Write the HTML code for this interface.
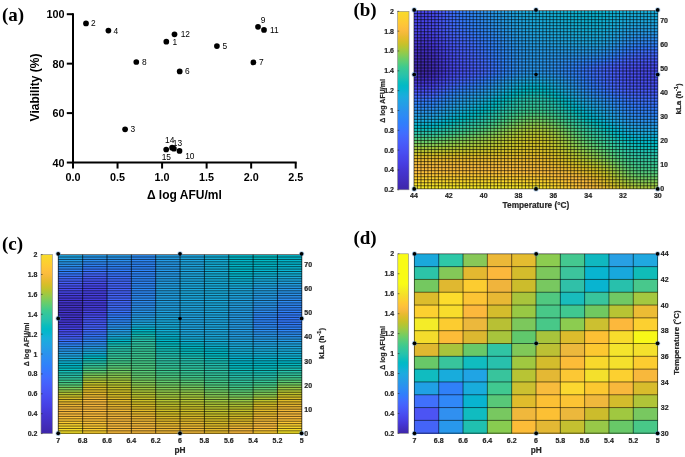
<!DOCTYPE html>
<html><head><meta charset="utf-8"><style>
html,body{margin:0;padding:0;background:#fff;width:685px;height:457px;overflow:hidden}
svg{position:absolute;left:0;top:0;display:block;will-change:transform}
</style></head><body>
<svg width="685" height="457" viewBox="0 0 685 457">
<text x="2.0" y="20.8" font-family="'Liberation Serif',serif" font-weight="bold" font-size="19">(a)</text>
<text x="353.4" y="15.9" font-family="'Liberation Serif',serif" font-weight="bold" font-size="19">(b)</text>
<text x="2.0" y="249.8" font-family="'Liberation Serif',serif" font-weight="bold" font-size="19">(c)</text>
<text x="353.4" y="244.1" font-family="'Liberation Serif',serif" font-weight="bold" font-size="19">(d)</text>
<g stroke="#000" stroke-width="2" fill="none">
<path d="M73.0,13.2 V162.55 H296.7"/>
<path d="M66.8,162.55 H73.0"/>
<path d="M66.8,113.10 H73.0"/>
<path d="M66.8,63.65 H73.0"/>
<path d="M66.8,14.20 H73.0"/>
<path d="M73.00,162.55 V168.55"/>
<path d="M117.54,162.55 V168.55"/>
<path d="M162.08,162.55 V168.55"/>
<path d="M206.62,162.55 V168.55"/>
<path d="M251.16,162.55 V168.55"/>
<path d="M295.70,162.55 V168.55"/>
</g>
<g font-family="'Liberation Sans',sans-serif" font-weight="bold" font-size="10.8" fill="#000">
<text x="64.6" y="166.65" text-anchor="end">40</text>
<text x="64.6" y="117.20" text-anchor="end">60</text>
<text x="64.6" y="67.75" text-anchor="end">80</text>
<text x="64.6" y="18.30" text-anchor="end">100</text>
<text x="73.00" y="181.0" text-anchor="middle">0.0</text>
<text x="117.54" y="181.0" text-anchor="middle">0.5</text>
<text x="162.08" y="181.0" text-anchor="middle">1.0</text>
<text x="206.62" y="181.0" text-anchor="middle">1.5</text>
<text x="251.16" y="181.0" text-anchor="middle">2.0</text>
<text x="295.70" y="181.0" text-anchor="middle">2.5</text>
</g>
<text x="184.3" y="199.4" font-family="'Liberation Sans',sans-serif" font-weight="bold" font-size="12" text-anchor="middle">Δ log AFU/ml</text>
<text transform="translate(38.9,87.5) rotate(-90)" font-family="'Liberation Sans',sans-serif" font-weight="bold" font-size="12" text-anchor="middle">Viability (%)</text>
<g fill="#000">
<circle cx="166.3" cy="41.7" r="2.85"/>
<circle cx="86.0" cy="23.4" r="2.85"/>
<circle cx="125.1" cy="129.3" r="2.85"/>
<circle cx="108.4" cy="30.6" r="2.85"/>
<circle cx="216.9" cy="46.1" r="2.85"/>
<circle cx="179.7" cy="71.4" r="2.85"/>
<circle cx="253.4" cy="62.4" r="2.85"/>
<circle cx="136.3" cy="62.0" r="2.85"/>
<circle cx="258.0" cy="26.8" r="2.85"/>
<circle cx="179.5" cy="150.9" r="2.85"/>
<circle cx="264.0" cy="29.9" r="2.85"/>
<circle cx="174.5" cy="34.3" r="2.85"/>
<circle cx="173.9" cy="148.7" r="2.85"/>
<circle cx="172.1" cy="147.7" r="2.85"/>
<circle cx="166.2" cy="149.5" r="2.85"/>
</g>
<g font-family="'Liberation Sans',sans-serif" font-size="8.4" fill="#000">
<text x="172.6" y="44.6">1</text>
<text x="91.1" y="26.3">2</text>
<text x="130.4" y="132.2">3</text>
<text x="113.6" y="33.5">4</text>
<text x="222.6" y="49.0">5</text>
<text x="185.0" y="74.3">6</text>
<text x="258.9" y="65.3">7</text>
<text x="142.0" y="64.9">8</text>
<text x="260.8" y="22.9">9</text>
<text x="185.2" y="159.3">10</text>
<text x="269.9" y="32.8">11</text>
<text x="180.7" y="36.7">12</text>
<text x="172.8" y="145.6">13</text>
<text x="165.0" y="142.8">14</text>
<text x="161.7" y="159.6">15</text>
</g>
<defs><linearGradient id="gb0"><stop offset="0.000" stop-color="#4743e7"/><stop offset="0.042" stop-color="#4743e7"/><stop offset="0.083" stop-color="#484aee"/><stop offset="0.125" stop-color="#465ffb"/><stop offset="0.167" stop-color="#3b72ff"/><stop offset="0.208" stop-color="#307ffb"/><stop offset="0.250" stop-color="#2d89f5"/><stop offset="0.292" stop-color="#2b92ee"/><stop offset="0.333" stop-color="#2699e9"/><stop offset="0.375" stop-color="#23a0e5"/><stop offset="0.417" stop-color="#1fa6e2"/><stop offset="0.458" stop-color="#1caadf"/><stop offset="0.500" stop-color="#19addc"/><stop offset="0.542" stop-color="#16afd9"/><stop offset="0.583" stop-color="#13b0d7"/><stop offset="0.625" stop-color="#10b2d5"/><stop offset="0.667" stop-color="#0db3d3"/><stop offset="0.708" stop-color="#0bb3d2"/><stop offset="0.750" stop-color="#0bb4d2"/><stop offset="0.792" stop-color="#0db3d3"/><stop offset="0.833" stop-color="#11b1d6"/><stop offset="0.875" stop-color="#14b0d8"/><stop offset="0.917" stop-color="#16afda"/><stop offset="0.958" stop-color="#17aeda"/><stop offset="1.000" stop-color="#17aeda"/></linearGradient><linearGradient id="gb1"><stop offset="0.000" stop-color="#4743e7"/><stop offset="0.042" stop-color="#4743e7"/><stop offset="0.083" stop-color="#484aee"/><stop offset="0.125" stop-color="#465ffb"/><stop offset="0.167" stop-color="#3c72ff"/><stop offset="0.208" stop-color="#307ffb"/><stop offset="0.250" stop-color="#2d88f6"/><stop offset="0.292" stop-color="#2b91ef"/><stop offset="0.333" stop-color="#2698ea"/><stop offset="0.375" stop-color="#249fe5"/><stop offset="0.417" stop-color="#1fa5e2"/><stop offset="0.458" stop-color="#1caadf"/><stop offset="0.500" stop-color="#19acdc"/><stop offset="0.542" stop-color="#16aeda"/><stop offset="0.583" stop-color="#13b0d8"/><stop offset="0.625" stop-color="#11b2d5"/><stop offset="0.667" stop-color="#0eb3d4"/><stop offset="0.708" stop-color="#0cb3d3"/><stop offset="0.750" stop-color="#0bb3d2"/><stop offset="0.792" stop-color="#0eb2d4"/><stop offset="0.833" stop-color="#13b1d7"/><stop offset="0.875" stop-color="#16aeda"/><stop offset="0.917" stop-color="#19addc"/><stop offset="0.958" stop-color="#19addc"/><stop offset="1.000" stop-color="#19addc"/></linearGradient><linearGradient id="gb2"><stop offset="0.000" stop-color="#4743e7"/><stop offset="0.042" stop-color="#4743e7"/><stop offset="0.083" stop-color="#484aed"/><stop offset="0.125" stop-color="#465ffb"/><stop offset="0.167" stop-color="#3d71ff"/><stop offset="0.208" stop-color="#317dfc"/><stop offset="0.250" stop-color="#2e87f7"/><stop offset="0.292" stop-color="#2c8ff0"/><stop offset="0.333" stop-color="#2797ea"/><stop offset="0.375" stop-color="#249ee6"/><stop offset="0.417" stop-color="#20a4e3"/><stop offset="0.458" stop-color="#1ca9e0"/><stop offset="0.500" stop-color="#1aacdd"/><stop offset="0.542" stop-color="#17aedb"/><stop offset="0.583" stop-color="#14b0d8"/><stop offset="0.625" stop-color="#12b1d6"/><stop offset="0.667" stop-color="#0fb2d4"/><stop offset="0.708" stop-color="#0db3d3"/><stop offset="0.750" stop-color="#0db3d3"/><stop offset="0.792" stop-color="#10b2d5"/><stop offset="0.833" stop-color="#15afd8"/><stop offset="0.875" stop-color="#19addc"/><stop offset="0.917" stop-color="#1babde"/><stop offset="0.958" stop-color="#1babde"/><stop offset="1.000" stop-color="#1babde"/></linearGradient><linearGradient id="gb3"><stop offset="0.000" stop-color="#4743e7"/><stop offset="0.042" stop-color="#4743e7"/><stop offset="0.083" stop-color="#4849ed"/><stop offset="0.125" stop-color="#465efb"/><stop offset="0.167" stop-color="#3e6fff"/><stop offset="0.208" stop-color="#327cfc"/><stop offset="0.250" stop-color="#2e85f8"/><stop offset="0.292" stop-color="#2c8ef1"/><stop offset="0.333" stop-color="#2896eb"/><stop offset="0.375" stop-color="#249de6"/><stop offset="0.417" stop-color="#21a3e3"/><stop offset="0.458" stop-color="#1da8e0"/><stop offset="0.500" stop-color="#1aabdd"/><stop offset="0.542" stop-color="#18addb"/><stop offset="0.583" stop-color="#15afd9"/><stop offset="0.625" stop-color="#13b0d7"/><stop offset="0.667" stop-color="#11b2d5"/><stop offset="0.708" stop-color="#0fb2d4"/><stop offset="0.750" stop-color="#0eb2d4"/><stop offset="0.792" stop-color="#12b1d6"/><stop offset="0.833" stop-color="#17aeda"/><stop offset="0.875" stop-color="#1babde"/><stop offset="0.917" stop-color="#1da9e0"/><stop offset="0.958" stop-color="#1da8e0"/><stop offset="1.000" stop-color="#1da8e0"/></linearGradient><linearGradient id="gb4"><stop offset="0.000" stop-color="#4743e7"/><stop offset="0.042" stop-color="#4743e7"/><stop offset="0.083" stop-color="#4849ed"/><stop offset="0.125" stop-color="#465dfb"/><stop offset="0.167" stop-color="#3f6eff"/><stop offset="0.208" stop-color="#347afd"/><stop offset="0.250" stop-color="#2e84f9"/><stop offset="0.292" stop-color="#2d8cf3"/><stop offset="0.333" stop-color="#2995ec"/><stop offset="0.375" stop-color="#259ce7"/><stop offset="0.417" stop-color="#21a2e4"/><stop offset="0.458" stop-color="#1ea7e1"/><stop offset="0.500" stop-color="#1baade"/><stop offset="0.542" stop-color="#19acdc"/><stop offset="0.583" stop-color="#17aeda"/><stop offset="0.625" stop-color="#14b0d8"/><stop offset="0.667" stop-color="#12b1d6"/><stop offset="0.708" stop-color="#11b1d6"/><stop offset="0.750" stop-color="#10b2d5"/><stop offset="0.792" stop-color="#14b0d8"/><stop offset="0.833" stop-color="#19addc"/><stop offset="0.875" stop-color="#1da9e0"/><stop offset="0.917" stop-color="#1fa6e2"/><stop offset="0.958" stop-color="#1fa5e2"/><stop offset="1.000" stop-color="#1fa5e2"/></linearGradient><linearGradient id="gb5"><stop offset="0.000" stop-color="#4742e6"/><stop offset="0.042" stop-color="#4742e6"/><stop offset="0.083" stop-color="#4849ed"/><stop offset="0.125" stop-color="#475cfa"/><stop offset="0.167" stop-color="#406cfe"/><stop offset="0.208" stop-color="#3678fd"/><stop offset="0.250" stop-color="#2f82fa"/><stop offset="0.292" stop-color="#2d8af4"/><stop offset="0.333" stop-color="#2a93ee"/><stop offset="0.375" stop-color="#269be8"/><stop offset="0.417" stop-color="#22a1e4"/><stop offset="0.458" stop-color="#1fa6e1"/><stop offset="0.500" stop-color="#1ca9df"/><stop offset="0.542" stop-color="#1aacdd"/><stop offset="0.583" stop-color="#18addb"/><stop offset="0.625" stop-color="#16afd9"/><stop offset="0.667" stop-color="#14b0d8"/><stop offset="0.708" stop-color="#12b1d7"/><stop offset="0.750" stop-color="#12b1d6"/><stop offset="0.792" stop-color="#16afd9"/><stop offset="0.833" stop-color="#1babde"/><stop offset="0.875" stop-color="#1fa6e2"/><stop offset="0.917" stop-color="#21a2e4"/><stop offset="0.958" stop-color="#22a2e4"/><stop offset="1.000" stop-color="#22a2e4"/></linearGradient><linearGradient id="gb6"><stop offset="0.000" stop-color="#4740e4"/><stop offset="0.042" stop-color="#4740e4"/><stop offset="0.083" stop-color="#4746ea"/><stop offset="0.125" stop-color="#475af9"/><stop offset="0.167" stop-color="#426afe"/><stop offset="0.208" stop-color="#3975fe"/><stop offset="0.250" stop-color="#307ffb"/><stop offset="0.292" stop-color="#2d88f6"/><stop offset="0.333" stop-color="#2b90ef"/><stop offset="0.375" stop-color="#2698ea"/><stop offset="0.417" stop-color="#249fe5"/><stop offset="0.458" stop-color="#20a5e3"/><stop offset="0.500" stop-color="#1da8e0"/><stop offset="0.542" stop-color="#1baade"/><stop offset="0.583" stop-color="#19acdc"/><stop offset="0.625" stop-color="#18aedb"/><stop offset="0.667" stop-color="#16afd9"/><stop offset="0.708" stop-color="#14b0d8"/><stop offset="0.750" stop-color="#14b0d8"/><stop offset="0.792" stop-color="#18addb"/><stop offset="0.833" stop-color="#1da8e0"/><stop offset="0.875" stop-color="#21a2e4"/><stop offset="0.917" stop-color="#249ee6"/><stop offset="0.958" stop-color="#249ee6"/><stop offset="1.000" stop-color="#249ee6"/></linearGradient><linearGradient id="gb7"><stop offset="0.000" stop-color="#463ddf"/><stop offset="0.042" stop-color="#463ddf"/><stop offset="0.083" stop-color="#4743e7"/><stop offset="0.125" stop-color="#4756f7"/><stop offset="0.167" stop-color="#4466fd"/><stop offset="0.208" stop-color="#3c71ff"/><stop offset="0.250" stop-color="#327bfc"/><stop offset="0.292" stop-color="#2e85f8"/><stop offset="0.333" stop-color="#2c8ef2"/><stop offset="0.375" stop-color="#2896eb"/><stop offset="0.417" stop-color="#249de6"/><stop offset="0.458" stop-color="#21a3e4"/><stop offset="0.500" stop-color="#1fa6e2"/><stop offset="0.542" stop-color="#1da9e0"/><stop offset="0.583" stop-color="#1babde"/><stop offset="0.625" stop-color="#19acdc"/><stop offset="0.667" stop-color="#18addb"/><stop offset="0.708" stop-color="#17aeda"/><stop offset="0.750" stop-color="#17aeda"/><stop offset="0.792" stop-color="#1aabdd"/><stop offset="0.833" stop-color="#1fa5e2"/><stop offset="0.875" stop-color="#249ee6"/><stop offset="0.917" stop-color="#2699e9"/><stop offset="0.958" stop-color="#2699ea"/><stop offset="1.000" stop-color="#2699ea"/></linearGradient><linearGradient id="gb8"><stop offset="0.000" stop-color="#4639da"/><stop offset="0.042" stop-color="#4639da"/><stop offset="0.083" stop-color="#473fe3"/><stop offset="0.125" stop-color="#4853f5"/><stop offset="0.167" stop-color="#4563fc"/><stop offset="0.208" stop-color="#3f6efe"/><stop offset="0.250" stop-color="#3678fd"/><stop offset="0.292" stop-color="#2f82fa"/><stop offset="0.333" stop-color="#2d8bf4"/><stop offset="0.375" stop-color="#2994ed"/><stop offset="0.417" stop-color="#259be8"/><stop offset="0.458" stop-color="#23a1e5"/><stop offset="0.500" stop-color="#20a4e3"/><stop offset="0.542" stop-color="#1ea7e1"/><stop offset="0.583" stop-color="#1da9e0"/><stop offset="0.625" stop-color="#1baade"/><stop offset="0.667" stop-color="#1aacdd"/><stop offset="0.708" stop-color="#19acdc"/><stop offset="0.750" stop-color="#19addc"/><stop offset="0.792" stop-color="#1ca9df"/><stop offset="0.833" stop-color="#22a2e4"/><stop offset="0.875" stop-color="#269ae9"/><stop offset="0.917" stop-color="#2994ed"/><stop offset="0.958" stop-color="#2a93ee"/><stop offset="1.000" stop-color="#2a93ee"/></linearGradient><linearGradient id="gb9"><stop offset="0.000" stop-color="#4536d4"/><stop offset="0.042" stop-color="#4536d4"/><stop offset="0.083" stop-color="#463cde"/><stop offset="0.125" stop-color="#4850f2"/><stop offset="0.167" stop-color="#4660fb"/><stop offset="0.208" stop-color="#416bfe"/><stop offset="0.250" stop-color="#3975fe"/><stop offset="0.292" stop-color="#307ffb"/><stop offset="0.333" stop-color="#2d88f6"/><stop offset="0.375" stop-color="#2b91ef"/><stop offset="0.417" stop-color="#2699e9"/><stop offset="0.458" stop-color="#249fe6"/><stop offset="0.500" stop-color="#22a2e4"/><stop offset="0.542" stop-color="#20a5e3"/><stop offset="0.583" stop-color="#1ea7e1"/><stop offset="0.625" stop-color="#1da8e0"/><stop offset="0.667" stop-color="#1caadf"/><stop offset="0.708" stop-color="#1baade"/><stop offset="0.750" stop-color="#1baade"/><stop offset="0.792" stop-color="#1fa6e1"/><stop offset="0.833" stop-color="#249ee6"/><stop offset="0.875" stop-color="#2895ec"/><stop offset="0.917" stop-color="#2c8ef1"/><stop offset="0.958" stop-color="#2d8df2"/><stop offset="1.000" stop-color="#2d8df2"/></linearGradient><linearGradient id="gb10"><stop offset="0.000" stop-color="#4434cf"/><stop offset="0.042" stop-color="#4434cf"/><stop offset="0.083" stop-color="#4639da"/><stop offset="0.125" stop-color="#484df0"/><stop offset="0.167" stop-color="#465dfa"/><stop offset="0.208" stop-color="#4368fe"/><stop offset="0.250" stop-color="#3b72ff"/><stop offset="0.292" stop-color="#327cfc"/><stop offset="0.333" stop-color="#2e86f7"/><stop offset="0.375" stop-color="#2c90f0"/><stop offset="0.417" stop-color="#2797ea"/><stop offset="0.458" stop-color="#259de7"/><stop offset="0.500" stop-color="#23a0e5"/><stop offset="0.542" stop-color="#22a2e4"/><stop offset="0.583" stop-color="#20a4e3"/><stop offset="0.625" stop-color="#1fa6e2"/><stop offset="0.667" stop-color="#1ea7e1"/><stop offset="0.708" stop-color="#1ea8e1"/><stop offset="0.750" stop-color="#1ea8e1"/><stop offset="0.792" stop-color="#21a3e3"/><stop offset="0.833" stop-color="#269ae9"/><stop offset="0.875" stop-color="#2c90f0"/><stop offset="0.917" stop-color="#2d88f6"/><stop offset="0.958" stop-color="#2e87f7"/><stop offset="1.000" stop-color="#2e87f7"/></linearGradient><linearGradient id="gb11"><stop offset="0.000" stop-color="#4332c9"/><stop offset="0.042" stop-color="#4332c9"/><stop offset="0.083" stop-color="#4536d5"/><stop offset="0.125" stop-color="#484aee"/><stop offset="0.167" stop-color="#475af9"/><stop offset="0.208" stop-color="#4465fd"/><stop offset="0.250" stop-color="#3e70ff"/><stop offset="0.292" stop-color="#337afd"/><stop offset="0.333" stop-color="#2e85f8"/><stop offset="0.375" stop-color="#2c8ef1"/><stop offset="0.417" stop-color="#2896ec"/><stop offset="0.458" stop-color="#259be8"/><stop offset="0.500" stop-color="#249ee6"/><stop offset="0.542" stop-color="#23a0e5"/><stop offset="0.583" stop-color="#22a1e4"/><stop offset="0.625" stop-color="#21a3e4"/><stop offset="0.667" stop-color="#21a3e3"/><stop offset="0.708" stop-color="#20a4e3"/><stop offset="0.750" stop-color="#21a4e3"/><stop offset="0.792" stop-color="#249ee6"/><stop offset="0.833" stop-color="#2994ed"/><stop offset="0.875" stop-color="#2d89f5"/><stop offset="0.917" stop-color="#2f81fa"/><stop offset="0.958" stop-color="#3080fb"/><stop offset="1.000" stop-color="#3080fb"/></linearGradient><linearGradient id="gb12"><stop offset="0.000" stop-color="#422fc2"/><stop offset="0.042" stop-color="#422fc2"/><stop offset="0.083" stop-color="#4434cf"/><stop offset="0.125" stop-color="#4747eb"/><stop offset="0.167" stop-color="#4758f8"/><stop offset="0.208" stop-color="#4563fd"/><stop offset="0.250" stop-color="#3f6dfe"/><stop offset="0.292" stop-color="#3678fd"/><stop offset="0.333" stop-color="#2e83f9"/><stop offset="0.375" stop-color="#2d8cf3"/><stop offset="0.417" stop-color="#2994ed"/><stop offset="0.458" stop-color="#269ae9"/><stop offset="0.500" stop-color="#259ce7"/><stop offset="0.542" stop-color="#249de7"/><stop offset="0.583" stop-color="#249ee6"/><stop offset="0.625" stop-color="#249fe6"/><stop offset="0.667" stop-color="#249fe5"/><stop offset="0.708" stop-color="#249fe5"/><stop offset="0.750" stop-color="#249ee6"/><stop offset="0.792" stop-color="#2699e9"/><stop offset="0.833" stop-color="#2c8ef1"/><stop offset="0.875" stop-color="#2f82f9"/><stop offset="0.917" stop-color="#3479fd"/><stop offset="0.958" stop-color="#3678fe"/><stop offset="1.000" stop-color="#3678fe"/></linearGradient><linearGradient id="gb13"><stop offset="0.000" stop-color="#412dbd"/><stop offset="0.042" stop-color="#412dbd"/><stop offset="0.083" stop-color="#4332ca"/><stop offset="0.125" stop-color="#4745e9"/><stop offset="0.167" stop-color="#4755f6"/><stop offset="0.208" stop-color="#4561fc"/><stop offset="0.250" stop-color="#416bfe"/><stop offset="0.292" stop-color="#3876fe"/><stop offset="0.333" stop-color="#2f81fa"/><stop offset="0.375" stop-color="#2d8bf4"/><stop offset="0.417" stop-color="#2a93ee"/><stop offset="0.458" stop-color="#2798ea"/><stop offset="0.500" stop-color="#269ae8"/><stop offset="0.542" stop-color="#269be8"/><stop offset="0.583" stop-color="#259be8"/><stop offset="0.625" stop-color="#259be8"/><stop offset="0.667" stop-color="#259be8"/><stop offset="0.708" stop-color="#269ae8"/><stop offset="0.750" stop-color="#2699e9"/><stop offset="0.792" stop-color="#2a93ee"/><stop offset="0.833" stop-color="#2d87f7"/><stop offset="0.875" stop-color="#337bfd"/><stop offset="0.917" stop-color="#3c71ff"/><stop offset="0.958" stop-color="#3e6fff"/><stop offset="1.000" stop-color="#3e6fff"/></linearGradient><linearGradient id="gb14"><stop offset="0.000" stop-color="#402bb8"/><stop offset="0.042" stop-color="#402bb8"/><stop offset="0.083" stop-color="#4330c5"/><stop offset="0.125" stop-color="#4742e6"/><stop offset="0.167" stop-color="#4853f5"/><stop offset="0.208" stop-color="#465ffb"/><stop offset="0.250" stop-color="#4269fe"/><stop offset="0.292" stop-color="#3a74fe"/><stop offset="0.333" stop-color="#307ffb"/><stop offset="0.375" stop-color="#2d89f5"/><stop offset="0.417" stop-color="#2b92ef"/><stop offset="0.458" stop-color="#2797eb"/><stop offset="0.500" stop-color="#2699e9"/><stop offset="0.542" stop-color="#2699ea"/><stop offset="0.583" stop-color="#2798ea"/><stop offset="0.625" stop-color="#2797ea"/><stop offset="0.667" stop-color="#2796eb"/><stop offset="0.708" stop-color="#2995ec"/><stop offset="0.750" stop-color="#2a93ee"/><stop offset="0.792" stop-color="#2d8cf3"/><stop offset="0.833" stop-color="#2f80fa"/><stop offset="0.875" stop-color="#3b73fe"/><stop offset="0.917" stop-color="#426afe"/><stop offset="0.958" stop-color="#4368fe"/><stop offset="1.000" stop-color="#4368fe"/></linearGradient><linearGradient id="gb15"><stop offset="0.000" stop-color="#402ab4"/><stop offset="0.042" stop-color="#402ab4"/><stop offset="0.083" stop-color="#422fc1"/><stop offset="0.125" stop-color="#4740e4"/><stop offset="0.167" stop-color="#4851f3"/><stop offset="0.208" stop-color="#475cfa"/><stop offset="0.250" stop-color="#4366fd"/><stop offset="0.292" stop-color="#3c71ff"/><stop offset="0.333" stop-color="#317dfc"/><stop offset="0.375" stop-color="#2d88f6"/><stop offset="0.417" stop-color="#2b90ef"/><stop offset="0.458" stop-color="#2896eb"/><stop offset="0.500" stop-color="#2798ea"/><stop offset="0.542" stop-color="#2797eb"/><stop offset="0.583" stop-color="#2896ec"/><stop offset="0.625" stop-color="#2994ed"/><stop offset="0.667" stop-color="#2b91ef"/><stop offset="0.708" stop-color="#2c8ff1"/><stop offset="0.750" stop-color="#2d8cf3"/><stop offset="0.792" stop-color="#2e85f8"/><stop offset="0.833" stop-color="#3578fd"/><stop offset="0.875" stop-color="#416bfe"/><stop offset="0.917" stop-color="#4562fc"/><stop offset="0.958" stop-color="#4561fc"/><stop offset="1.000" stop-color="#4561fc"/></linearGradient><linearGradient id="gb16"><stop offset="0.000" stop-color="#3f29b0"/><stop offset="0.042" stop-color="#3f29b0"/><stop offset="0.083" stop-color="#412dbd"/><stop offset="0.125" stop-color="#463ee1"/><stop offset="0.167" stop-color="#484ff1"/><stop offset="0.208" stop-color="#475af9"/><stop offset="0.250" stop-color="#4564fd"/><stop offset="0.292" stop-color="#3f6eff"/><stop offset="0.333" stop-color="#337bfd"/><stop offset="0.375" stop-color="#2e86f7"/><stop offset="0.417" stop-color="#2c8ff1"/><stop offset="0.458" stop-color="#2895ec"/><stop offset="0.500" stop-color="#2797eb"/><stop offset="0.542" stop-color="#2896ec"/><stop offset="0.583" stop-color="#2a93ed"/><stop offset="0.625" stop-color="#2c90f0"/><stop offset="0.667" stop-color="#2d8cf3"/><stop offset="0.708" stop-color="#2d87f7"/><stop offset="0.750" stop-color="#2e83f9"/><stop offset="0.792" stop-color="#337bfd"/><stop offset="0.833" stop-color="#3f6eff"/><stop offset="0.875" stop-color="#4562fc"/><stop offset="0.917" stop-color="#475bf9"/><stop offset="0.958" stop-color="#4759f9"/><stop offset="1.000" stop-color="#4759f9"/></linearGradient><linearGradient id="gb17"><stop offset="0.000" stop-color="#3e28ac"/><stop offset="0.042" stop-color="#3e28ac"/><stop offset="0.083" stop-color="#412cb9"/><stop offset="0.125" stop-color="#463cde"/><stop offset="0.167" stop-color="#484cf0"/><stop offset="0.208" stop-color="#4757f7"/><stop offset="0.250" stop-color="#4661fc"/><stop offset="0.292" stop-color="#416cfe"/><stop offset="0.333" stop-color="#3578fd"/><stop offset="0.375" stop-color="#2e84f8"/><stop offset="0.417" stop-color="#2c8ef1"/><stop offset="0.458" stop-color="#2994ed"/><stop offset="0.500" stop-color="#2796eb"/><stop offset="0.542" stop-color="#2995ec"/><stop offset="0.583" stop-color="#2b91ef"/><stop offset="0.625" stop-color="#2d8cf3"/><stop offset="0.667" stop-color="#2e86f8"/><stop offset="0.708" stop-color="#307ffb"/><stop offset="0.750" stop-color="#3479fd"/><stop offset="0.792" stop-color="#3e70ff"/><stop offset="0.833" stop-color="#4464fd"/><stop offset="0.875" stop-color="#475af9"/><stop offset="0.917" stop-color="#4853f5"/><stop offset="0.958" stop-color="#4852f4"/><stop offset="1.000" stop-color="#4852f4"/></linearGradient><linearGradient id="gb18"><stop offset="0.000" stop-color="#3e27aa"/><stop offset="0.042" stop-color="#3e27aa"/><stop offset="0.083" stop-color="#402bb7"/><stop offset="0.125" stop-color="#463bdc"/><stop offset="0.167" stop-color="#484bee"/><stop offset="0.208" stop-color="#4755f6"/><stop offset="0.250" stop-color="#465ffb"/><stop offset="0.292" stop-color="#4269fe"/><stop offset="0.333" stop-color="#3776fe"/><stop offset="0.375" stop-color="#2e83f9"/><stop offset="0.417" stop-color="#2d8df2"/><stop offset="0.458" stop-color="#2994ed"/><stop offset="0.500" stop-color="#2896ec"/><stop offset="0.542" stop-color="#2994ed"/><stop offset="0.583" stop-color="#2c8ff0"/><stop offset="0.625" stop-color="#2d89f6"/><stop offset="0.667" stop-color="#2f81fa"/><stop offset="0.708" stop-color="#3579fd"/><stop offset="0.750" stop-color="#3d71ff"/><stop offset="0.792" stop-color="#4367fd"/><stop offset="0.833" stop-color="#465dfa"/><stop offset="0.875" stop-color="#4854f5"/><stop offset="0.917" stop-color="#484ef1"/><stop offset="0.958" stop-color="#484df0"/><stop offset="1.000" stop-color="#484df0"/></linearGradient><linearGradient id="gb19"><stop offset="0.000" stop-color="#3e26a8"/><stop offset="0.042" stop-color="#3e26a8"/><stop offset="0.083" stop-color="#402bb6"/><stop offset="0.125" stop-color="#463adb"/><stop offset="0.167" stop-color="#484aee"/><stop offset="0.208" stop-color="#4854f5"/><stop offset="0.250" stop-color="#465efb"/><stop offset="0.292" stop-color="#4368fe"/><stop offset="0.333" stop-color="#3876fe"/><stop offset="0.375" stop-color="#2f82f9"/><stop offset="0.417" stop-color="#2d8df3"/><stop offset="0.458" stop-color="#2a93ed"/><stop offset="0.500" stop-color="#2895ec"/><stop offset="0.542" stop-color="#2a93ed"/><stop offset="0.583" stop-color="#2c8ef1"/><stop offset="0.625" stop-color="#2e87f7"/><stop offset="0.667" stop-color="#307ffb"/><stop offset="0.708" stop-color="#3875fe"/><stop offset="0.750" stop-color="#406dfe"/><stop offset="0.792" stop-color="#4564fd"/><stop offset="0.833" stop-color="#475af9"/><stop offset="0.875" stop-color="#4851f3"/><stop offset="0.917" stop-color="#484bef"/><stop offset="0.958" stop-color="#484aee"/><stop offset="1.000" stop-color="#484aee"/></linearGradient><linearGradient id="gb20"><stop offset="0.000" stop-color="#3e27ab"/><stop offset="0.042" stop-color="#3e27ab"/><stop offset="0.083" stop-color="#402bb8"/><stop offset="0.125" stop-color="#463bdd"/><stop offset="0.167" stop-color="#484bef"/><stop offset="0.208" stop-color="#4756f6"/><stop offset="0.250" stop-color="#465ffb"/><stop offset="0.292" stop-color="#426afe"/><stop offset="0.333" stop-color="#3677fe"/><stop offset="0.375" stop-color="#2e84f8"/><stop offset="0.417" stop-color="#2c8ef1"/><stop offset="0.458" stop-color="#2895ec"/><stop offset="0.500" stop-color="#2797eb"/><stop offset="0.542" stop-color="#2895ec"/><stop offset="0.583" stop-color="#2c90f0"/><stop offset="0.625" stop-color="#2d88f6"/><stop offset="0.667" stop-color="#307ffb"/><stop offset="0.708" stop-color="#3876fe"/><stop offset="0.750" stop-color="#3f6dfe"/><stop offset="0.792" stop-color="#4564fd"/><stop offset="0.833" stop-color="#475af9"/><stop offset="0.875" stop-color="#4851f3"/><stop offset="0.917" stop-color="#484bef"/><stop offset="0.958" stop-color="#484aee"/><stop offset="1.000" stop-color="#484aee"/></linearGradient><linearGradient id="gb21"><stop offset="0.000" stop-color="#402ab4"/><stop offset="0.042" stop-color="#402ab4"/><stop offset="0.083" stop-color="#422fc1"/><stop offset="0.125" stop-color="#473fe3"/><stop offset="0.167" stop-color="#4850f2"/><stop offset="0.208" stop-color="#475af9"/><stop offset="0.250" stop-color="#4464fd"/><stop offset="0.292" stop-color="#3e70ff"/><stop offset="0.333" stop-color="#317efb"/><stop offset="0.375" stop-color="#2d8af4"/><stop offset="0.417" stop-color="#2994ed"/><stop offset="0.458" stop-color="#259be8"/><stop offset="0.500" stop-color="#259de7"/><stop offset="0.542" stop-color="#269be8"/><stop offset="0.583" stop-color="#2995ec"/><stop offset="0.625" stop-color="#2d8cf3"/><stop offset="0.667" stop-color="#2f83f9"/><stop offset="0.708" stop-color="#3678fd"/><stop offset="0.750" stop-color="#3e6fff"/><stop offset="0.792" stop-color="#4465fd"/><stop offset="0.833" stop-color="#475bf9"/><stop offset="0.875" stop-color="#4852f4"/><stop offset="0.917" stop-color="#484cf0"/><stop offset="0.958" stop-color="#484bef"/><stop offset="1.000" stop-color="#484bef"/></linearGradient><linearGradient id="gb22"><stop offset="0.000" stop-color="#422fc1"/><stop offset="0.042" stop-color="#422fc1"/><stop offset="0.083" stop-color="#4433cd"/><stop offset="0.125" stop-color="#4746ea"/><stop offset="0.167" stop-color="#4757f7"/><stop offset="0.208" stop-color="#4562fc"/><stop offset="0.250" stop-color="#406cfe"/><stop offset="0.292" stop-color="#3578fd"/><stop offset="0.333" stop-color="#2e86f7"/><stop offset="0.375" stop-color="#2b92ee"/><stop offset="0.417" stop-color="#259ce7"/><stop offset="0.458" stop-color="#21a3e4"/><stop offset="0.500" stop-color="#20a5e2"/><stop offset="0.542" stop-color="#22a2e4"/><stop offset="0.583" stop-color="#259be7"/><stop offset="0.625" stop-color="#2b92ee"/><stop offset="0.667" stop-color="#2e87f7"/><stop offset="0.708" stop-color="#327bfc"/><stop offset="0.750" stop-color="#3c71ff"/><stop offset="0.792" stop-color="#4367fd"/><stop offset="0.833" stop-color="#475cfa"/><stop offset="0.875" stop-color="#4853f5"/><stop offset="0.917" stop-color="#484ef1"/><stop offset="0.958" stop-color="#484df0"/><stop offset="1.000" stop-color="#484df0"/></linearGradient><linearGradient id="gb23"><stop offset="0.000" stop-color="#4434d0"/><stop offset="0.042" stop-color="#4434d0"/><stop offset="0.083" stop-color="#463adb"/><stop offset="0.125" stop-color="#484ef1"/><stop offset="0.167" stop-color="#465ffb"/><stop offset="0.208" stop-color="#426afe"/><stop offset="0.250" stop-color="#3875fe"/><stop offset="0.292" stop-color="#2f82fa"/><stop offset="0.333" stop-color="#2c8ef1"/><stop offset="0.375" stop-color="#269be8"/><stop offset="0.417" stop-color="#20a4e3"/><stop offset="0.458" stop-color="#1babde"/><stop offset="0.500" stop-color="#19addc"/><stop offset="0.542" stop-color="#1caadf"/><stop offset="0.583" stop-color="#21a3e4"/><stop offset="0.625" stop-color="#2798ea"/><stop offset="0.667" stop-color="#2d8cf3"/><stop offset="0.708" stop-color="#307ffb"/><stop offset="0.750" stop-color="#3974fe"/><stop offset="0.792" stop-color="#4269fe"/><stop offset="0.833" stop-color="#465efb"/><stop offset="0.875" stop-color="#4755f6"/><stop offset="0.917" stop-color="#4850f2"/><stop offset="0.958" stop-color="#484ff2"/><stop offset="1.000" stop-color="#484ff2"/></linearGradient><linearGradient id="gb24"><stop offset="0.000" stop-color="#463bdd"/><stop offset="0.042" stop-color="#463bdd"/><stop offset="0.083" stop-color="#4741e5"/><stop offset="0.125" stop-color="#4756f7"/><stop offset="0.167" stop-color="#4367fd"/><stop offset="0.208" stop-color="#3a73fe"/><stop offset="0.250" stop-color="#317efb"/><stop offset="0.292" stop-color="#2d8af5"/><stop offset="0.333" stop-color="#2796eb"/><stop offset="0.375" stop-color="#22a2e4"/><stop offset="0.417" stop-color="#1aabdd"/><stop offset="0.458" stop-color="#11b1d6"/><stop offset="0.500" stop-color="#0cb3d3"/><stop offset="0.542" stop-color="#13b0d7"/><stop offset="0.583" stop-color="#1da9e0"/><stop offset="0.625" stop-color="#249ee6"/><stop offset="0.667" stop-color="#2b90ef"/><stop offset="0.708" stop-color="#2e83f9"/><stop offset="0.750" stop-color="#3678fe"/><stop offset="0.792" stop-color="#406cfe"/><stop offset="0.833" stop-color="#4661fc"/><stop offset="0.875" stop-color="#4757f8"/><stop offset="0.917" stop-color="#4852f4"/><stop offset="0.958" stop-color="#4851f3"/><stop offset="1.000" stop-color="#4851f3"/></linearGradient><linearGradient id="gb25"><stop offset="0.000" stop-color="#4744e8"/><stop offset="0.042" stop-color="#4744e8"/><stop offset="0.083" stop-color="#484aee"/><stop offset="0.125" stop-color="#465ffb"/><stop offset="0.167" stop-color="#3d71ff"/><stop offset="0.208" stop-color="#327cfc"/><stop offset="0.250" stop-color="#2e86f7"/><stop offset="0.292" stop-color="#2b91ef"/><stop offset="0.333" stop-color="#259de7"/><stop offset="0.375" stop-color="#1da8e0"/><stop offset="0.417" stop-color="#12b1d6"/><stop offset="0.458" stop-color="#05b6ce"/><stop offset="0.500" stop-color="#02b7cb"/><stop offset="0.542" stop-color="#07b5d0"/><stop offset="0.583" stop-color="#17aedb"/><stop offset="0.625" stop-color="#21a3e4"/><stop offset="0.667" stop-color="#2895ec"/><stop offset="0.708" stop-color="#2e87f7"/><stop offset="0.750" stop-color="#327cfc"/><stop offset="0.792" stop-color="#3e70ff"/><stop offset="0.833" stop-color="#4464fd"/><stop offset="0.875" stop-color="#475bf9"/><stop offset="0.917" stop-color="#4755f6"/><stop offset="0.958" stop-color="#4854f6"/><stop offset="1.000" stop-color="#4854f6"/></linearGradient><linearGradient id="gb26"><stop offset="0.000" stop-color="#484ef1"/><stop offset="0.042" stop-color="#484ef1"/><stop offset="0.083" stop-color="#4755f6"/><stop offset="0.125" stop-color="#426afe"/><stop offset="0.167" stop-color="#327cfc"/><stop offset="0.208" stop-color="#2e86f7"/><stop offset="0.250" stop-color="#2c8ef1"/><stop offset="0.292" stop-color="#2698ea"/><stop offset="0.333" stop-color="#21a4e3"/><stop offset="0.375" stop-color="#17aeda"/><stop offset="0.417" stop-color="#06b5ce"/><stop offset="0.458" stop-color="#02bac5"/><stop offset="0.500" stop-color="#04bbc2"/><stop offset="0.542" stop-color="#01b9c7"/><stop offset="0.583" stop-color="#0eb2d4"/><stop offset="0.625" stop-color="#1ea8e0"/><stop offset="0.667" stop-color="#269ae8"/><stop offset="0.708" stop-color="#2d8cf3"/><stop offset="0.750" stop-color="#2f81fa"/><stop offset="0.792" stop-color="#3876fe"/><stop offset="0.833" stop-color="#426afe"/><stop offset="0.875" stop-color="#4660fc"/><stop offset="0.917" stop-color="#475bf9"/><stop offset="0.958" stop-color="#475af9"/><stop offset="1.000" stop-color="#475af9"/></linearGradient><linearGradient id="gb27"><stop offset="0.000" stop-color="#475af9"/><stop offset="0.042" stop-color="#475af9"/><stop offset="0.083" stop-color="#4660fc"/><stop offset="0.125" stop-color="#3876fe"/><stop offset="0.167" stop-color="#2e86f7"/><stop offset="0.208" stop-color="#2c8ff1"/><stop offset="0.250" stop-color="#2797eb"/><stop offset="0.292" stop-color="#23a0e5"/><stop offset="0.333" stop-color="#1caadf"/><stop offset="0.375" stop-color="#0cb3d3"/><stop offset="0.417" stop-color="#01b9c6"/><stop offset="0.458" stop-color="#0cbdbc"/><stop offset="0.500" stop-color="#13beb9"/><stop offset="0.542" stop-color="#08bcbf"/><stop offset="0.583" stop-color="#03b7cc"/><stop offset="0.625" stop-color="#19addc"/><stop offset="0.667" stop-color="#239fe5"/><stop offset="0.708" stop-color="#2b92ee"/><stop offset="0.750" stop-color="#2e87f7"/><stop offset="0.792" stop-color="#327cfc"/><stop offset="0.833" stop-color="#3d70ff"/><stop offset="0.875" stop-color="#4367fd"/><stop offset="0.917" stop-color="#4561fc"/><stop offset="0.958" stop-color="#4660fc"/><stop offset="1.000" stop-color="#4660fc"/></linearGradient><linearGradient id="gb28"><stop offset="0.000" stop-color="#4367fd"/><stop offset="0.042" stop-color="#4367fd"/><stop offset="0.083" stop-color="#406dfe"/><stop offset="0.125" stop-color="#307ffb"/><stop offset="0.167" stop-color="#2d8df2"/><stop offset="0.208" stop-color="#2896eb"/><stop offset="0.250" stop-color="#249ee6"/><stop offset="0.292" stop-color="#1ea7e1"/><stop offset="0.333" stop-color="#14b0d8"/><stop offset="0.375" stop-color="#01b8ca"/><stop offset="0.417" stop-color="#0bbdbd"/><stop offset="0.458" stop-color="#1dc0b3"/><stop offset="0.500" stop-color="#22c1b0"/><stop offset="0.542" stop-color="#18bfb6"/><stop offset="0.583" stop-color="#02bac4"/><stop offset="0.625" stop-color="#10b2d5"/><stop offset="0.667" stop-color="#1fa6e2"/><stop offset="0.708" stop-color="#2699e9"/><stop offset="0.750" stop-color="#2c8ef1"/><stop offset="0.792" stop-color="#2e84f9"/><stop offset="0.833" stop-color="#3678fd"/><stop offset="0.875" stop-color="#3f6efe"/><stop offset="0.917" stop-color="#4368fe"/><stop offset="0.958" stop-color="#4367fd"/><stop offset="1.000" stop-color="#4367fd"/></linearGradient><linearGradient id="gb29"><stop offset="0.000" stop-color="#3975fe"/><stop offset="0.042" stop-color="#3975fe"/><stop offset="0.083" stop-color="#3479fd"/><stop offset="0.125" stop-color="#2e87f7"/><stop offset="0.167" stop-color="#2a93ee"/><stop offset="0.208" stop-color="#259ce7"/><stop offset="0.250" stop-color="#20a5e2"/><stop offset="0.292" stop-color="#18addb"/><stop offset="0.333" stop-color="#06b5cf"/><stop offset="0.375" stop-color="#05bbc1"/><stop offset="0.417" stop-color="#1bc0b4"/><stop offset="0.458" stop-color="#28c2ab"/><stop offset="0.500" stop-color="#2bc3a8"/><stop offset="0.542" stop-color="#25c2ae"/><stop offset="0.583" stop-color="#0dbdbb"/><stop offset="0.625" stop-color="#04b6cd"/><stop offset="0.667" stop-color="#19acdc"/><stop offset="0.708" stop-color="#23a0e5"/><stop offset="0.750" stop-color="#2796eb"/><stop offset="0.792" stop-color="#2d8cf3"/><stop offset="0.833" stop-color="#2f80fa"/><stop offset="0.875" stop-color="#3876fe"/><stop offset="0.917" stop-color="#3e6fff"/><stop offset="0.958" stop-color="#3f6efe"/><stop offset="1.000" stop-color="#3f6efe"/></linearGradient><linearGradient id="gb30"><stop offset="0.000" stop-color="#307efb"/><stop offset="0.042" stop-color="#307efb"/><stop offset="0.083" stop-color="#2f82f9"/><stop offset="0.125" stop-color="#2c8ef2"/><stop offset="0.167" stop-color="#2698ea"/><stop offset="0.208" stop-color="#22a2e4"/><stop offset="0.250" stop-color="#1baade"/><stop offset="0.292" stop-color="#10b2d5"/><stop offset="0.333" stop-color="#01b8c8"/><stop offset="0.375" stop-color="#10beba"/><stop offset="0.417" stop-color="#25c2ae"/><stop offset="0.458" stop-color="#2ec4a4"/><stop offset="0.500" stop-color="#30c5a1"/><stop offset="0.542" stop-color="#2bc3a7"/><stop offset="0.583" stop-color="#1ac0b5"/><stop offset="0.625" stop-color="#01b9c6"/><stop offset="0.667" stop-color="#12b1d7"/><stop offset="0.708" stop-color="#1fa6e2"/><stop offset="0.750" stop-color="#259ce7"/><stop offset="0.792" stop-color="#2b92ee"/><stop offset="0.833" stop-color="#2e86f7"/><stop offset="0.875" stop-color="#327bfc"/><stop offset="0.917" stop-color="#3974fe"/><stop offset="0.958" stop-color="#3b73fe"/><stop offset="1.000" stop-color="#3b73fe"/></linearGradient><linearGradient id="gb31"><stop offset="0.000" stop-color="#2e85f8"/><stop offset="0.042" stop-color="#2e85f8"/><stop offset="0.083" stop-color="#2d89f5"/><stop offset="0.125" stop-color="#2994ed"/><stop offset="0.167" stop-color="#249ee6"/><stop offset="0.208" stop-color="#1ea7e1"/><stop offset="0.250" stop-color="#16afd9"/><stop offset="0.292" stop-color="#06b5cf"/><stop offset="0.333" stop-color="#04bbc2"/><stop offset="0.375" stop-color="#1bc0b4"/><stop offset="0.417" stop-color="#2bc3a8"/><stop offset="0.458" stop-color="#32c69f"/><stop offset="0.500" stop-color="#34c79c"/><stop offset="0.542" stop-color="#30c5a2"/><stop offset="0.583" stop-color="#23c1af"/><stop offset="0.625" stop-color="#07bcc0"/><stop offset="0.667" stop-color="#08b4d1"/><stop offset="0.708" stop-color="#1babde"/><stop offset="0.750" stop-color="#22a1e4"/><stop offset="0.792" stop-color="#2797eb"/><stop offset="0.833" stop-color="#2d8bf4"/><stop offset="0.875" stop-color="#2f80fa"/><stop offset="0.917" stop-color="#3579fd"/><stop offset="0.958" stop-color="#3677fe"/><stop offset="1.000" stop-color="#3677fe"/></linearGradient><linearGradient id="gb32"><stop offset="0.000" stop-color="#2d8cf3"/><stop offset="0.042" stop-color="#2d8cf3"/><stop offset="0.083" stop-color="#2c8ff0"/><stop offset="0.125" stop-color="#269ae8"/><stop offset="0.167" stop-color="#20a4e3"/><stop offset="0.208" stop-color="#19acdc"/><stop offset="0.250" stop-color="#0cb3d3"/><stop offset="0.292" stop-color="#01b8c8"/><stop offset="0.333" stop-color="#0ebdbb"/><stop offset="0.375" stop-color="#25c2ae"/><stop offset="0.417" stop-color="#30c5a2"/><stop offset="0.458" stop-color="#36c899"/><stop offset="0.500" stop-color="#38c896"/><stop offset="0.542" stop-color="#34c79c"/><stop offset="0.583" stop-color="#2ac3a9"/><stop offset="0.625" stop-color="#12beb9"/><stop offset="0.667" stop-color="#01b8ca"/><stop offset="0.708" stop-color="#15afd9"/><stop offset="0.750" stop-color="#1ea6e1"/><stop offset="0.792" stop-color="#259ce7"/><stop offset="0.833" stop-color="#2c90f0"/><stop offset="0.875" stop-color="#2e85f8"/><stop offset="0.917" stop-color="#317dfc"/><stop offset="0.958" stop-color="#327cfc"/><stop offset="1.000" stop-color="#327cfc"/></linearGradient><linearGradient id="gb33"><stop offset="0.000" stop-color="#2994ed"/><stop offset="0.042" stop-color="#2994ed"/><stop offset="0.083" stop-color="#2797eb"/><stop offset="0.125" stop-color="#23a1e4"/><stop offset="0.167" stop-color="#1baadf"/><stop offset="0.208" stop-color="#11b1d6"/><stop offset="0.250" stop-color="#03b7cb"/><stop offset="0.292" stop-color="#06bcc0"/><stop offset="0.333" stop-color="#1cc0b3"/><stop offset="0.375" stop-color="#2dc4a6"/><stop offset="0.417" stop-color="#36c799"/><stop offset="0.458" stop-color="#3eca8f"/><stop offset="0.500" stop-color="#41ca8c"/><stop offset="0.542" stop-color="#3bc993"/><stop offset="0.583" stop-color="#31c6a0"/><stop offset="0.625" stop-color="#20c1b1"/><stop offset="0.667" stop-color="#03bbc3"/><stop offset="0.708" stop-color="#0bb3d2"/><stop offset="0.750" stop-color="#1aabdd"/><stop offset="0.792" stop-color="#23a1e4"/><stop offset="0.833" stop-color="#2895ec"/><stop offset="0.875" stop-color="#2d89f5"/><stop offset="0.917" stop-color="#2f82fa"/><stop offset="0.958" stop-color="#2f81fa"/><stop offset="1.000" stop-color="#2f81fa"/></linearGradient><linearGradient id="gb34"><stop offset="0.000" stop-color="#259ce7"/><stop offset="0.042" stop-color="#259ce7"/><stop offset="0.083" stop-color="#249fe6"/><stop offset="0.125" stop-color="#1da8e0"/><stop offset="0.167" stop-color="#14b0d8"/><stop offset="0.208" stop-color="#05b6ce"/><stop offset="0.250" stop-color="#02bbc3"/><stop offset="0.292" stop-color="#15bfb7"/><stop offset="0.333" stop-color="#29c3aa"/><stop offset="0.375" stop-color="#34c79b"/><stop offset="0.417" stop-color="#40ca8d"/><stop offset="0.458" stop-color="#4ccb83"/><stop offset="0.500" stop-color="#51cc7f"/><stop offset="0.542" stop-color="#48cb86"/><stop offset="0.583" stop-color="#38c896"/><stop offset="0.625" stop-color="#2bc3a8"/><stop offset="0.667" stop-color="#0fbeba"/><stop offset="0.708" stop-color="#02b7cb"/><stop offset="0.750" stop-color="#14b0d8"/><stop offset="0.792" stop-color="#1fa6e2"/><stop offset="0.833" stop-color="#269ae9"/><stop offset="0.875" stop-color="#2c8ef1"/><stop offset="0.917" stop-color="#2e87f7"/><stop offset="0.958" stop-color="#2e86f8"/><stop offset="1.000" stop-color="#2e86f8"/></linearGradient><linearGradient id="gb35"><stop offset="0.000" stop-color="#20a4e3"/><stop offset="0.042" stop-color="#20a4e3"/><stop offset="0.083" stop-color="#1ea7e1"/><stop offset="0.125" stop-color="#16afd9"/><stop offset="0.167" stop-color="#06b5cf"/><stop offset="0.208" stop-color="#02bac4"/><stop offset="0.250" stop-color="#11beb9"/><stop offset="0.292" stop-color="#25c2ae"/><stop offset="0.333" stop-color="#31c6a0"/><stop offset="0.375" stop-color="#3eca8f"/><stop offset="0.417" stop-color="#50cc7f"/><stop offset="0.458" stop-color="#5fcd73"/><stop offset="0.500" stop-color="#63cd6f"/><stop offset="0.542" stop-color="#5acc77"/><stop offset="0.583" stop-color="#45cb89"/><stop offset="0.625" stop-color="#32c69e"/><stop offset="0.667" stop-color="#1fc0b2"/><stop offset="0.708" stop-color="#02bac4"/><stop offset="0.750" stop-color="#0ab4d2"/><stop offset="0.792" stop-color="#1babde"/><stop offset="0.833" stop-color="#249fe6"/><stop offset="0.875" stop-color="#2994ed"/><stop offset="0.917" stop-color="#2d8cf3"/><stop offset="0.958" stop-color="#2d8bf4"/><stop offset="1.000" stop-color="#2d8bf4"/></linearGradient><linearGradient id="gb36"><stop offset="0.000" stop-color="#19acdc"/><stop offset="0.042" stop-color="#19acdc"/><stop offset="0.083" stop-color="#17aeda"/><stop offset="0.125" stop-color="#07b5d0"/><stop offset="0.167" stop-color="#02bac4"/><stop offset="0.208" stop-color="#10beba"/><stop offset="0.250" stop-color="#22c1af"/><stop offset="0.292" stop-color="#2ec5a4"/><stop offset="0.333" stop-color="#3ac994"/><stop offset="0.375" stop-color="#4ccb82"/><stop offset="0.417" stop-color="#61cd71"/><stop offset="0.458" stop-color="#70cd65"/><stop offset="0.500" stop-color="#76cc61"/><stop offset="0.542" stop-color="#6bcd69"/><stop offset="0.583" stop-color="#55cc7c"/><stop offset="0.625" stop-color="#3bc993"/><stop offset="0.667" stop-color="#2ac3a9"/><stop offset="0.708" stop-color="#0dbdbb"/><stop offset="0.750" stop-color="#01b8ca"/><stop offset="0.792" stop-color="#15afd9"/><stop offset="0.833" stop-color="#20a4e3"/><stop offset="0.875" stop-color="#2699e9"/><stop offset="0.917" stop-color="#2b92ee"/><stop offset="0.958" stop-color="#2b91ef"/><stop offset="1.000" stop-color="#2b91ef"/></linearGradient><linearGradient id="gb37"><stop offset="0.000" stop-color="#0cb3d3"/><stop offset="0.042" stop-color="#0cb3d3"/><stop offset="0.083" stop-color="#07b5d0"/><stop offset="0.125" stop-color="#02bac5"/><stop offset="0.167" stop-color="#11beb9"/><stop offset="0.208" stop-color="#23c1af"/><stop offset="0.250" stop-color="#2ec4a4"/><stop offset="0.292" stop-color="#37c898"/><stop offset="0.333" stop-color="#47cb87"/><stop offset="0.375" stop-color="#5dcc75"/><stop offset="0.417" stop-color="#73cd63"/><stop offset="0.458" stop-color="#83cc57"/><stop offset="0.500" stop-color="#88cb53"/><stop offset="0.542" stop-color="#7dcc5b"/><stop offset="0.583" stop-color="#65cd6e"/><stop offset="0.625" stop-color="#47cb87"/><stop offset="0.667" stop-color="#32c69f"/><stop offset="0.708" stop-color="#1ec0b2"/><stop offset="0.750" stop-color="#04bbc1"/><stop offset="0.792" stop-color="#09b4d1"/><stop offset="0.833" stop-color="#1caadf"/><stop offset="0.875" stop-color="#249fe5"/><stop offset="0.917" stop-color="#2798ea"/><stop offset="0.958" stop-color="#2797eb"/><stop offset="1.000" stop-color="#2797eb"/></linearGradient><linearGradient id="gb38"><stop offset="0.000" stop-color="#01b9c7"/><stop offset="0.042" stop-color="#01b9c7"/><stop offset="0.083" stop-color="#02bac4"/><stop offset="0.125" stop-color="#13beb8"/><stop offset="0.167" stop-color="#25c2ad"/><stop offset="0.208" stop-color="#2fc5a3"/><stop offset="0.250" stop-color="#37c898"/><stop offset="0.292" stop-color="#43ca8a"/><stop offset="0.333" stop-color="#58cc79"/><stop offset="0.375" stop-color="#6fcd66"/><stop offset="0.417" stop-color="#85cb55"/><stop offset="0.458" stop-color="#94ca4a"/><stop offset="0.500" stop-color="#99c946"/><stop offset="0.542" stop-color="#8fcb4e"/><stop offset="0.583" stop-color="#76cc60"/><stop offset="0.625" stop-color="#57cc7a"/><stop offset="0.667" stop-color="#3ac993"/><stop offset="0.708" stop-color="#2bc3a8"/><stop offset="0.750" stop-color="#14beb8"/><stop offset="0.792" stop-color="#01b8c8"/><stop offset="0.833" stop-color="#14b0d8"/><stop offset="0.875" stop-color="#1fa6e2"/><stop offset="0.917" stop-color="#249fe5"/><stop offset="0.958" stop-color="#249ee6"/><stop offset="1.000" stop-color="#249ee6"/></linearGradient><linearGradient id="gb39"><stop offset="0.000" stop-color="#11beba"/><stop offset="0.042" stop-color="#11beba"/><stop offset="0.083" stop-color="#17bfb6"/><stop offset="0.125" stop-color="#27c2ab"/><stop offset="0.167" stop-color="#31c6a0"/><stop offset="0.208" stop-color="#39c895"/><stop offset="0.250" stop-color="#45cb89"/><stop offset="0.292" stop-color="#55cc7c"/><stop offset="0.333" stop-color="#6acd6a"/><stop offset="0.375" stop-color="#81cc58"/><stop offset="0.417" stop-color="#95ca49"/><stop offset="0.458" stop-color="#a3c83f"/><stop offset="0.500" stop-color="#a7c73c"/><stop offset="0.542" stop-color="#9ec943"/><stop offset="0.583" stop-color="#86cb54"/><stop offset="0.625" stop-color="#66cd6d"/><stop offset="0.667" stop-color="#46cb88"/><stop offset="0.708" stop-color="#32c69e"/><stop offset="0.750" stop-color="#24c1af"/><stop offset="0.792" stop-color="#07bcbf"/><stop offset="0.833" stop-color="#08b4d1"/><stop offset="0.875" stop-color="#1aacdd"/><stop offset="0.917" stop-color="#1fa5e2"/><stop offset="0.958" stop-color="#20a4e3"/><stop offset="1.000" stop-color="#20a4e3"/></linearGradient><linearGradient id="gb40"><stop offset="0.000" stop-color="#29c3aa"/><stop offset="0.042" stop-color="#29c3aa"/><stop offset="0.083" stop-color="#2cc4a7"/><stop offset="0.125" stop-color="#34c79c"/><stop offset="0.167" stop-color="#3dc990"/><stop offset="0.208" stop-color="#49cb85"/><stop offset="0.250" stop-color="#58cc79"/><stop offset="0.292" stop-color="#68cd6b"/><stop offset="0.333" stop-color="#7dcc5c"/><stop offset="0.375" stop-color="#92ca4c"/><stop offset="0.417" stop-color="#a3c83e"/><stop offset="0.458" stop-color="#afc636"/><stop offset="0.500" stop-color="#b3c534"/><stop offset="0.542" stop-color="#aac73a"/><stop offset="0.583" stop-color="#94ca4a"/><stop offset="0.625" stop-color="#74cc62"/><stop offset="0.667" stop-color="#53cc7d"/><stop offset="0.708" stop-color="#39c994"/><stop offset="0.750" stop-color="#2dc4a6"/><stop offset="0.792" stop-color="#16bfb7"/><stop offset="0.833" stop-color="#01b8c8"/><stop offset="0.875" stop-color="#12b1d6"/><stop offset="0.917" stop-color="#1aabdd"/><stop offset="0.958" stop-color="#1baade"/><stop offset="1.000" stop-color="#1baade"/></linearGradient><linearGradient id="gb41"><stop offset="0.000" stop-color="#37c897"/><stop offset="0.042" stop-color="#37c897"/><stop offset="0.083" stop-color="#3ac994"/><stop offset="0.125" stop-color="#45cb88"/><stop offset="0.167" stop-color="#53cc7d"/><stop offset="0.208" stop-color="#60cd72"/><stop offset="0.250" stop-color="#6dcd67"/><stop offset="0.292" stop-color="#7dcc5b"/><stop offset="0.333" stop-color="#8fca4d"/><stop offset="0.375" stop-color="#a1c840"/><stop offset="0.417" stop-color="#b0c636"/><stop offset="0.458" stop-color="#bac430"/><stop offset="0.500" stop-color="#bec32e"/><stop offset="0.542" stop-color="#b5c533"/><stop offset="0.583" stop-color="#a0c841"/><stop offset="0.625" stop-color="#82cc58"/><stop offset="0.667" stop-color="#60cd72"/><stop offset="0.708" stop-color="#43ca8a"/><stop offset="0.750" stop-color="#33c79d"/><stop offset="0.792" stop-color="#24c1ae"/><stop offset="0.833" stop-color="#06bcc0"/><stop offset="0.875" stop-color="#06b5cf"/><stop offset="0.917" stop-color="#13b1d7"/><stop offset="0.958" stop-color="#14b0d8"/><stop offset="1.000" stop-color="#14b0d8"/></linearGradient><linearGradient id="gb42"><stop offset="0.000" stop-color="#4ecc81"/><stop offset="0.042" stop-color="#4ecc81"/><stop offset="0.083" stop-color="#52cc7e"/><stop offset="0.125" stop-color="#5fcd73"/><stop offset="0.167" stop-color="#6ccd69"/><stop offset="0.208" stop-color="#77cc5f"/><stop offset="0.250" stop-color="#84cc56"/><stop offset="0.292" stop-color="#91ca4c"/><stop offset="0.333" stop-color="#a0c841"/><stop offset="0.375" stop-color="#afc637"/><stop offset="0.417" stop-color="#bbc42f"/><stop offset="0.458" stop-color="#c3c22b"/><stop offset="0.500" stop-color="#c6c22a"/><stop offset="0.542" stop-color="#bec32e"/><stop offset="0.583" stop-color="#abc739"/><stop offset="0.625" stop-color="#8fcb4e"/><stop offset="0.667" stop-color="#6dcd67"/><stop offset="0.708" stop-color="#4fcc80"/><stop offset="0.750" stop-color="#3bc993"/><stop offset="0.792" stop-color="#2dc4a6"/><stop offset="0.833" stop-color="#15bfb8"/><stop offset="0.875" stop-color="#01b9c6"/><stop offset="0.917" stop-color="#07b5cf"/><stop offset="0.958" stop-color="#08b4d1"/><stop offset="1.000" stop-color="#08b4d1"/></linearGradient><linearGradient id="gb43"><stop offset="0.000" stop-color="#69cd6a"/><stop offset="0.042" stop-color="#69cd6a"/><stop offset="0.083" stop-color="#6dcd68"/><stop offset="0.125" stop-color="#78cc5f"/><stop offset="0.167" stop-color="#84cc56"/><stop offset="0.208" stop-color="#8dcb4f"/><stop offset="0.250" stop-color="#97ca48"/><stop offset="0.292" stop-color="#a1c840"/><stop offset="0.333" stop-color="#adc638"/><stop offset="0.375" stop-color="#b9c430"/><stop offset="0.417" stop-color="#c3c22b"/><stop offset="0.458" stop-color="#cac129"/><stop offset="0.500" stop-color="#ccc028"/><stop offset="0.542" stop-color="#c5c22a"/><stop offset="0.583" stop-color="#b4c534"/><stop offset="0.625" stop-color="#9ac945"/><stop offset="0.667" stop-color="#7bcc5d"/><stop offset="0.708" stop-color="#5dcc75"/><stop offset="0.750" stop-color="#46cb88"/><stop offset="0.792" stop-color="#34c79c"/><stop offset="0.833" stop-color="#23c1af"/><stop offset="0.875" stop-color="#09bcbe"/><stop offset="0.917" stop-color="#01b9c7"/><stop offset="0.958" stop-color="#01b8c9"/><stop offset="1.000" stop-color="#01b8c9"/></linearGradient><linearGradient id="gb44"><stop offset="0.000" stop-color="#86cb55"/><stop offset="0.042" stop-color="#86cb55"/><stop offset="0.083" stop-color="#89cb53"/><stop offset="0.125" stop-color="#91ca4c"/><stop offset="0.167" stop-color="#99c946"/><stop offset="0.208" stop-color="#a0c841"/><stop offset="0.250" stop-color="#a7c73c"/><stop offset="0.292" stop-color="#afc637"/><stop offset="0.333" stop-color="#b8c431"/><stop offset="0.375" stop-color="#c1c32c"/><stop offset="0.417" stop-color="#c9c129"/><stop offset="0.458" stop-color="#cec028"/><stop offset="0.500" stop-color="#d0bf27"/><stop offset="0.542" stop-color="#cac129"/><stop offset="0.583" stop-color="#bbc430"/><stop offset="0.625" stop-color="#a4c83e"/><stop offset="0.667" stop-color="#88cb53"/><stop offset="0.708" stop-color="#6ccd69"/><stop offset="0.750" stop-color="#54cc7c"/><stop offset="0.792" stop-color="#3cc991"/><stop offset="0.833" stop-color="#2dc4a6"/><stop offset="0.875" stop-color="#18bfb6"/><stop offset="0.917" stop-color="#07bcc0"/><stop offset="0.958" stop-color="#05bbc1"/><stop offset="1.000" stop-color="#05bbc1"/></linearGradient><linearGradient id="gb45"><stop offset="0.000" stop-color="#a1c840"/><stop offset="0.042" stop-color="#a1c840"/><stop offset="0.083" stop-color="#a2c83f"/><stop offset="0.125" stop-color="#a8c73b"/><stop offset="0.167" stop-color="#adc638"/><stop offset="0.208" stop-color="#b2c635"/><stop offset="0.250" stop-color="#b6c532"/><stop offset="0.292" stop-color="#bcc42f"/><stop offset="0.333" stop-color="#c2c22c"/><stop offset="0.375" stop-color="#c9c129"/><stop offset="0.417" stop-color="#cfc028"/><stop offset="0.458" stop-color="#d3bf27"/><stop offset="0.500" stop-color="#d4bf28"/><stop offset="0.542" stop-color="#cfc028"/><stop offset="0.583" stop-color="#c2c32c"/><stop offset="0.625" stop-color="#aec637"/><stop offset="0.667" stop-color="#95ca49"/><stop offset="0.708" stop-color="#7bcc5d"/><stop offset="0.750" stop-color="#63cd70"/><stop offset="0.792" stop-color="#48cb86"/><stop offset="0.833" stop-color="#33c79c"/><stop offset="0.875" stop-color="#25c2ae"/><stop offset="0.917" stop-color="#14bfb8"/><stop offset="0.958" stop-color="#11beb9"/><stop offset="1.000" stop-color="#11beb9"/></linearGradient><linearGradient id="gb46"><stop offset="0.000" stop-color="#b8c431"/><stop offset="0.042" stop-color="#b8c431"/><stop offset="0.083" stop-color="#b9c431"/><stop offset="0.125" stop-color="#bcc42f"/><stop offset="0.167" stop-color="#c0c32d"/><stop offset="0.208" stop-color="#c2c22c"/><stop offset="0.250" stop-color="#c5c22a"/><stop offset="0.292" stop-color="#c8c129"/><stop offset="0.333" stop-color="#cdc028"/><stop offset="0.375" stop-color="#d1bf27"/><stop offset="0.417" stop-color="#d5be28"/><stop offset="0.458" stop-color="#d8be28"/><stop offset="0.500" stop-color="#d9be28"/><stop offset="0.542" stop-color="#d4bf28"/><stop offset="0.583" stop-color="#c9c129"/><stop offset="0.625" stop-color="#b7c531"/><stop offset="0.667" stop-color="#a1c840"/><stop offset="0.708" stop-color="#89cb52"/><stop offset="0.750" stop-color="#72cd64"/><stop offset="0.792" stop-color="#56cc7b"/><stop offset="0.833" stop-color="#3bc993"/><stop offset="0.875" stop-color="#2dc4a6"/><stop offset="0.917" stop-color="#21c1b0"/><stop offset="0.958" stop-color="#1ec0b2"/><stop offset="1.000" stop-color="#1ec0b2"/></linearGradient><linearGradient id="gb47"><stop offset="0.000" stop-color="#cdc028"/><stop offset="0.042" stop-color="#cdc028"/><stop offset="0.083" stop-color="#cec028"/><stop offset="0.125" stop-color="#cfc028"/><stop offset="0.167" stop-color="#d1bf27"/><stop offset="0.208" stop-color="#d2bf27"/><stop offset="0.250" stop-color="#d3bf27"/><stop offset="0.292" stop-color="#d5be28"/><stop offset="0.333" stop-color="#d7be28"/><stop offset="0.375" stop-color="#dabd28"/><stop offset="0.417" stop-color="#dcbd29"/><stop offset="0.458" stop-color="#debd29"/><stop offset="0.500" stop-color="#debc2a"/><stop offset="0.542" stop-color="#dbbd28"/><stop offset="0.583" stop-color="#d0bf27"/><stop offset="0.625" stop-color="#c1c32c"/><stop offset="0.667" stop-color="#adc638"/><stop offset="0.708" stop-color="#96ca48"/><stop offset="0.750" stop-color="#80cc59"/><stop offset="0.792" stop-color="#62cd70"/><stop offset="0.833" stop-color="#44cb8a"/><stop offset="0.875" stop-color="#32c69e"/><stop offset="0.917" stop-color="#2ac3a9"/><stop offset="0.958" stop-color="#28c2ab"/><stop offset="1.000" stop-color="#28c2ab"/></linearGradient><linearGradient id="gb48"><stop offset="0.000" stop-color="#debc2a"/><stop offset="0.042" stop-color="#debc2a"/><stop offset="0.083" stop-color="#debc2a"/><stop offset="0.125" stop-color="#dfbc2a"/><stop offset="0.167" stop-color="#dfbc2a"/><stop offset="0.208" stop-color="#e0bc2a"/><stop offset="0.250" stop-color="#e0bc2b"/><stop offset="0.292" stop-color="#e1bc2b"/><stop offset="0.333" stop-color="#e2bc2b"/><stop offset="0.375" stop-color="#e3bc2c"/><stop offset="0.417" stop-color="#e4bb2c"/><stop offset="0.458" stop-color="#e4bb2c"/><stop offset="0.500" stop-color="#e5bb2c"/><stop offset="0.542" stop-color="#e1bc2b"/><stop offset="0.583" stop-color="#d8be28"/><stop offset="0.625" stop-color="#cac129"/><stop offset="0.667" stop-color="#b7c531"/><stop offset="0.708" stop-color="#a3c83f"/><stop offset="0.750" stop-color="#8dcb4f"/><stop offset="0.792" stop-color="#6fcd65"/><stop offset="0.833" stop-color="#4fcc80"/><stop offset="0.875" stop-color="#38c896"/><stop offset="0.917" stop-color="#30c5a2"/><stop offset="0.958" stop-color="#2ec5a4"/><stop offset="1.000" stop-color="#2ec5a4"/></linearGradient><linearGradient id="gb49"><stop offset="0.000" stop-color="#eaba31"/><stop offset="0.042" stop-color="#eaba31"/><stop offset="0.083" stop-color="#eaba31"/><stop offset="0.125" stop-color="#eaba31"/><stop offset="0.167" stop-color="#eaba31"/><stop offset="0.208" stop-color="#eaba31"/><stop offset="0.250" stop-color="#eaba31"/><stop offset="0.292" stop-color="#eaba31"/><stop offset="0.333" stop-color="#eaba31"/><stop offset="0.375" stop-color="#eaba31"/><stop offset="0.417" stop-color="#eaba31"/><stop offset="0.458" stop-color="#eaba31"/><stop offset="0.500" stop-color="#eaba31"/><stop offset="0.542" stop-color="#e7bb2e"/><stop offset="0.583" stop-color="#dfbc2a"/><stop offset="0.625" stop-color="#d2bf27"/><stop offset="0.667" stop-color="#c2c22c"/><stop offset="0.708" stop-color="#afc636"/><stop offset="0.750" stop-color="#9cc944"/><stop offset="0.792" stop-color="#7ecc5a"/><stop offset="0.833" stop-color="#5ccc76"/><stop offset="0.875" stop-color="#40ca8d"/><stop offset="0.917" stop-color="#35c79b"/><stop offset="0.958" stop-color="#33c79d"/><stop offset="1.000" stop-color="#33c79d"/></linearGradient><linearGradient id="gb50"><stop offset="0.000" stop-color="#f2ba38"/><stop offset="0.042" stop-color="#f2ba38"/><stop offset="0.083" stop-color="#f2ba38"/><stop offset="0.125" stop-color="#f2ba38"/><stop offset="0.167" stop-color="#f2ba37"/><stop offset="0.208" stop-color="#f2ba37"/><stop offset="0.250" stop-color="#f2ba37"/><stop offset="0.292" stop-color="#f1ba37"/><stop offset="0.333" stop-color="#f1ba37"/><stop offset="0.375" stop-color="#f1ba36"/><stop offset="0.417" stop-color="#f0ba36"/><stop offset="0.458" stop-color="#efba36"/><stop offset="0.500" stop-color="#efba35"/><stop offset="0.542" stop-color="#ecba32"/><stop offset="0.583" stop-color="#e5bb2d"/><stop offset="0.625" stop-color="#dbbd28"/><stop offset="0.667" stop-color="#cdc028"/><stop offset="0.708" stop-color="#bdc32e"/><stop offset="0.750" stop-color="#acc739"/><stop offset="0.792" stop-color="#8fcb4e"/><stop offset="0.833" stop-color="#69cd6b"/><stop offset="0.875" stop-color="#49cb85"/><stop offset="0.917" stop-color="#3ac994"/><stop offset="0.958" stop-color="#38c896"/><stop offset="1.000" stop-color="#38c896"/></linearGradient><linearGradient id="gb51"><stop offset="0.000" stop-color="#f8ba3d"/><stop offset="0.042" stop-color="#f8ba3d"/><stop offset="0.083" stop-color="#f8ba3d"/><stop offset="0.125" stop-color="#f8ba3d"/><stop offset="0.167" stop-color="#f8ba3d"/><stop offset="0.208" stop-color="#f8ba3d"/><stop offset="0.250" stop-color="#f7ba3d"/><stop offset="0.292" stop-color="#f7ba3c"/><stop offset="0.333" stop-color="#f7ba3c"/><stop offset="0.375" stop-color="#f6ba3b"/><stop offset="0.417" stop-color="#f5ba3b"/><stop offset="0.458" stop-color="#f4ba3a"/><stop offset="0.500" stop-color="#f3ba39"/><stop offset="0.542" stop-color="#f1ba37"/><stop offset="0.583" stop-color="#ebba31"/><stop offset="0.625" stop-color="#e3bc2c"/><stop offset="0.667" stop-color="#d8be28"/><stop offset="0.708" stop-color="#cbc129"/><stop offset="0.750" stop-color="#bcc42f"/><stop offset="0.792" stop-color="#a0c841"/><stop offset="0.833" stop-color="#78cc5f"/><stop offset="0.875" stop-color="#54cc7c"/><stop offset="0.917" stop-color="#40ca8d"/><stop offset="0.958" stop-color="#3dc990"/><stop offset="1.000" stop-color="#3dc990"/></linearGradient><linearGradient id="gb52"><stop offset="0.000" stop-color="#fcbc3d"/><stop offset="0.042" stop-color="#fcbc3d"/><stop offset="0.083" stop-color="#fcbc3d"/><stop offset="0.125" stop-color="#fcbc3d"/><stop offset="0.167" stop-color="#fcbc3d"/><stop offset="0.208" stop-color="#fcbc3d"/><stop offset="0.250" stop-color="#fcbc3d"/><stop offset="0.292" stop-color="#fcbc3d"/><stop offset="0.333" stop-color="#fcbc3d"/><stop offset="0.375" stop-color="#fbbc3d"/><stop offset="0.417" stop-color="#fabb3d"/><stop offset="0.458" stop-color="#f9bb3d"/><stop offset="0.500" stop-color="#f8ba3d"/><stop offset="0.542" stop-color="#f6ba3b"/><stop offset="0.583" stop-color="#f1ba37"/><stop offset="0.625" stop-color="#eaba31"/><stop offset="0.667" stop-color="#e2bc2b"/><stop offset="0.708" stop-color="#d7be28"/><stop offset="0.750" stop-color="#cac129"/><stop offset="0.792" stop-color="#afc637"/><stop offset="0.833" stop-color="#87cb54"/><stop offset="0.875" stop-color="#60cd73"/><stop offset="0.917" stop-color="#49cb86"/><stop offset="0.958" stop-color="#45cb89"/><stop offset="1.000" stop-color="#45cb89"/></linearGradient><linearGradient id="gb53"><stop offset="0.000" stop-color="#fec13a"/><stop offset="0.042" stop-color="#fec13a"/><stop offset="0.083" stop-color="#fec13a"/><stop offset="0.125" stop-color="#fec13a"/><stop offset="0.167" stop-color="#fec13a"/><stop offset="0.208" stop-color="#fec13a"/><stop offset="0.250" stop-color="#fec13a"/><stop offset="0.292" stop-color="#fec13a"/><stop offset="0.333" stop-color="#fec13a"/><stop offset="0.375" stop-color="#fec03a"/><stop offset="0.417" stop-color="#febf3b"/><stop offset="0.458" stop-color="#febe3c"/><stop offset="0.500" stop-color="#fdbd3c"/><stop offset="0.542" stop-color="#fcbc3d"/><stop offset="0.583" stop-color="#f8ba3d"/><stop offset="0.625" stop-color="#f2ba38"/><stop offset="0.667" stop-color="#ebba31"/><stop offset="0.708" stop-color="#e1bc2b"/><stop offset="0.750" stop-color="#d4bf28"/><stop offset="0.792" stop-color="#bbc42f"/><stop offset="0.833" stop-color="#95ca49"/><stop offset="0.875" stop-color="#6dcd68"/><stop offset="0.917" stop-color="#55cc7c"/><stop offset="0.958" stop-color="#51cc7f"/><stop offset="1.000" stop-color="#51cc7f"/></linearGradient><linearGradient id="gb54"><stop offset="0.000" stop-color="#fec835"/><stop offset="0.042" stop-color="#fec835"/><stop offset="0.083" stop-color="#fec835"/><stop offset="0.125" stop-color="#fec835"/><stop offset="0.167" stop-color="#fec835"/><stop offset="0.208" stop-color="#fec835"/><stop offset="0.250" stop-color="#fec835"/><stop offset="0.292" stop-color="#fec835"/><stop offset="0.333" stop-color="#fec735"/><stop offset="0.375" stop-color="#fec736"/><stop offset="0.417" stop-color="#fec636"/><stop offset="0.458" stop-color="#fec537"/><stop offset="0.500" stop-color="#fec438"/><stop offset="0.542" stop-color="#fec239"/><stop offset="0.583" stop-color="#febe3c"/><stop offset="0.625" stop-color="#fabb3d"/><stop offset="0.667" stop-color="#f3ba38"/><stop offset="0.708" stop-color="#e9bb30"/><stop offset="0.750" stop-color="#ddbd29"/><stop offset="0.792" stop-color="#c6c22a"/><stop offset="0.833" stop-color="#a1c840"/><stop offset="0.875" stop-color="#7bcc5d"/><stop offset="0.917" stop-color="#63cd70"/><stop offset="0.958" stop-color="#5fcd73"/><stop offset="1.000" stop-color="#5fcd73"/></linearGradient><linearGradient id="gb55"><stop offset="0.000" stop-color="#fccf30"/><stop offset="0.042" stop-color="#fccf30"/><stop offset="0.083" stop-color="#fccf30"/><stop offset="0.125" stop-color="#fccf30"/><stop offset="0.167" stop-color="#fccf30"/><stop offset="0.208" stop-color="#fccf30"/><stop offset="0.250" stop-color="#fccf30"/><stop offset="0.292" stop-color="#fccf30"/><stop offset="0.333" stop-color="#fccf31"/><stop offset="0.375" stop-color="#fdce31"/><stop offset="0.417" stop-color="#fdcd31"/><stop offset="0.458" stop-color="#fdcc32"/><stop offset="0.500" stop-color="#fdcb33"/><stop offset="0.542" stop-color="#fec934"/><stop offset="0.583" stop-color="#fec537"/><stop offset="0.625" stop-color="#febf3b"/><stop offset="0.667" stop-color="#fabb3d"/><stop offset="0.708" stop-color="#f0ba36"/><stop offset="0.750" stop-color="#e4bb2c"/><stop offset="0.792" stop-color="#cfc028"/><stop offset="0.833" stop-color="#aec637"/><stop offset="0.875" stop-color="#8bcb51"/><stop offset="0.917" stop-color="#73cd63"/><stop offset="0.958" stop-color="#6fcd66"/><stop offset="1.000" stop-color="#6fcd66"/></linearGradient><linearGradient id="gb56"><stop offset="0.000" stop-color="#f9d72c"/><stop offset="0.042" stop-color="#f9d72c"/><stop offset="0.083" stop-color="#f9d72c"/><stop offset="0.125" stop-color="#f9d72c"/><stop offset="0.167" stop-color="#f9d72c"/><stop offset="0.208" stop-color="#f9d72c"/><stop offset="0.250" stop-color="#f9d72c"/><stop offset="0.292" stop-color="#f9d72c"/><stop offset="0.333" stop-color="#f9d72d"/><stop offset="0.375" stop-color="#f9d62d"/><stop offset="0.417" stop-color="#fad52d"/><stop offset="0.458" stop-color="#fad52e"/><stop offset="0.500" stop-color="#fbd32e"/><stop offset="0.542" stop-color="#fcd12f"/><stop offset="0.583" stop-color="#fdcc32"/><stop offset="0.625" stop-color="#fec536"/><stop offset="0.667" stop-color="#febe3c"/><stop offset="0.708" stop-color="#f7ba3c"/><stop offset="0.750" stop-color="#ebba31"/><stop offset="0.792" stop-color="#d7be28"/><stop offset="0.833" stop-color="#bac430"/><stop offset="0.875" stop-color="#9bc945"/><stop offset="0.917" stop-color="#86cb55"/><stop offset="0.958" stop-color="#82cc58"/><stop offset="1.000" stop-color="#82cc58"/></linearGradient><linearGradient id="gb57"><stop offset="0.000" stop-color="#f6df29"/><stop offset="0.042" stop-color="#f6df29"/><stop offset="0.083" stop-color="#f6df29"/><stop offset="0.125" stop-color="#f6df29"/><stop offset="0.167" stop-color="#f6df29"/><stop offset="0.208" stop-color="#f6df29"/><stop offset="0.250" stop-color="#f6df29"/><stop offset="0.292" stop-color="#f6df29"/><stop offset="0.333" stop-color="#f6df29"/><stop offset="0.375" stop-color="#f6de29"/><stop offset="0.417" stop-color="#f6dd29"/><stop offset="0.458" stop-color="#f7dc2a"/><stop offset="0.500" stop-color="#f7db2b"/><stop offset="0.542" stop-color="#f9d72c"/><stop offset="0.583" stop-color="#fbd22f"/><stop offset="0.625" stop-color="#feca33"/><stop offset="0.667" stop-color="#fec239"/><stop offset="0.708" stop-color="#fabb3d"/><stop offset="0.750" stop-color="#efba35"/><stop offset="0.792" stop-color="#ddbd29"/><stop offset="0.833" stop-color="#c4c22b"/><stop offset="0.875" stop-color="#aac73a"/><stop offset="0.917" stop-color="#98ca47"/><stop offset="0.958" stop-color="#95ca4a"/><stop offset="1.000" stop-color="#95ca4a"/></linearGradient><linearGradient id="gb58"><stop offset="0.000" stop-color="#f5e725"/><stop offset="0.042" stop-color="#f5e725"/><stop offset="0.083" stop-color="#f5e725"/><stop offset="0.125" stop-color="#f5e725"/><stop offset="0.167" stop-color="#f5e725"/><stop offset="0.208" stop-color="#f5e725"/><stop offset="0.250" stop-color="#f5e725"/><stop offset="0.292" stop-color="#f5e725"/><stop offset="0.333" stop-color="#f5e725"/><stop offset="0.375" stop-color="#f5e626"/><stop offset="0.417" stop-color="#f5e426"/><stop offset="0.458" stop-color="#f5e327"/><stop offset="0.500" stop-color="#f6e128"/><stop offset="0.542" stop-color="#f7dd2a"/><stop offset="0.583" stop-color="#f9d62d"/><stop offset="0.625" stop-color="#fdce31"/><stop offset="0.667" stop-color="#fec537"/><stop offset="0.708" stop-color="#fcbc3d"/><stop offset="0.750" stop-color="#f2ba38"/><stop offset="0.792" stop-color="#e2bc2b"/><stop offset="0.833" stop-color="#cdc028"/><stop offset="0.875" stop-color="#b8c431"/><stop offset="0.917" stop-color="#a9c73b"/><stop offset="0.958" stop-color="#a6c73c"/><stop offset="1.000" stop-color="#a6c73c"/></linearGradient></defs>
<g shape-rendering="crispEdges"><rect x="414.0" y="10.60" width="243.8" height="3.37" fill="url(#gb0)"/><rect x="414.0" y="13.62" width="243.8" height="3.37" fill="url(#gb1)"/><rect x="414.0" y="16.64" width="243.8" height="3.37" fill="url(#gb2)"/><rect x="414.0" y="19.66" width="243.8" height="3.37" fill="url(#gb3)"/><rect x="414.0" y="22.68" width="243.8" height="3.37" fill="url(#gb4)"/><rect x="414.0" y="25.70" width="243.8" height="3.37" fill="url(#gb5)"/><rect x="414.0" y="28.72" width="243.8" height="3.37" fill="url(#gb6)"/><rect x="414.0" y="31.74" width="243.8" height="3.37" fill="url(#gb7)"/><rect x="414.0" y="34.76" width="243.8" height="3.37" fill="url(#gb8)"/><rect x="414.0" y="37.78" width="243.8" height="3.37" fill="url(#gb9)"/><rect x="414.0" y="40.80" width="243.8" height="3.37" fill="url(#gb10)"/><rect x="414.0" y="43.82" width="243.8" height="3.37" fill="url(#gb11)"/><rect x="414.0" y="46.84" width="243.8" height="3.37" fill="url(#gb12)"/><rect x="414.0" y="49.86" width="243.8" height="3.37" fill="url(#gb13)"/><rect x="414.0" y="52.88" width="243.8" height="3.37" fill="url(#gb14)"/><rect x="414.0" y="55.91" width="243.8" height="3.37" fill="url(#gb15)"/><rect x="414.0" y="58.93" width="243.8" height="3.37" fill="url(#gb16)"/><rect x="414.0" y="61.95" width="243.8" height="3.37" fill="url(#gb17)"/><rect x="414.0" y="64.97" width="243.8" height="3.37" fill="url(#gb18)"/><rect x="414.0" y="67.99" width="243.8" height="3.37" fill="url(#gb19)"/><rect x="414.0" y="71.01" width="243.8" height="3.37" fill="url(#gb20)"/><rect x="414.0" y="74.03" width="243.8" height="3.37" fill="url(#gb21)"/><rect x="414.0" y="77.05" width="243.8" height="3.37" fill="url(#gb22)"/><rect x="414.0" y="80.07" width="243.8" height="3.37" fill="url(#gb23)"/><rect x="414.0" y="83.09" width="243.8" height="3.37" fill="url(#gb24)"/><rect x="414.0" y="86.11" width="243.8" height="3.37" fill="url(#gb25)"/><rect x="414.0" y="89.13" width="243.8" height="3.37" fill="url(#gb26)"/><rect x="414.0" y="92.15" width="243.8" height="3.37" fill="url(#gb27)"/><rect x="414.0" y="95.17" width="243.8" height="3.37" fill="url(#gb28)"/><rect x="414.0" y="98.19" width="243.8" height="3.37" fill="url(#gb29)"/><rect x="414.0" y="101.21" width="243.8" height="3.37" fill="url(#gb30)"/><rect x="414.0" y="104.23" width="243.8" height="3.37" fill="url(#gb31)"/><rect x="414.0" y="107.25" width="243.8" height="3.37" fill="url(#gb32)"/><rect x="414.0" y="110.27" width="243.8" height="3.37" fill="url(#gb33)"/><rect x="414.0" y="113.29" width="243.8" height="3.37" fill="url(#gb34)"/><rect x="414.0" y="116.31" width="243.8" height="3.37" fill="url(#gb35)"/><rect x="414.0" y="119.33" width="243.8" height="3.37" fill="url(#gb36)"/><rect x="414.0" y="122.35" width="243.8" height="3.37" fill="url(#gb37)"/><rect x="414.0" y="125.37" width="243.8" height="3.37" fill="url(#gb38)"/><rect x="414.0" y="128.39" width="243.8" height="3.37" fill="url(#gb39)"/><rect x="414.0" y="131.41" width="243.8" height="3.37" fill="url(#gb40)"/><rect x="414.0" y="134.43" width="243.8" height="3.37" fill="url(#gb41)"/><rect x="414.0" y="137.45" width="243.8" height="3.37" fill="url(#gb42)"/><rect x="414.0" y="140.47" width="243.8" height="3.37" fill="url(#gb43)"/><rect x="414.0" y="143.49" width="243.8" height="3.37" fill="url(#gb44)"/><rect x="414.0" y="146.52" width="243.8" height="3.37" fill="url(#gb45)"/><rect x="414.0" y="149.54" width="243.8" height="3.37" fill="url(#gb46)"/><rect x="414.0" y="152.56" width="243.8" height="3.37" fill="url(#gb47)"/><rect x="414.0" y="155.58" width="243.8" height="3.37" fill="url(#gb48)"/><rect x="414.0" y="158.60" width="243.8" height="3.37" fill="url(#gb49)"/><rect x="414.0" y="161.62" width="243.8" height="3.37" fill="url(#gb50)"/><rect x="414.0" y="164.64" width="243.8" height="3.37" fill="url(#gb51)"/><rect x="414.0" y="167.66" width="243.8" height="3.37" fill="url(#gb52)"/><rect x="414.0" y="170.68" width="243.8" height="3.37" fill="url(#gb53)"/><rect x="414.0" y="173.70" width="243.8" height="3.37" fill="url(#gb54)"/><rect x="414.0" y="176.72" width="243.8" height="3.37" fill="url(#gb55)"/><rect x="414.0" y="179.74" width="243.8" height="3.37" fill="url(#gb56)"/><rect x="414.0" y="182.76" width="243.8" height="3.37" fill="url(#gb57)"/><rect x="414.0" y="185.78" width="243.8" height="3.37" fill="url(#gb58)"/></g>
<path d="M414.0,10.60H657.8M414.0,13.62H657.8M414.0,16.64H657.8M414.0,19.66H657.8M414.0,22.68H657.8M414.0,25.70H657.8M414.0,28.72H657.8M414.0,31.74H657.8M414.0,34.76H657.8M414.0,37.78H657.8M414.0,40.80H657.8M414.0,43.82H657.8M414.0,46.84H657.8M414.0,49.86H657.8M414.0,52.88H657.8M414.0,55.91H657.8M414.0,58.93H657.8M414.0,61.95H657.8M414.0,64.97H657.8M414.0,67.99H657.8M414.0,71.01H657.8M414.0,74.03H657.8M414.0,77.05H657.8M414.0,80.07H657.8M414.0,83.09H657.8M414.0,86.11H657.8M414.0,89.13H657.8M414.0,92.15H657.8M414.0,95.17H657.8M414.0,98.19H657.8M414.0,101.21H657.8M414.0,104.23H657.8M414.0,107.25H657.8M414.0,110.27H657.8M414.0,113.29H657.8M414.0,116.31H657.8M414.0,119.33H657.8M414.0,122.35H657.8M414.0,125.37H657.8M414.0,128.39H657.8M414.0,131.41H657.8M414.0,134.43H657.8M414.0,137.45H657.8M414.0,140.47H657.8M414.0,143.49H657.8M414.0,146.52H657.8M414.0,149.54H657.8M414.0,152.56H657.8M414.0,155.58H657.8M414.0,158.60H657.8M414.0,161.62H657.8M414.0,164.64H657.8M414.0,167.66H657.8M414.0,170.68H657.8M414.0,173.70H657.8M414.0,176.72H657.8M414.0,179.74H657.8M414.0,182.76H657.8M414.0,185.78H657.8M414.0,188.80H657.8" stroke="#000" stroke-opacity="0.65" stroke-width="0.9" fill="none"/>
<path d="M414.00,10.6V188.8M417.48,10.6V188.8M420.97,10.6V188.8M424.45,10.6V188.8M427.93,10.6V188.8M431.41,10.6V188.8M434.90,10.6V188.8M438.38,10.6V188.8M441.86,10.6V188.8M445.35,10.6V188.8M448.83,10.6V188.8M452.31,10.6V188.8M455.79,10.6V188.8M459.28,10.6V188.8M462.76,10.6V188.8M466.24,10.6V188.8M469.73,10.6V188.8M473.21,10.6V188.8M476.69,10.6V188.8M480.17,10.6V188.8M483.66,10.6V188.8M487.14,10.6V188.8M490.62,10.6V188.8M494.11,10.6V188.8M497.59,10.6V188.8M501.07,10.6V188.8M504.55,10.6V188.8M508.04,10.6V188.8M511.52,10.6V188.8M515.00,10.6V188.8M518.49,10.6V188.8M521.97,10.6V188.8M525.45,10.6V188.8M528.93,10.6V188.8M532.42,10.6V188.8M535.90,10.6V188.8M539.38,10.6V188.8M542.87,10.6V188.8M546.35,10.6V188.8M549.83,10.6V188.8M553.31,10.6V188.8M556.80,10.6V188.8M560.28,10.6V188.8M563.76,10.6V188.8M567.25,10.6V188.8M570.73,10.6V188.8M574.21,10.6V188.8M577.69,10.6V188.8M581.18,10.6V188.8M584.66,10.6V188.8M588.14,10.6V188.8M591.63,10.6V188.8M595.11,10.6V188.8M598.59,10.6V188.8M602.07,10.6V188.8M605.56,10.6V188.8M609.04,10.6V188.8M612.52,10.6V188.8M616.01,10.6V188.8M619.49,10.6V188.8M622.97,10.6V188.8M626.45,10.6V188.8M629.94,10.6V188.8M633.42,10.6V188.8M636.90,10.6V188.8M640.39,10.6V188.8M643.87,10.6V188.8M647.35,10.6V188.8M650.83,10.6V188.8M654.32,10.6V188.8M657.80,10.6V188.8" stroke="#000" stroke-opacity="0.65" stroke-width="0.9" fill="none"/>
<defs><linearGradient id="cb39711" x1="0" y1="0" x2="0" y2="1"><stop offset="0.000" stop-color="#f7dc2a"/><stop offset="0.021" stop-color="#fad62d"/><stop offset="0.042" stop-color="#fcd030"/><stop offset="0.062" stop-color="#feca34"/><stop offset="0.083" stop-color="#fec339"/><stop offset="0.104" stop-color="#fcbc3d"/><stop offset="0.125" stop-color="#f2ba38"/><stop offset="0.146" stop-color="#e6bb2d"/><stop offset="0.167" stop-color="#d7be28"/><stop offset="0.188" stop-color="#c4c22b"/><stop offset="0.208" stop-color="#aec637"/><stop offset="0.229" stop-color="#97ca48"/><stop offset="0.250" stop-color="#7fcc5a"/><stop offset="0.271" stop-color="#67cd6c"/><stop offset="0.292" stop-color="#52cc7e"/><stop offset="0.312" stop-color="#3eca8f"/><stop offset="0.333" stop-color="#33c69d"/><stop offset="0.354" stop-color="#2bc3a8"/><stop offset="0.375" stop-color="#1ec0b2"/><stop offset="0.396" stop-color="#0bbdbc"/><stop offset="0.417" stop-color="#01b9c6"/><stop offset="0.438" stop-color="#06b5cf"/><stop offset="0.458" stop-color="#13b0d7"/><stop offset="0.479" stop-color="#1babde"/><stop offset="0.500" stop-color="#20a4e3"/><stop offset="0.521" stop-color="#249ee6"/><stop offset="0.542" stop-color="#2797eb"/><stop offset="0.562" stop-color="#2b90ef"/><stop offset="0.583" stop-color="#2d8bf4"/><stop offset="0.604" stop-color="#2e85f8"/><stop offset="0.625" stop-color="#307ffb"/><stop offset="0.646" stop-color="#3579fd"/><stop offset="0.667" stop-color="#3b72ff"/><stop offset="0.688" stop-color="#416cfe"/><stop offset="0.708" stop-color="#4465fd"/><stop offset="0.729" stop-color="#465ffb"/><stop offset="0.750" stop-color="#4759f8"/><stop offset="0.771" stop-color="#4853f5"/><stop offset="0.792" stop-color="#484ef1"/><stop offset="0.812" stop-color="#4848ec"/><stop offset="0.833" stop-color="#4743e7"/><stop offset="0.854" stop-color="#463ee1"/><stop offset="0.875" stop-color="#4539d9"/><stop offset="0.896" stop-color="#4435d0"/><stop offset="0.917" stop-color="#4332c9"/><stop offset="0.938" stop-color="#422fc1"/><stop offset="0.958" stop-color="#412cb9"/><stop offset="0.979" stop-color="#3f29b1"/><stop offset="1.000" stop-color="#3e26a8"/></linearGradient></defs>
<rect x="397.6" y="11.3" width="11.399999999999977" height="178.5" fill="url(#cb39711)" stroke="#8a8a8a" stroke-width="0.6"/>
<path d="M397.6,189.80h1.6M397.6,169.97h1.6M397.6,150.13h1.6M397.6,130.30h1.6M397.6,110.47h1.6M397.6,90.63h1.6M397.6,70.80h1.6M397.6,50.97h1.6M397.6,31.13h1.6M397.6,11.30h1.6" stroke="#262626" stroke-width="0.6" fill="none"/>
<g font-family="'Liberation Sans',sans-serif" font-weight="bold" font-size="7" fill="#262626" stroke="#262626" stroke-width="0.2">
<text x="394.0" y="192.30" text-anchor="end">0.2</text>
<text x="394.0" y="172.47" text-anchor="end">0.4</text>
<text x="394.0" y="152.63" text-anchor="end">0.6</text>
<text x="394.0" y="132.80" text-anchor="end">0.8</text>
<text x="394.0" y="112.97" text-anchor="end">1</text>
<text x="394.0" y="93.13" text-anchor="end">1.2</text>
<text x="394.0" y="73.30" text-anchor="end">1.4</text>
<text x="394.0" y="53.47" text-anchor="end">1.6</text>
<text x="394.0" y="33.63" text-anchor="end">1.8</text>
<text x="394.0" y="13.80" text-anchor="end">2</text>
</g>
<g>
<circle cx="414.2" cy="9.9" r="2.65" fill="#4a8ccc" fill-opacity="0.45"/>
<circle cx="414.2" cy="9.9" r="1.85" fill="#000"/>
<circle cx="414.2" cy="74.5" r="2.65" fill="#4a8ccc" fill-opacity="0.45"/>
<circle cx="414.2" cy="74.5" r="1.85" fill="#000"/>
<circle cx="414.2" cy="188.9" r="2.65" fill="#4a8ccc" fill-opacity="0.45"/>
<circle cx="414.2" cy="188.9" r="1.85" fill="#000"/>
<circle cx="536.0" cy="9.9" r="2.65" fill="#4a8ccc" fill-opacity="0.45"/>
<circle cx="536.0" cy="9.9" r="1.85" fill="#000"/>
<circle cx="536.0" cy="74.5" r="1.75" fill="#000"/>
<circle cx="536.0" cy="188.9" r="2.65" fill="#4a8ccc" fill-opacity="0.45"/>
<circle cx="536.0" cy="188.9" r="1.85" fill="#000"/>
<circle cx="657.7" cy="9.9" r="2.65" fill="#4a8ccc" fill-opacity="0.45"/>
<circle cx="657.7" cy="9.9" r="1.85" fill="#000"/>
<circle cx="657.7" cy="74.5" r="2.65" fill="#4a8ccc" fill-opacity="0.45"/>
<circle cx="657.7" cy="74.5" r="1.85" fill="#000"/>
<circle cx="657.7" cy="188.9" r="2.65" fill="#4a8ccc" fill-opacity="0.45"/>
<circle cx="657.7" cy="188.9" r="1.85" fill="#000"/>
</g>
<g font-family="'Liberation Sans',sans-serif" font-weight="bold" font-size="7" fill="#262626" stroke="#262626" stroke-width="0.2">
<text x="660.2" y="191.30">0</text>
<text x="660.2" y="167.25">10</text>
<text x="660.2" y="143.20">20</text>
<text x="660.2" y="119.15">30</text>
<text x="660.2" y="95.10">40</text>
<text x="660.2" y="71.05">50</text>
<text x="660.2" y="47.00">60</text>
<text x="660.2" y="22.95">70</text>
<text x="657.80" y="198.4" text-anchor="middle">30</text>
<text x="622.97" y="198.4" text-anchor="middle">32</text>
<text x="588.14" y="198.4" text-anchor="middle">34</text>
<text x="553.31" y="198.4" text-anchor="middle">36</text>
<text x="518.49" y="198.4" text-anchor="middle">38</text>
<text x="483.66" y="198.4" text-anchor="middle">40</text>
<text x="448.83" y="198.4" text-anchor="middle">42</text>
<text x="414.00" y="198.4" text-anchor="middle">44</text>
</g>
<text x="536.0" y="208.4" font-family="'Liberation Sans',sans-serif" font-weight="bold" font-size="8.3" fill="#262626" stroke="#262626" stroke-width="0.2" text-anchor="middle">Temperature (°C)</text>
<text transform="translate(384.6,101.0) rotate(-90)" font-family="'Liberation Sans',sans-serif" font-weight="bold" font-size="7" fill="#262626" stroke="#262626" stroke-width="0.2" text-anchor="middle">Δ log AFU/ml</text>
<text transform="translate(681.3,99.0) rotate(-90)" font-family="'Liberation Sans',sans-serif" font-weight="bold" font-size="8" fill="#262626" stroke="#262626" stroke-width="0.2" text-anchor="middle">kLa (h<tspan font-size="5.5" dy="-3">-1</tspan><tspan dy="3">)</tspan></text>
<g shape-rendering="crispEdges">
<rect x="58.3" y="254.6" width="24.7" height="2.8" fill="#1fa6e1"/>
<rect x="82.7" y="254.6" width="24.7" height="2.8" fill="#269ae8"/>
<rect x="107.0" y="254.6" width="24.7" height="2.8" fill="#269be8"/>
<rect x="131.4" y="254.6" width="24.7" height="2.8" fill="#2d8df2"/>
<rect x="155.7" y="254.6" width="24.7" height="2.8" fill="#23a0e5"/>
<rect x="180.1" y="254.6" width="24.7" height="2.8" fill="#1ea7e1"/>
<rect x="204.4" y="254.6" width="24.7" height="2.8" fill="#15afd9"/>
<rect x="228.8" y="254.6" width="24.7" height="2.8" fill="#01b8ca"/>
<rect x="253.1" y="254.6" width="24.7" height="2.8" fill="#03bbc3"/>
<rect x="277.4" y="254.6" width="24.7" height="2.8" fill="#01b8ca"/>
<rect x="58.3" y="257.0" width="24.7" height="2.8" fill="#22a1e4"/>
<rect x="82.7" y="257.0" width="24.7" height="2.8" fill="#2995ec"/>
<rect x="107.0" y="257.0" width="24.7" height="2.8" fill="#2895ec"/>
<rect x="131.4" y="257.0" width="24.7" height="2.8" fill="#2d8bf4"/>
<rect x="155.7" y="257.0" width="24.7" height="2.8" fill="#249ee6"/>
<rect x="180.1" y="257.0" width="24.7" height="2.8" fill="#1ea7e1"/>
<rect x="204.4" y="257.0" width="24.7" height="2.8" fill="#15afd9"/>
<rect x="228.8" y="257.0" width="24.7" height="2.8" fill="#01b8ca"/>
<rect x="253.1" y="257.0" width="24.7" height="2.8" fill="#02bac4"/>
<rect x="277.4" y="257.0" width="24.7" height="2.8" fill="#02b7cb"/>
<rect x="58.3" y="259.4" width="24.7" height="2.8" fill="#259ce7"/>
<rect x="82.7" y="259.4" width="24.7" height="2.8" fill="#2c8ff1"/>
<rect x="107.0" y="259.4" width="24.7" height="2.8" fill="#2c90f0"/>
<rect x="131.4" y="259.4" width="24.7" height="2.8" fill="#2d89f5"/>
<rect x="155.7" y="259.4" width="24.7" height="2.8" fill="#259ce7"/>
<rect x="180.1" y="259.4" width="24.7" height="2.8" fill="#1ea7e1"/>
<rect x="204.4" y="259.4" width="24.7" height="2.8" fill="#15afd9"/>
<rect x="228.8" y="259.4" width="24.7" height="2.8" fill="#01b8ca"/>
<rect x="253.1" y="259.4" width="24.7" height="2.8" fill="#01bac6"/>
<rect x="277.4" y="259.4" width="24.7" height="2.8" fill="#03b7cc"/>
<rect x="58.3" y="261.8" width="24.7" height="2.8" fill="#2796eb"/>
<rect x="82.7" y="261.8" width="24.7" height="2.8" fill="#2d89f5"/>
<rect x="107.0" y="261.8" width="24.7" height="2.8" fill="#2d8bf4"/>
<rect x="131.4" y="261.8" width="24.7" height="2.8" fill="#2d87f7"/>
<rect x="155.7" y="261.8" width="24.7" height="2.8" fill="#269ae8"/>
<rect x="180.1" y="261.8" width="24.7" height="2.8" fill="#1ea7e1"/>
<rect x="204.4" y="261.8" width="24.7" height="2.8" fill="#15afd9"/>
<rect x="228.8" y="261.8" width="24.7" height="2.8" fill="#01b8ca"/>
<rect x="253.1" y="261.8" width="24.7" height="2.8" fill="#01b9c8"/>
<rect x="277.4" y="261.8" width="24.7" height="2.8" fill="#04b6cd"/>
<rect x="58.3" y="264.3" width="24.7" height="2.8" fill="#2b91ef"/>
<rect x="82.7" y="264.3" width="24.7" height="2.8" fill="#2f83f9"/>
<rect x="107.0" y="264.3" width="49.1" height="2.8" fill="#2e86f7"/>
<rect x="155.7" y="264.3" width="24.7" height="2.8" fill="#2699e9"/>
<rect x="180.1" y="264.3" width="24.7" height="2.8" fill="#1ea7e1"/>
<rect x="204.4" y="264.3" width="24.7" height="2.8" fill="#15afd9"/>
<rect x="228.8" y="264.3" width="49.1" height="2.8" fill="#01b8ca"/>
<rect x="277.4" y="264.3" width="24.7" height="2.8" fill="#06b5cf"/>
<rect x="58.3" y="266.7" width="24.7" height="2.8" fill="#2d8af4"/>
<rect x="82.7" y="266.7" width="24.7" height="2.8" fill="#327cfc"/>
<rect x="107.0" y="266.7" width="24.7" height="2.8" fill="#2f82fa"/>
<rect x="131.4" y="266.7" width="24.7" height="2.8" fill="#2e85f8"/>
<rect x="155.7" y="266.7" width="24.7" height="2.8" fill="#2699e9"/>
<rect x="180.1" y="266.7" width="24.7" height="2.8" fill="#1ea7e1"/>
<rect x="204.4" y="266.7" width="24.7" height="2.8" fill="#15afd9"/>
<rect x="228.8" y="266.7" width="24.7" height="2.8" fill="#01b8ca"/>
<rect x="253.1" y="266.7" width="24.7" height="2.8" fill="#03b7cc"/>
<rect x="277.4" y="266.7" width="24.7" height="2.8" fill="#08b5d0"/>
<rect x="58.3" y="269.1" width="24.7" height="2.8" fill="#2e84f8"/>
<rect x="82.7" y="269.1" width="24.7" height="2.8" fill="#3875fe"/>
<rect x="107.0" y="269.1" width="24.7" height="2.8" fill="#317dfc"/>
<rect x="131.4" y="269.1" width="24.7" height="2.8" fill="#2e85f8"/>
<rect x="155.7" y="269.1" width="24.7" height="2.8" fill="#2699ea"/>
<rect x="180.1" y="269.1" width="24.7" height="2.8" fill="#1ea7e1"/>
<rect x="204.4" y="269.1" width="24.7" height="2.8" fill="#15afd9"/>
<rect x="228.8" y="269.1" width="24.7" height="2.8" fill="#01b8ca"/>
<rect x="253.1" y="269.1" width="24.7" height="2.8" fill="#06b6ce"/>
<rect x="277.4" y="269.1" width="24.7" height="2.8" fill="#0bb4d2"/>
<rect x="58.3" y="271.5" width="24.7" height="2.8" fill="#317dfc"/>
<rect x="82.7" y="271.5" width="24.7" height="2.8" fill="#3f6eff"/>
<rect x="107.0" y="271.5" width="24.7" height="2.8" fill="#3579fd"/>
<rect x="131.4" y="271.5" width="24.7" height="2.8" fill="#2e85f8"/>
<rect x="155.7" y="271.5" width="24.7" height="2.8" fill="#2699e9"/>
<rect x="180.1" y="271.5" width="24.7" height="2.8" fill="#1ea7e1"/>
<rect x="204.4" y="271.5" width="24.7" height="2.8" fill="#15afd9"/>
<rect x="228.8" y="271.5" width="24.7" height="2.8" fill="#02b7cb"/>
<rect x="253.1" y="271.5" width="24.7" height="2.8" fill="#09b4d1"/>
<rect x="277.4" y="271.5" width="24.7" height="2.8" fill="#0fb2d5"/>
<rect x="58.3" y="273.9" width="24.7" height="2.8" fill="#3875fe"/>
<rect x="82.7" y="273.9" width="24.7" height="2.8" fill="#4466fd"/>
<rect x="107.0" y="273.9" width="24.7" height="2.8" fill="#3974fe"/>
<rect x="131.4" y="273.9" width="24.7" height="2.8" fill="#2e85f8"/>
<rect x="155.7" y="273.9" width="24.7" height="2.8" fill="#269ae8"/>
<rect x="180.1" y="273.9" width="24.7" height="2.8" fill="#1ea8e0"/>
<rect x="204.4" y="273.9" width="24.7" height="2.8" fill="#16afd9"/>
<rect x="228.8" y="273.9" width="24.7" height="2.8" fill="#04b6cd"/>
<rect x="253.1" y="273.9" width="24.7" height="2.8" fill="#0fb2d4"/>
<rect x="277.4" y="273.9" width="24.7" height="2.8" fill="#14b0d8"/>
<rect x="58.3" y="276.3" width="24.7" height="2.8" fill="#406dfe"/>
<rect x="82.7" y="276.3" width="24.7" height="2.8" fill="#465ffb"/>
<rect x="107.0" y="276.3" width="24.7" height="2.8" fill="#3d70ff"/>
<rect x="131.4" y="276.3" width="24.7" height="2.8" fill="#2e86f8"/>
<rect x="155.7" y="276.3" width="24.7" height="2.8" fill="#259be7"/>
<rect x="180.1" y="276.3" width="24.7" height="2.8" fill="#1da8e0"/>
<rect x="204.4" y="276.3" width="24.7" height="2.8" fill="#16afda"/>
<rect x="228.8" y="276.3" width="24.7" height="2.8" fill="#07b5d0"/>
<rect x="253.1" y="276.3" width="24.7" height="2.8" fill="#14b0d8"/>
<rect x="277.4" y="276.3" width="24.7" height="2.8" fill="#19acdc"/>
<rect x="58.3" y="278.7" width="24.7" height="2.8" fill="#4465fd"/>
<rect x="82.7" y="278.7" width="24.7" height="2.8" fill="#4758f8"/>
<rect x="107.0" y="278.7" width="24.7" height="2.8" fill="#406cfe"/>
<rect x="131.4" y="278.7" width="24.7" height="2.8" fill="#2e86f7"/>
<rect x="155.7" y="278.7" width="24.7" height="2.8" fill="#249de7"/>
<rect x="180.1" y="278.7" width="24.7" height="2.8" fill="#1da9e0"/>
<rect x="204.4" y="278.7" width="24.7" height="2.8" fill="#17aeda"/>
<rect x="228.8" y="278.7" width="24.7" height="2.8" fill="#0db3d3"/>
<rect x="253.1" y="278.7" width="24.7" height="2.8" fill="#19addb"/>
<rect x="277.4" y="278.7" width="24.7" height="2.8" fill="#1da9e0"/>
<rect x="58.3" y="281.2" width="24.7" height="2.8" fill="#465efb"/>
<rect x="82.7" y="281.2" width="24.7" height="2.8" fill="#4851f3"/>
<rect x="107.0" y="281.2" width="24.7" height="2.8" fill="#4368fe"/>
<rect x="131.4" y="281.2" width="24.7" height="2.8" fill="#2e86f7"/>
<rect x="155.7" y="281.2" width="24.7" height="2.8" fill="#249fe6"/>
<rect x="180.1" y="281.2" width="24.7" height="2.8" fill="#1ca9df"/>
<rect x="204.4" y="281.2" width="24.7" height="2.8" fill="#17aedb"/>
<rect x="228.8" y="281.2" width="24.7" height="2.8" fill="#12b1d7"/>
<rect x="253.1" y="281.2" width="24.7" height="2.8" fill="#1baade"/>
<rect x="277.4" y="281.2" width="24.7" height="2.8" fill="#20a5e3"/>
<rect x="58.3" y="283.6" width="24.7" height="2.8" fill="#4757f7"/>
<rect x="82.7" y="283.6" width="24.7" height="2.8" fill="#484bef"/>
<rect x="107.0" y="283.6" width="24.7" height="2.8" fill="#4466fd"/>
<rect x="131.4" y="283.6" width="24.7" height="2.8" fill="#2e87f7"/>
<rect x="155.7" y="283.6" width="24.7" height="2.8" fill="#23a0e5"/>
<rect x="180.1" y="283.6" width="24.7" height="2.8" fill="#1caadf"/>
<rect x="204.4" y="283.6" width="24.7" height="2.8" fill="#18addb"/>
<rect x="228.8" y="283.6" width="24.7" height="2.8" fill="#17aeda"/>
<rect x="253.1" y="283.6" width="24.7" height="2.8" fill="#1ea7e1"/>
<rect x="277.4" y="283.6" width="24.7" height="2.8" fill="#23a0e5"/>
<rect x="58.3" y="286.0" width="24.7" height="2.8" fill="#4851f3"/>
<rect x="82.7" y="286.0" width="24.7" height="2.8" fill="#4746eb"/>
<rect x="107.0" y="286.0" width="24.7" height="2.8" fill="#4564fd"/>
<rect x="131.4" y="286.0" width="24.7" height="2.8" fill="#2d88f6"/>
<rect x="155.7" y="286.0" width="24.7" height="2.8" fill="#22a1e4"/>
<rect x="180.1" y="286.0" width="24.7" height="2.8" fill="#1caadf"/>
<rect x="204.4" y="286.0" width="24.7" height="2.8" fill="#19addc"/>
<rect x="228.8" y="286.0" width="24.7" height="2.8" fill="#19acdc"/>
<rect x="253.1" y="286.0" width="24.7" height="2.8" fill="#20a4e3"/>
<rect x="277.4" y="286.0" width="24.7" height="2.8" fill="#259ce7"/>
<rect x="58.3" y="288.4" width="24.7" height="2.8" fill="#484bef"/>
<rect x="82.7" y="288.4" width="24.7" height="2.8" fill="#4743e7"/>
<rect x="107.0" y="288.4" width="24.7" height="2.8" fill="#4563fd"/>
<rect x="131.4" y="288.4" width="24.7" height="2.8" fill="#2d88f6"/>
<rect x="155.7" y="288.4" width="24.7" height="2.8" fill="#22a1e4"/>
<rect x="180.1" y="288.4" width="24.7" height="2.8" fill="#1caadf"/>
<rect x="204.4" y="288.4" width="24.7" height="2.8" fill="#19addc"/>
<rect x="228.8" y="288.4" width="24.7" height="2.8" fill="#1baade"/>
<rect x="253.1" y="288.4" width="24.7" height="2.8" fill="#22a2e4"/>
<rect x="277.4" y="288.4" width="24.7" height="2.8" fill="#2699e9"/>
<rect x="58.3" y="290.8" width="24.7" height="2.8" fill="#4746ea"/>
<rect x="82.7" y="290.8" width="24.7" height="2.8" fill="#4741e5"/>
<rect x="107.0" y="290.8" width="24.7" height="2.8" fill="#4563fd"/>
<rect x="131.4" y="290.8" width="24.7" height="2.8" fill="#2d89f5"/>
<rect x="155.7" y="290.8" width="24.7" height="2.8" fill="#22a1e4"/>
<rect x="180.1" y="290.8" width="24.7" height="2.8" fill="#1caadf"/>
<rect x="204.4" y="290.8" width="24.7" height="2.8" fill="#19acdc"/>
<rect x="228.8" y="290.8" width="24.7" height="2.8" fill="#1da9e0"/>
<rect x="253.1" y="290.8" width="24.7" height="2.8" fill="#23a0e5"/>
<rect x="277.4" y="290.8" width="24.7" height="2.8" fill="#2896eb"/>
<rect x="58.3" y="293.2" width="24.7" height="2.8" fill="#4740e4"/>
<rect x="82.7" y="293.2" width="24.7" height="2.8" fill="#4740e3"/>
<rect x="107.0" y="293.2" width="24.7" height="2.8" fill="#4564fd"/>
<rect x="131.4" y="293.2" width="24.7" height="2.8" fill="#2d8af5"/>
<rect x="155.7" y="293.2" width="24.7" height="2.8" fill="#22a1e4"/>
<rect x="180.1" y="293.2" width="24.7" height="2.8" fill="#1caadf"/>
<rect x="204.4" y="293.2" width="24.7" height="2.8" fill="#1aacdd"/>
<rect x="228.8" y="293.2" width="24.7" height="2.8" fill="#1ea7e1"/>
<rect x="253.1" y="293.2" width="24.7" height="2.8" fill="#249ee6"/>
<rect x="277.4" y="293.2" width="24.7" height="2.8" fill="#2a93ed"/>
<rect x="58.3" y="295.7" width="24.7" height="2.8" fill="#463bdd"/>
<rect x="82.7" y="295.7" width="24.7" height="2.8" fill="#473ee2"/>
<rect x="107.0" y="295.7" width="24.7" height="2.8" fill="#4465fd"/>
<rect x="131.4" y="295.7" width="24.7" height="2.8" fill="#2d8bf4"/>
<rect x="155.7" y="295.7" width="24.7" height="2.8" fill="#22a1e4"/>
<rect x="180.1" y="295.7" width="24.7" height="2.8" fill="#1ca9df"/>
<rect x="204.4" y="295.7" width="24.7" height="2.8" fill="#1aabdd"/>
<rect x="228.8" y="295.7" width="24.7" height="2.8" fill="#1fa6e2"/>
<rect x="253.1" y="295.7" width="24.7" height="2.8" fill="#259ce7"/>
<rect x="277.4" y="295.7" width="24.7" height="2.8" fill="#2b91ef"/>
<rect x="58.3" y="298.1" width="24.7" height="2.8" fill="#4537d6"/>
<rect x="82.7" y="298.1" width="24.7" height="2.8" fill="#463de0"/>
<rect x="107.0" y="298.1" width="24.7" height="2.8" fill="#4466fd"/>
<rect x="131.4" y="298.1" width="24.7" height="2.8" fill="#2d8cf3"/>
<rect x="155.7" y="298.1" width="24.7" height="2.8" fill="#22a1e4"/>
<rect x="180.1" y="298.1" width="24.7" height="2.8" fill="#1da9e0"/>
<rect x="204.4" y="298.1" width="24.7" height="2.8" fill="#1babde"/>
<rect x="228.8" y="298.1" width="24.7" height="2.8" fill="#20a4e3"/>
<rect x="253.1" y="298.1" width="24.7" height="2.8" fill="#269ae8"/>
<rect x="277.4" y="298.1" width="24.7" height="2.8" fill="#2c8ef1"/>
<rect x="58.3" y="300.5" width="24.7" height="2.8" fill="#4435d0"/>
<rect x="82.7" y="300.5" width="24.7" height="2.8" fill="#463cdf"/>
<rect x="107.0" y="300.5" width="24.7" height="2.8" fill="#4368fe"/>
<rect x="131.4" y="300.5" width="24.7" height="2.8" fill="#2d8df2"/>
<rect x="155.7" y="300.5" width="24.7" height="2.8" fill="#22a1e4"/>
<rect x="180.1" y="300.5" width="24.7" height="2.8" fill="#1da8e0"/>
<rect x="204.4" y="300.5" width="24.7" height="2.8" fill="#1babde"/>
<rect x="228.8" y="300.5" width="24.7" height="2.8" fill="#21a3e3"/>
<rect x="253.1" y="300.5" width="24.7" height="2.8" fill="#2798ea"/>
<rect x="277.4" y="300.5" width="24.7" height="2.8" fill="#2d8cf3"/>
<rect x="58.3" y="302.9" width="24.7" height="2.8" fill="#4433cd"/>
<rect x="82.7" y="302.9" width="24.7" height="2.8" fill="#463cde"/>
<rect x="107.0" y="302.9" width="24.7" height="2.8" fill="#426afe"/>
<rect x="131.4" y="302.9" width="24.7" height="2.8" fill="#2c8ef1"/>
<rect x="155.7" y="302.9" width="24.7" height="2.8" fill="#22a1e4"/>
<rect x="180.1" y="302.9" width="24.7" height="2.8" fill="#1ea7e1"/>
<rect x="204.4" y="302.9" width="24.7" height="2.8" fill="#1baade"/>
<rect x="228.8" y="302.9" width="24.7" height="2.8" fill="#22a2e4"/>
<rect x="253.1" y="302.9" width="24.7" height="2.8" fill="#2796eb"/>
<rect x="277.4" y="302.9" width="24.7" height="2.8" fill="#2d89f5"/>
<rect x="58.3" y="305.3" width="24.7" height="2.8" fill="#4433cc"/>
<rect x="82.7" y="305.3" width="24.7" height="2.8" fill="#463cdf"/>
<rect x="107.0" y="305.3" width="24.7" height="2.8" fill="#406cfe"/>
<rect x="131.4" y="305.3" width="24.7" height="2.8" fill="#2c90f0"/>
<rect x="155.7" y="305.3" width="24.7" height="2.8" fill="#22a2e4"/>
<rect x="180.1" y="305.3" width="24.7" height="2.8" fill="#1ea7e1"/>
<rect x="204.4" y="305.3" width="24.7" height="2.8" fill="#1caadf"/>
<rect x="228.8" y="305.3" width="24.7" height="2.8" fill="#23a1e4"/>
<rect x="253.1" y="305.3" width="24.7" height="2.8" fill="#2994ed"/>
<rect x="277.4" y="305.3" width="24.7" height="2.8" fill="#2e87f7"/>
<rect x="58.3" y="307.7" width="24.7" height="2.8" fill="#4433cd"/>
<rect x="82.7" y="307.7" width="24.7" height="2.8" fill="#473fe2"/>
<rect x="107.0" y="307.7" width="24.7" height="2.8" fill="#3e6fff"/>
<rect x="131.4" y="307.7" width="24.7" height="2.8" fill="#2a92ee"/>
<rect x="155.7" y="307.7" width="24.7" height="2.8" fill="#21a2e4"/>
<rect x="180.1" y="307.7" width="24.7" height="2.8" fill="#1fa6e1"/>
<rect x="204.4" y="307.7" width="24.7" height="2.8" fill="#1ca9df"/>
<rect x="228.8" y="307.7" width="24.7" height="2.8" fill="#239fe5"/>
<rect x="253.1" y="307.7" width="24.7" height="2.8" fill="#2b91ef"/>
<rect x="277.4" y="307.7" width="24.7" height="2.8" fill="#2e84f9"/>
<rect x="58.3" y="310.1" width="24.7" height="2.8" fill="#4434ce"/>
<rect x="82.7" y="310.1" width="24.7" height="2.8" fill="#4743e7"/>
<rect x="107.0" y="310.1" width="24.7" height="2.8" fill="#3a73fe"/>
<rect x="131.4" y="310.1" width="24.7" height="2.8" fill="#2895ec"/>
<rect x="155.7" y="310.1" width="24.7" height="2.8" fill="#20a4e3"/>
<rect x="180.1" y="310.1" width="24.7" height="2.8" fill="#1fa6e2"/>
<rect x="204.4" y="310.1" width="24.7" height="2.8" fill="#1da9e0"/>
<rect x="228.8" y="310.1" width="24.7" height="2.8" fill="#249ee6"/>
<rect x="253.1" y="310.1" width="24.7" height="2.8" fill="#2d8df2"/>
<rect x="277.4" y="310.1" width="24.7" height="2.8" fill="#2f81fa"/>
<rect x="58.3" y="312.6" width="24.7" height="2.8" fill="#4434cf"/>
<rect x="82.7" y="312.6" width="24.7" height="2.8" fill="#4847ec"/>
<rect x="107.0" y="312.6" width="24.7" height="2.8" fill="#3678fd"/>
<rect x="131.4" y="312.6" width="24.7" height="2.8" fill="#2798ea"/>
<rect x="155.7" y="312.6" width="24.7" height="2.8" fill="#1fa6e2"/>
<rect x="180.1" y="312.6" width="24.7" height="2.8" fill="#1fa5e2"/>
<rect x="204.4" y="312.6" width="24.7" height="2.8" fill="#1da8e0"/>
<rect x="228.8" y="312.6" width="24.7" height="2.8" fill="#249de7"/>
<rect x="253.1" y="312.6" width="24.7" height="2.8" fill="#2d8af5"/>
<rect x="277.4" y="312.6" width="24.7" height="2.8" fill="#317efb"/>
<rect x="58.3" y="315.0" width="24.7" height="2.8" fill="#4435d0"/>
<rect x="82.7" y="315.0" width="24.7" height="2.8" fill="#484df0"/>
<rect x="107.0" y="315.0" width="24.7" height="2.8" fill="#317dfc"/>
<rect x="131.4" y="315.0" width="24.7" height="2.8" fill="#259ce7"/>
<rect x="155.7" y="315.0" width="24.7" height="2.8" fill="#1ea7e1"/>
<rect x="180.1" y="315.0" width="24.7" height="2.8" fill="#20a5e2"/>
<rect x="204.4" y="315.0" width="24.7" height="2.8" fill="#1ea8e1"/>
<rect x="228.8" y="315.0" width="24.7" height="2.8" fill="#259ce7"/>
<rect x="253.1" y="315.0" width="24.7" height="2.8" fill="#2e87f7"/>
<rect x="277.4" y="315.0" width="24.7" height="2.8" fill="#327cfc"/>
<rect x="58.3" y="317.4" width="24.7" height="2.8" fill="#4535d2"/>
<rect x="82.7" y="317.4" width="24.7" height="2.8" fill="#4852f4"/>
<rect x="107.0" y="317.4" width="24.7" height="2.8" fill="#2f82f9"/>
<rect x="131.4" y="317.4" width="24.7" height="2.8" fill="#249fe5"/>
<rect x="155.7" y="317.4" width="24.7" height="2.8" fill="#1ca9df"/>
<rect x="180.1" y="317.4" width="24.7" height="2.8" fill="#20a4e3"/>
<rect x="204.4" y="317.4" width="24.7" height="2.8" fill="#1ea7e1"/>
<rect x="228.8" y="317.4" width="24.7" height="2.8" fill="#259ce7"/>
<rect x="253.1" y="317.4" width="24.7" height="2.8" fill="#2e85f8"/>
<rect x="277.4" y="317.4" width="24.7" height="2.8" fill="#337afd"/>
<rect x="58.3" y="319.8" width="24.7" height="2.8" fill="#4536d4"/>
<rect x="82.7" y="319.8" width="24.7" height="2.8" fill="#4757f7"/>
<rect x="107.0" y="319.8" width="24.7" height="2.8" fill="#2e87f7"/>
<rect x="131.4" y="319.8" width="24.7" height="2.8" fill="#21a3e3"/>
<rect x="155.7" y="319.8" width="24.7" height="2.8" fill="#1babde"/>
<rect x="180.1" y="319.8" width="24.7" height="2.8" fill="#20a4e3"/>
<rect x="204.4" y="319.8" width="24.7" height="2.8" fill="#1ea7e1"/>
<rect x="228.8" y="319.8" width="24.7" height="2.8" fill="#259ce7"/>
<rect x="253.1" y="319.8" width="24.7" height="2.8" fill="#2e85f8"/>
<rect x="277.4" y="319.8" width="24.7" height="2.8" fill="#337afd"/>
<rect x="58.3" y="322.2" width="24.7" height="2.8" fill="#4639d9"/>
<rect x="82.7" y="322.2" width="24.7" height="2.8" fill="#475bfa"/>
<rect x="107.0" y="322.2" width="24.7" height="2.8" fill="#2d8cf3"/>
<rect x="131.4" y="322.2" width="24.7" height="2.8" fill="#1da9e0"/>
<rect x="155.7" y="322.2" width="24.7" height="2.8" fill="#1aacdd"/>
<rect x="180.1" y="322.2" width="24.7" height="2.8" fill="#20a5e2"/>
<rect x="204.4" y="322.2" width="24.7" height="2.8" fill="#1ea7e1"/>
<rect x="228.8" y="322.2" width="24.7" height="2.8" fill="#259ce7"/>
<rect x="253.1" y="322.2" width="24.7" height="2.8" fill="#2e86f7"/>
<rect x="277.4" y="322.2" width="24.7" height="2.8" fill="#327cfc"/>
<rect x="58.3" y="324.6" width="24.7" height="2.8" fill="#463de0"/>
<rect x="82.7" y="324.6" width="24.7" height="2.8" fill="#4660fc"/>
<rect x="107.0" y="324.6" width="24.7" height="2.8" fill="#2b91ef"/>
<rect x="131.4" y="324.6" width="24.7" height="2.8" fill="#17aeda"/>
<rect x="155.7" y="324.6" width="24.7" height="2.8" fill="#18aedb"/>
<rect x="180.1" y="324.6" width="24.7" height="2.8" fill="#1fa5e2"/>
<rect x="204.4" y="324.6" width="24.7" height="2.8" fill="#1da8e0"/>
<rect x="228.8" y="324.6" width="24.7" height="2.8" fill="#259ce7"/>
<rect x="253.1" y="324.6" width="24.7" height="2.8" fill="#2d89f6"/>
<rect x="277.4" y="324.6" width="24.7" height="2.8" fill="#307ffb"/>
<rect x="58.3" y="327.0" width="24.7" height="2.8" fill="#4743e8"/>
<rect x="82.7" y="327.0" width="24.7" height="2.8" fill="#4465fd"/>
<rect x="107.0" y="327.0" width="24.7" height="2.8" fill="#2797eb"/>
<rect x="131.4" y="327.0" width="24.7" height="2.8" fill="#0ab4d2"/>
<rect x="155.7" y="327.0" width="24.7" height="2.8" fill="#15afd9"/>
<rect x="180.1" y="327.0" width="24.7" height="2.8" fill="#1fa6e1"/>
<rect x="204.4" y="327.0" width="24.7" height="2.8" fill="#1da8e0"/>
<rect x="228.8" y="327.0" width="24.7" height="2.8" fill="#259de7"/>
<rect x="253.1" y="327.0" width="24.7" height="2.8" fill="#2d8cf3"/>
<rect x="277.4" y="327.0" width="24.7" height="2.8" fill="#2e83f9"/>
<rect x="58.3" y="329.5" width="24.7" height="2.8" fill="#484bee"/>
<rect x="82.7" y="329.5" width="24.7" height="2.8" fill="#416bfe"/>
<rect x="107.0" y="329.5" width="24.7" height="2.8" fill="#259ce7"/>
<rect x="131.4" y="329.5" width="24.7" height="2.8" fill="#01b8c8"/>
<rect x="155.7" y="329.5" width="24.7" height="2.8" fill="#12b1d7"/>
<rect x="180.1" y="329.5" width="24.7" height="2.8" fill="#1ea8e1"/>
<rect x="204.4" y="329.5" width="24.7" height="2.8" fill="#1da9e0"/>
<rect x="228.8" y="329.5" width="24.7" height="2.8" fill="#249de6"/>
<rect x="253.1" y="329.5" width="24.7" height="2.8" fill="#2c8ff0"/>
<rect x="277.4" y="329.5" width="24.7" height="2.8" fill="#2e87f7"/>
<rect x="58.3" y="331.9" width="24.7" height="2.8" fill="#4852f4"/>
<rect x="82.7" y="331.9" width="24.7" height="2.8" fill="#3c71ff"/>
<rect x="107.0" y="331.9" width="24.7" height="2.8" fill="#22a2e4"/>
<rect x="131.4" y="331.9" width="24.7" height="2.8" fill="#07bcbf"/>
<rect x="155.7" y="331.9" width="24.7" height="2.8" fill="#0eb2d4"/>
<rect x="180.1" y="331.9" width="24.7" height="2.8" fill="#1da9e0"/>
<rect x="204.4" y="331.9" width="24.7" height="2.8" fill="#1ca9df"/>
<rect x="228.8" y="331.9" width="24.7" height="2.8" fill="#249ee6"/>
<rect x="253.1" y="331.9" width="24.7" height="2.8" fill="#2a93ee"/>
<rect x="277.4" y="331.9" width="24.7" height="2.8" fill="#2d8bf3"/>
<rect x="58.3" y="334.3" width="24.7" height="2.8" fill="#475af9"/>
<rect x="82.7" y="334.3" width="24.7" height="2.8" fill="#3677fe"/>
<rect x="107.0" y="334.3" width="24.7" height="2.8" fill="#1da9e0"/>
<rect x="131.4" y="334.3" width="24.7" height="2.8" fill="#15bfb8"/>
<rect x="155.7" y="334.3" width="24.7" height="2.8" fill="#09b4d1"/>
<rect x="180.1" y="334.3" width="49.1" height="2.8" fill="#1baade"/>
<rect x="228.8" y="334.3" width="24.7" height="2.8" fill="#249fe6"/>
<rect x="253.1" y="334.3" width="24.7" height="2.8" fill="#2896eb"/>
<rect x="277.4" y="334.3" width="24.7" height="2.8" fill="#2c90f0"/>
<rect x="58.3" y="336.7" width="24.7" height="2.8" fill="#4564fd"/>
<rect x="82.7" y="336.7" width="24.7" height="2.8" fill="#317efb"/>
<rect x="107.0" y="336.7" width="24.7" height="2.8" fill="#13b0d7"/>
<rect x="131.4" y="336.7" width="24.7" height="2.8" fill="#20c1b1"/>
<rect x="155.7" y="336.7" width="24.7" height="2.8" fill="#04b6cd"/>
<rect x="180.1" y="336.7" width="24.7" height="2.8" fill="#18addb"/>
<rect x="204.4" y="336.7" width="24.7" height="2.8" fill="#1aacdd"/>
<rect x="228.8" y="336.7" width="24.7" height="2.8" fill="#22a1e4"/>
<rect x="253.1" y="336.7" width="24.7" height="2.8" fill="#269ae8"/>
<rect x="277.4" y="336.7" width="24.7" height="2.8" fill="#2896ec"/>
<rect x="58.3" y="339.1" width="24.7" height="2.8" fill="#3e70ff"/>
<rect x="82.7" y="339.1" width="24.7" height="2.8" fill="#2e84f8"/>
<rect x="107.0" y="339.1" width="24.7" height="2.8" fill="#02b7ca"/>
<rect x="131.4" y="339.1" width="24.7" height="2.8" fill="#29c3aa"/>
<rect x="155.7" y="339.1" width="24.7" height="2.8" fill="#01b8c9"/>
<rect x="180.1" y="339.1" width="24.7" height="2.8" fill="#12b1d6"/>
<rect x="204.4" y="339.1" width="24.7" height="2.8" fill="#17aeda"/>
<rect x="228.8" y="339.1" width="24.7" height="2.8" fill="#20a5e2"/>
<rect x="253.1" y="339.1" width="24.7" height="2.8" fill="#249ee6"/>
<rect x="277.4" y="339.1" width="24.7" height="2.8" fill="#259ce7"/>
<rect x="58.3" y="341.5" width="24.7" height="2.8" fill="#327cfc"/>
<rect x="82.7" y="341.5" width="24.7" height="2.8" fill="#2d8bf4"/>
<rect x="107.0" y="341.5" width="24.7" height="2.8" fill="#09bcbe"/>
<rect x="131.4" y="341.5" width="24.7" height="2.8" fill="#2ec4a5"/>
<rect x="155.7" y="341.5" width="24.7" height="2.8" fill="#02bac4"/>
<rect x="180.1" y="341.5" width="24.7" height="2.8" fill="#08b4d1"/>
<rect x="204.4" y="341.5" width="24.7" height="2.8" fill="#13b0d7"/>
<rect x="228.8" y="341.5" width="24.7" height="2.8" fill="#1da9e0"/>
<rect x="253.1" y="341.5" width="24.7" height="2.8" fill="#21a2e4"/>
<rect x="277.4" y="341.5" width="24.7" height="2.8" fill="#22a2e4"/>
<rect x="58.3" y="343.9" width="24.7" height="2.8" fill="#2e86f8"/>
<rect x="82.7" y="343.9" width="24.7" height="2.8" fill="#2a93ee"/>
<rect x="107.0" y="343.9" width="24.7" height="2.8" fill="#19bfb5"/>
<rect x="131.4" y="343.9" width="24.7" height="2.8" fill="#31c6a0"/>
<rect x="155.7" y="343.9" width="24.7" height="2.8" fill="#07bcc0"/>
<rect x="180.1" y="343.9" width="24.7" height="2.8" fill="#03b7cc"/>
<rect x="204.4" y="343.9" width="24.7" height="2.8" fill="#0eb2d4"/>
<rect x="228.8" y="343.9" width="24.7" height="2.8" fill="#1aabde"/>
<rect x="253.1" y="343.9" width="24.7" height="2.8" fill="#1fa6e2"/>
<rect x="277.4" y="343.9" width="24.7" height="2.8" fill="#1fa6e1"/>
<rect x="58.3" y="346.4" width="24.7" height="2.8" fill="#2c8ef1"/>
<rect x="82.7" y="346.4" width="24.7" height="2.8" fill="#269be8"/>
<rect x="107.0" y="346.4" width="24.7" height="2.8" fill="#23c1af"/>
<rect x="131.4" y="346.4" width="24.7" height="2.8" fill="#33c79c"/>
<rect x="155.7" y="346.4" width="24.7" height="2.8" fill="#0dbdbc"/>
<rect x="180.1" y="346.4" width="24.7" height="2.8" fill="#01b9c7"/>
<rect x="204.4" y="346.4" width="24.7" height="2.8" fill="#08b5d0"/>
<rect x="228.8" y="346.4" width="24.7" height="2.8" fill="#18addb"/>
<rect x="253.1" y="346.4" width="49.1" height="2.8" fill="#1ca9df"/>
<rect x="58.3" y="348.8" width="24.7" height="2.8" fill="#2896ec"/>
<rect x="82.7" y="348.8" width="24.7" height="2.8" fill="#21a3e3"/>
<rect x="107.0" y="348.8" width="24.7" height="2.8" fill="#29c3a9"/>
<rect x="131.4" y="348.8" width="24.7" height="2.8" fill="#36c799"/>
<rect x="155.7" y="348.8" width="24.7" height="2.8" fill="#14bfb8"/>
<rect x="180.1" y="348.8" width="24.7" height="2.8" fill="#03bbc3"/>
<rect x="204.4" y="348.8" width="24.7" height="2.8" fill="#03b7cc"/>
<rect x="228.8" y="348.8" width="24.7" height="2.8" fill="#16afd9"/>
<rect x="253.1" y="348.8" width="49.1" height="2.8" fill="#1aacdd"/>
<rect x="58.3" y="351.2" width="24.7" height="2.8" fill="#259de7"/>
<rect x="82.7" y="351.2" width="24.7" height="2.8" fill="#1aacdd"/>
<rect x="107.0" y="351.2" width="24.7" height="2.8" fill="#2ec4a4"/>
<rect x="131.4" y="351.2" width="24.7" height="2.8" fill="#38c896"/>
<rect x="155.7" y="351.2" width="24.7" height="2.8" fill="#1bc0b4"/>
<rect x="180.1" y="351.2" width="24.7" height="2.8" fill="#09bcbe"/>
<rect x="204.4" y="351.2" width="24.7" height="2.8" fill="#01b9c8"/>
<rect x="228.8" y="351.2" width="24.7" height="2.8" fill="#13b1d7"/>
<rect x="253.1" y="351.2" width="24.7" height="2.8" fill="#16afda"/>
<rect x="277.4" y="351.2" width="24.7" height="2.8" fill="#16aeda"/>
<rect x="58.3" y="353.6" width="24.7" height="2.8" fill="#21a3e3"/>
<rect x="82.7" y="353.6" width="24.7" height="2.8" fill="#0cb3d3"/>
<rect x="107.0" y="353.6" width="24.7" height="2.8" fill="#31c69f"/>
<rect x="131.4" y="353.6" width="24.7" height="2.8" fill="#3ac993"/>
<rect x="155.7" y="353.6" width="24.7" height="2.8" fill="#22c1b0"/>
<rect x="180.1" y="353.6" width="24.7" height="2.8" fill="#10beba"/>
<rect x="204.4" y="353.6" width="24.7" height="2.8" fill="#02bbc3"/>
<rect x="228.8" y="353.6" width="24.7" height="2.8" fill="#0fb2d4"/>
<rect x="253.1" y="353.6" width="24.7" height="2.8" fill="#12b1d6"/>
<rect x="277.4" y="353.6" width="24.7" height="2.8" fill="#13b1d7"/>
<rect x="58.3" y="356.0" width="24.7" height="2.8" fill="#1ca9df"/>
<rect x="82.7" y="356.0" width="24.7" height="2.8" fill="#01b9c7"/>
<rect x="107.0" y="356.0" width="24.7" height="2.8" fill="#35c79a"/>
<rect x="131.4" y="356.0" width="24.7" height="2.8" fill="#3dc990"/>
<rect x="155.7" y="356.0" width="24.7" height="2.8" fill="#27c2ac"/>
<rect x="180.1" y="356.0" width="24.7" height="2.8" fill="#19bfb5"/>
<rect x="204.4" y="356.0" width="24.7" height="2.8" fill="#09bcbe"/>
<rect x="228.8" y="356.0" width="24.7" height="2.8" fill="#0ab4d2"/>
<rect x="253.1" y="356.0" width="24.7" height="2.8" fill="#0cb3d3"/>
<rect x="277.4" y="356.0" width="24.7" height="2.8" fill="#0db3d3"/>
<rect x="58.3" y="358.4" width="24.7" height="2.8" fill="#16aeda"/>
<rect x="82.7" y="358.4" width="24.7" height="2.8" fill="#0ebebb"/>
<rect x="107.0" y="358.4" width="24.7" height="2.8" fill="#3ac993"/>
<rect x="131.4" y="358.4" width="24.7" height="2.8" fill="#40ca8d"/>
<rect x="155.7" y="358.4" width="24.7" height="2.8" fill="#2bc3a8"/>
<rect x="180.1" y="358.4" width="24.7" height="2.8" fill="#20c1b1"/>
<rect x="204.4" y="358.4" width="24.7" height="2.8" fill="#11beba"/>
<rect x="228.8" y="358.4" width="24.7" height="2.8" fill="#06b5ce"/>
<rect x="253.1" y="358.4" width="49.1" height="2.8" fill="#06b5cf"/>
<rect x="58.3" y="360.9" width="24.7" height="2.8" fill="#0db3d3"/>
<rect x="82.7" y="360.9" width="24.7" height="2.8" fill="#23c1af"/>
<rect x="107.0" y="360.9" width="24.7" height="2.8" fill="#42ca8b"/>
<rect x="131.4" y="360.9" width="24.7" height="2.8" fill="#44cb89"/>
<rect x="155.7" y="360.9" width="24.7" height="2.8" fill="#2fc5a3"/>
<rect x="180.1" y="360.9" width="24.7" height="2.8" fill="#26c2ac"/>
<rect x="204.4" y="360.9" width="24.7" height="2.8" fill="#19bfb5"/>
<rect x="228.8" y="360.9" width="24.7" height="2.8" fill="#02b7cb"/>
<rect x="253.1" y="360.9" width="24.7" height="2.8" fill="#01b7ca"/>
<rect x="277.4" y="360.9" width="24.7" height="2.8" fill="#01b8c9"/>
<rect x="58.3" y="363.3" width="24.7" height="2.8" fill="#04b6cc"/>
<rect x="82.7" y="363.3" width="24.7" height="2.8" fill="#2fc5a2"/>
<rect x="107.0" y="363.3" width="24.7" height="2.8" fill="#4ccb83"/>
<rect x="131.4" y="363.3" width="24.7" height="2.8" fill="#49cb86"/>
<rect x="155.7" y="363.3" width="24.7" height="2.8" fill="#32c69f"/>
<rect x="180.1" y="363.3" width="24.7" height="2.8" fill="#2bc3a8"/>
<rect x="204.4" y="363.3" width="24.7" height="2.8" fill="#20c1b1"/>
<rect x="228.8" y="363.3" width="24.7" height="2.8" fill="#01b9c7"/>
<rect x="253.1" y="363.3" width="24.7" height="2.8" fill="#01b9c6"/>
<rect x="277.4" y="363.3" width="24.7" height="2.8" fill="#03bbc3"/>
<rect x="58.3" y="365.7" width="24.7" height="2.8" fill="#01bac5"/>
<rect x="82.7" y="365.7" width="24.7" height="2.8" fill="#3ac994"/>
<rect x="107.0" y="365.7" width="24.7" height="2.8" fill="#58cc79"/>
<rect x="131.4" y="365.7" width="24.7" height="2.8" fill="#4dcc82"/>
<rect x="155.7" y="365.7" width="24.7" height="2.8" fill="#35c79a"/>
<rect x="180.1" y="365.7" width="24.7" height="2.8" fill="#2ec5a4"/>
<rect x="204.4" y="365.7" width="24.7" height="2.8" fill="#26c2ad"/>
<rect x="228.8" y="365.7" width="49.1" height="2.8" fill="#04bbc2"/>
<rect x="277.4" y="365.7" width="24.7" height="2.8" fill="#0dbdbb"/>
<rect x="58.3" y="368.1" width="24.7" height="2.8" fill="#08bcbe"/>
<rect x="82.7" y="368.1" width="24.7" height="2.8" fill="#49cb85"/>
<rect x="107.0" y="368.1" width="24.7" height="2.8" fill="#64cd6f"/>
<rect x="131.4" y="368.1" width="24.7" height="2.8" fill="#52cc7e"/>
<rect x="155.7" y="368.1" width="24.7" height="2.8" fill="#39c994"/>
<rect x="180.1" y="368.1" width="24.7" height="2.8" fill="#31c69f"/>
<rect x="204.4" y="368.1" width="24.7" height="2.8" fill="#2ac3a9"/>
<rect x="228.8" y="368.1" width="49.1" height="2.8" fill="#0abdbd"/>
<rect x="277.4" y="368.1" width="24.7" height="2.8" fill="#1cc0b3"/>
<rect x="58.3" y="370.5" width="24.7" height="2.8" fill="#16bfb7"/>
<rect x="82.7" y="370.5" width="24.7" height="2.8" fill="#5dcc74"/>
<rect x="107.0" y="370.5" width="24.7" height="2.8" fill="#71cd64"/>
<rect x="131.4" y="370.5" width="24.7" height="2.8" fill="#57cc7a"/>
<rect x="155.7" y="370.5" width="24.7" height="2.8" fill="#3eca8f"/>
<rect x="180.1" y="370.5" width="24.7" height="2.8" fill="#35c79a"/>
<rect x="204.4" y="370.5" width="24.7" height="2.8" fill="#2ec4a4"/>
<rect x="228.8" y="370.5" width="24.7" height="2.8" fill="#14bfb8"/>
<rect x="253.1" y="370.5" width="24.7" height="2.8" fill="#13beb8"/>
<rect x="277.4" y="370.5" width="24.7" height="2.8" fill="#28c3aa"/>
<rect x="58.3" y="372.9" width="24.7" height="2.8" fill="#23c1af"/>
<rect x="82.7" y="372.9" width="24.7" height="2.8" fill="#72cd63"/>
<rect x="107.0" y="372.9" width="24.7" height="2.8" fill="#7fcc5a"/>
<rect x="131.4" y="372.9" width="24.7" height="2.8" fill="#5dcc75"/>
<rect x="155.7" y="372.9" width="24.7" height="2.8" fill="#45cb89"/>
<rect x="180.1" y="372.9" width="24.7" height="2.8" fill="#39c994"/>
<rect x="204.4" y="372.9" width="24.7" height="2.8" fill="#32c69f"/>
<rect x="228.8" y="372.9" width="49.1" height="2.8" fill="#1ec0b2"/>
<rect x="277.4" y="372.9" width="24.7" height="2.8" fill="#30c5a1"/>
<rect x="58.3" y="375.3" width="24.7" height="2.8" fill="#2dc4a6"/>
<rect x="82.7" y="375.3" width="24.7" height="2.8" fill="#89cb53"/>
<rect x="107.0" y="375.3" width="24.7" height="2.8" fill="#8ccb50"/>
<rect x="131.4" y="375.3" width="24.7" height="2.8" fill="#65cd6e"/>
<rect x="155.7" y="375.3" width="24.7" height="2.8" fill="#4dcc82"/>
<rect x="180.1" y="375.3" width="24.7" height="2.8" fill="#40ca8e"/>
<rect x="204.4" y="375.3" width="24.7" height="2.8" fill="#36c799"/>
<rect x="228.8" y="375.3" width="24.7" height="2.8" fill="#26c2ac"/>
<rect x="253.1" y="375.3" width="24.7" height="2.8" fill="#27c2ac"/>
<rect x="277.4" y="375.3" width="24.7" height="2.8" fill="#38c896"/>
<rect x="58.3" y="377.8" width="24.7" height="2.8" fill="#34c79b"/>
<rect x="82.7" y="377.8" width="24.7" height="2.8" fill="#9ec942"/>
<rect x="107.0" y="377.8" width="24.7" height="2.8" fill="#9ac945"/>
<rect x="131.4" y="377.8" width="24.7" height="2.8" fill="#6fcd66"/>
<rect x="155.7" y="377.8" width="24.7" height="2.8" fill="#57cc7a"/>
<rect x="180.1" y="377.8" width="24.7" height="2.8" fill="#49cb85"/>
<rect x="204.4" y="377.8" width="24.7" height="2.8" fill="#3bc993"/>
<rect x="228.8" y="377.8" width="24.7" height="2.8" fill="#2dc4a6"/>
<rect x="253.1" y="377.8" width="24.7" height="2.8" fill="#2fc5a3"/>
<rect x="277.4" y="377.8" width="24.7" height="2.8" fill="#47cb87"/>
<rect x="58.3" y="380.2" width="24.7" height="2.8" fill="#3eca8f"/>
<rect x="82.7" y="380.2" width="24.7" height="2.8" fill="#b2c635"/>
<rect x="107.0" y="380.2" width="24.7" height="2.8" fill="#a8c73b"/>
<rect x="131.4" y="380.2" width="24.7" height="2.8" fill="#7bcc5d"/>
<rect x="155.7" y="380.2" width="24.7" height="2.8" fill="#61cd71"/>
<rect x="180.1" y="380.2" width="24.7" height="2.8" fill="#55cc7b"/>
<rect x="204.4" y="380.2" width="24.7" height="2.8" fill="#41ca8c"/>
<rect x="228.8" y="380.2" width="24.7" height="2.8" fill="#32c69f"/>
<rect x="253.1" y="380.2" width="24.7" height="2.8" fill="#36c898"/>
<rect x="277.4" y="380.2" width="24.7" height="2.8" fill="#5acc77"/>
<rect x="58.3" y="382.6" width="24.7" height="2.8" fill="#4ecc81"/>
<rect x="82.7" y="382.6" width="24.7" height="2.8" fill="#c2c22c"/>
<rect x="107.0" y="382.6" width="24.7" height="2.8" fill="#b3c534"/>
<rect x="131.4" y="382.6" width="24.7" height="2.8" fill="#87cb54"/>
<rect x="155.7" y="382.6" width="24.7" height="2.8" fill="#6ccd69"/>
<rect x="180.1" y="382.6" width="24.7" height="2.8" fill="#62cd71"/>
<rect x="204.4" y="382.6" width="24.7" height="2.8" fill="#4acb84"/>
<rect x="228.8" y="382.6" width="24.7" height="2.8" fill="#38c897"/>
<rect x="253.1" y="382.6" width="24.7" height="2.8" fill="#41ca8c"/>
<rect x="277.4" y="382.6" width="24.7" height="2.8" fill="#6fcd65"/>
<rect x="58.3" y="385.0" width="24.7" height="2.8" fill="#62cd70"/>
<rect x="82.7" y="385.0" width="24.7" height="2.8" fill="#cec028"/>
<rect x="107.0" y="385.0" width="24.7" height="2.8" fill="#bdc32e"/>
<rect x="131.4" y="385.0" width="24.7" height="2.8" fill="#92ca4b"/>
<rect x="155.7" y="385.0" width="24.7" height="2.8" fill="#77cc60"/>
<rect x="180.1" y="385.0" width="24.7" height="2.8" fill="#6fcd66"/>
<rect x="204.4" y="385.0" width="24.7" height="2.8" fill="#55cc7c"/>
<rect x="228.8" y="385.0" width="24.7" height="2.8" fill="#3fca8e"/>
<rect x="253.1" y="385.0" width="24.7" height="2.8" fill="#4fcc80"/>
<rect x="277.4" y="385.0" width="24.7" height="2.8" fill="#85cb55"/>
<rect x="58.3" y="387.4" width="24.7" height="2.8" fill="#7ecc5b"/>
<rect x="82.7" y="387.4" width="24.7" height="2.8" fill="#d8be28"/>
<rect x="107.0" y="387.4" width="24.7" height="2.8" fill="#c5c22a"/>
<rect x="131.4" y="387.4" width="24.7" height="2.8" fill="#9ec942"/>
<rect x="155.7" y="387.4" width="24.7" height="2.8" fill="#82cc57"/>
<rect x="180.1" y="387.4" width="24.7" height="2.8" fill="#7dcc5b"/>
<rect x="204.4" y="387.4" width="24.7" height="2.8" fill="#61cd71"/>
<rect x="228.8" y="387.4" width="24.7" height="2.8" fill="#4bcb83"/>
<rect x="253.1" y="387.4" width="24.7" height="2.8" fill="#5fcd73"/>
<rect x="277.4" y="387.4" width="24.7" height="2.8" fill="#9bc945"/>
<rect x="58.3" y="389.8" width="24.7" height="2.8" fill="#9bc945"/>
<rect x="82.7" y="389.8" width="24.7" height="2.8" fill="#e0bc2a"/>
<rect x="107.0" y="389.8" width="24.7" height="2.8" fill="#cdc028"/>
<rect x="131.4" y="389.8" width="24.7" height="2.8" fill="#a8c73b"/>
<rect x="155.7" y="389.8" width="24.7" height="2.8" fill="#8ecb4f"/>
<rect x="180.1" y="389.8" width="24.7" height="2.8" fill="#8bcb51"/>
<rect x="204.4" y="389.8" width="24.7" height="2.8" fill="#6ecd67"/>
<rect x="228.8" y="389.8" width="24.7" height="2.8" fill="#59cc78"/>
<rect x="253.1" y="389.8" width="24.7" height="2.8" fill="#6fcd66"/>
<rect x="277.4" y="389.8" width="24.7" height="2.8" fill="#afc637"/>
<rect x="58.3" y="392.2" width="24.7" height="2.8" fill="#b4c534"/>
<rect x="82.7" y="392.2" width="24.7" height="2.8" fill="#e7bb2d"/>
<rect x="107.0" y="392.2" width="24.7" height="2.8" fill="#d3bf27"/>
<rect x="131.4" y="392.2" width="24.7" height="2.8" fill="#b3c534"/>
<rect x="155.7" y="392.2" width="24.7" height="2.8" fill="#98c946"/>
<rect x="180.1" y="392.2" width="24.7" height="2.8" fill="#98ca47"/>
<rect x="204.4" y="392.2" width="24.7" height="2.8" fill="#7bcc5c"/>
<rect x="228.8" y="392.2" width="24.7" height="2.8" fill="#67cd6c"/>
<rect x="253.1" y="392.2" width="24.7" height="2.8" fill="#81cc58"/>
<rect x="277.4" y="392.2" width="24.7" height="2.8" fill="#c0c32d"/>
<rect x="58.3" y="394.7" width="24.7" height="2.8" fill="#c7c12a"/>
<rect x="82.7" y="394.7" width="24.7" height="2.8" fill="#ecba32"/>
<rect x="107.0" y="394.7" width="24.7" height="2.8" fill="#d9be28"/>
<rect x="131.4" y="394.7" width="24.7" height="2.8" fill="#bcc42f"/>
<rect x="155.7" y="394.7" width="49.1" height="2.8" fill="#a2c83f"/>
<rect x="204.4" y="394.7" width="24.7" height="2.8" fill="#88cb53"/>
<rect x="228.8" y="394.7" width="24.7" height="2.8" fill="#77cc60"/>
<rect x="253.1" y="394.7" width="24.7" height="2.8" fill="#94ca4a"/>
<rect x="277.4" y="394.7" width="24.7" height="2.8" fill="#ccc028"/>
<rect x="58.3" y="397.1" width="24.7" height="2.8" fill="#d5be28"/>
<rect x="82.7" y="397.1" width="24.7" height="2.8" fill="#f1ba37"/>
<rect x="107.0" y="397.1" width="24.7" height="2.8" fill="#debc2a"/>
<rect x="131.4" y="397.1" width="24.7" height="2.8" fill="#c4c22b"/>
<rect x="155.7" y="397.1" width="24.7" height="2.8" fill="#abc739"/>
<rect x="180.1" y="397.1" width="24.7" height="2.8" fill="#acc739"/>
<rect x="204.4" y="397.1" width="24.7" height="2.8" fill="#94ca4a"/>
<rect x="228.8" y="397.1" width="24.7" height="2.8" fill="#88cb53"/>
<rect x="253.1" y="397.1" width="24.7" height="2.8" fill="#a9c73a"/>
<rect x="277.4" y="397.1" width="24.7" height="2.8" fill="#d6be28"/>
<rect x="58.3" y="399.5" width="24.7" height="2.8" fill="#e1bc2b"/>
<rect x="82.7" y="399.5" width="24.7" height="2.8" fill="#f5ba3a"/>
<rect x="107.0" y="399.5" width="24.7" height="2.8" fill="#e3bc2c"/>
<rect x="131.4" y="399.5" width="24.7" height="2.8" fill="#cbc029"/>
<rect x="155.7" y="399.5" width="49.1" height="2.8" fill="#b4c534"/>
<rect x="204.4" y="399.5" width="24.7" height="2.8" fill="#9fc941"/>
<rect x="228.8" y="399.5" width="24.7" height="2.8" fill="#98c947"/>
<rect x="253.1" y="399.5" width="24.7" height="2.8" fill="#bec32e"/>
<rect x="277.4" y="399.5" width="24.7" height="2.8" fill="#dfbc2a"/>
<rect x="58.3" y="401.9" width="24.7" height="2.8" fill="#ebba31"/>
<rect x="82.7" y="401.9" width="24.7" height="2.8" fill="#f8ba3d"/>
<rect x="107.0" y="401.9" width="24.7" height="2.8" fill="#e7bb2e"/>
<rect x="131.4" y="401.9" width="24.7" height="2.8" fill="#d2bf27"/>
<rect x="155.7" y="401.9" width="49.1" height="2.8" fill="#bbc42f"/>
<rect x="204.4" y="401.9" width="24.7" height="2.8" fill="#aac73a"/>
<rect x="228.8" y="401.9" width="24.7" height="2.8" fill="#a7c73c"/>
<rect x="253.1" y="401.9" width="24.7" height="2.8" fill="#cfc028"/>
<rect x="277.4" y="401.9" width="24.7" height="2.8" fill="#e6bb2d"/>
<rect x="58.3" y="404.3" width="24.7" height="2.8" fill="#f1ba37"/>
<rect x="82.7" y="404.3" width="24.7" height="2.8" fill="#fabb3d"/>
<rect x="107.0" y="404.3" width="24.7" height="2.8" fill="#ebba31"/>
<rect x="131.4" y="404.3" width="24.7" height="2.8" fill="#d8be28"/>
<rect x="155.7" y="404.3" width="49.1" height="2.8" fill="#c2c22c"/>
<rect x="204.4" y="404.3" width="24.7" height="2.8" fill="#b2c635"/>
<rect x="228.8" y="404.3" width="24.7" height="2.8" fill="#b2c535"/>
<rect x="253.1" y="404.3" width="24.7" height="2.8" fill="#d8be28"/>
<rect x="277.4" y="404.3" width="24.7" height="2.8" fill="#ebba32"/>
<rect x="58.3" y="406.7" width="24.7" height="2.8" fill="#f5ba3a"/>
<rect x="82.7" y="406.7" width="24.7" height="2.8" fill="#fbbc3d"/>
<rect x="107.0" y="406.7" width="24.7" height="2.8" fill="#eeba34"/>
<rect x="131.4" y="406.7" width="24.7" height="2.8" fill="#ddbd29"/>
<rect x="155.7" y="406.7" width="49.1" height="2.8" fill="#c8c129"/>
<rect x="204.4" y="406.7" width="24.7" height="2.8" fill="#b8c431"/>
<rect x="228.8" y="406.7" width="24.7" height="2.8" fill="#bbc42f"/>
<rect x="253.1" y="406.7" width="24.7" height="2.8" fill="#debc2a"/>
<rect x="277.4" y="406.7" width="24.7" height="2.8" fill="#efba35"/>
<rect x="58.3" y="409.2" width="24.7" height="2.8" fill="#f8ba3d"/>
<rect x="82.7" y="409.2" width="24.7" height="2.8" fill="#fcbc3d"/>
<rect x="107.0" y="409.2" width="24.7" height="2.8" fill="#f1ba37"/>
<rect x="131.4" y="409.2" width="24.7" height="2.8" fill="#e2bc2b"/>
<rect x="155.7" y="409.2" width="49.1" height="2.8" fill="#cdc028"/>
<rect x="204.4" y="409.2" width="24.7" height="2.8" fill="#bec32e"/>
<rect x="228.8" y="409.2" width="24.7" height="2.8" fill="#c3c22b"/>
<rect x="253.1" y="409.2" width="24.7" height="2.8" fill="#e3bc2c"/>
<rect x="277.4" y="409.2" width="24.7" height="2.8" fill="#f3ba38"/>
<rect x="58.3" y="411.6" width="24.7" height="2.8" fill="#fbbc3d"/>
<rect x="82.7" y="411.6" width="24.7" height="2.8" fill="#fcbd3d"/>
<rect x="107.0" y="411.6" width="24.7" height="2.8" fill="#f3ba39"/>
<rect x="131.4" y="411.6" width="24.7" height="2.8" fill="#e7bb2e"/>
<rect x="155.7" y="411.6" width="49.1" height="2.8" fill="#d2bf27"/>
<rect x="204.4" y="411.6" width="24.7" height="2.8" fill="#c3c22b"/>
<rect x="228.8" y="411.6" width="24.7" height="2.8" fill="#c9c129"/>
<rect x="253.1" y="411.6" width="24.7" height="2.8" fill="#e7bb2d"/>
<rect x="277.4" y="411.6" width="24.7" height="2.8" fill="#f6ba3c"/>
<rect x="58.3" y="414.0" width="49.1" height="2.8" fill="#febd3c"/>
<rect x="107.0" y="414.0" width="24.7" height="2.8" fill="#f5ba3b"/>
<rect x="131.4" y="414.0" width="24.7" height="2.8" fill="#eaba31"/>
<rect x="155.7" y="414.0" width="49.1" height="2.8" fill="#d7be28"/>
<rect x="204.4" y="414.0" width="24.7" height="2.8" fill="#c9c129"/>
<rect x="228.8" y="414.0" width="24.7" height="2.8" fill="#d0bf27"/>
<rect x="253.1" y="414.0" width="24.7" height="2.8" fill="#eaba31"/>
<rect x="277.4" y="414.0" width="24.7" height="2.8" fill="#fabb3d"/>
<rect x="58.3" y="416.4" width="24.7" height="2.8" fill="#fec239"/>
<rect x="82.7" y="416.4" width="24.7" height="2.8" fill="#febf3b"/>
<rect x="107.0" y="416.4" width="24.7" height="2.8" fill="#f7ba3c"/>
<rect x="131.4" y="416.4" width="24.7" height="2.8" fill="#eeba34"/>
<rect x="155.7" y="416.4" width="49.1" height="2.8" fill="#dcbd29"/>
<rect x="204.4" y="416.4" width="24.7" height="2.8" fill="#cec028"/>
<rect x="228.8" y="416.4" width="24.7" height="2.8" fill="#d7be28"/>
<rect x="253.1" y="416.4" width="24.7" height="2.8" fill="#eeba34"/>
<rect x="277.4" y="416.4" width="24.7" height="2.8" fill="#febe3c"/>
<rect x="58.3" y="418.8" width="24.7" height="2.8" fill="#fec835"/>
<rect x="82.7" y="418.8" width="24.7" height="2.8" fill="#fec239"/>
<rect x="107.0" y="418.8" width="24.7" height="2.8" fill="#f8ba3d"/>
<rect x="131.4" y="418.8" width="24.7" height="2.8" fill="#f0ba36"/>
<rect x="155.7" y="418.8" width="49.1" height="2.8" fill="#e1bc2b"/>
<rect x="204.4" y="418.8" width="24.7" height="2.8" fill="#d4bf28"/>
<rect x="228.8" y="418.8" width="24.7" height="2.8" fill="#ddbd29"/>
<rect x="253.1" y="418.8" width="24.7" height="2.8" fill="#f2ba37"/>
<rect x="277.4" y="418.8" width="24.7" height="2.8" fill="#fec338"/>
<rect x="58.3" y="421.2" width="24.7" height="2.8" fill="#fdce31"/>
<rect x="82.7" y="421.2" width="24.7" height="2.8" fill="#fec537"/>
<rect x="107.0" y="421.2" width="24.7" height="2.8" fill="#f9ba3d"/>
<rect x="131.4" y="421.2" width="24.7" height="2.8" fill="#f3ba39"/>
<rect x="155.7" y="421.2" width="49.1" height="2.8" fill="#e6bb2d"/>
<rect x="204.4" y="421.2" width="24.7" height="2.8" fill="#d9be28"/>
<rect x="228.8" y="421.2" width="24.7" height="2.8" fill="#e3bc2c"/>
<rect x="253.1" y="421.2" width="24.7" height="2.8" fill="#f5ba3b"/>
<rect x="277.4" y="421.2" width="24.7" height="2.8" fill="#fec934"/>
<rect x="58.3" y="423.6" width="24.7" height="2.8" fill="#fad42e"/>
<rect x="82.7" y="423.6" width="24.7" height="2.8" fill="#fec835"/>
<rect x="107.0" y="423.6" width="24.7" height="2.8" fill="#fabb3d"/>
<rect x="131.4" y="423.6" width="24.7" height="2.8" fill="#f5ba3a"/>
<rect x="155.7" y="423.6" width="49.1" height="2.8" fill="#eabb30"/>
<rect x="204.4" y="423.6" width="24.7" height="2.8" fill="#ddbd29"/>
<rect x="228.8" y="423.6" width="24.7" height="2.8" fill="#eabb30"/>
<rect x="253.1" y="423.6" width="24.7" height="2.8" fill="#fabb3d"/>
<rect x="277.4" y="423.6" width="24.7" height="2.8" fill="#fcd030"/>
<rect x="58.3" y="426.1" width="24.7" height="2.8" fill="#f8d82c"/>
<rect x="82.7" y="426.1" width="24.7" height="2.8" fill="#fdcb33"/>
<rect x="107.0" y="426.1" width="24.7" height="2.8" fill="#fbbc3d"/>
<rect x="131.4" y="426.1" width="24.7" height="2.8" fill="#f7ba3c"/>
<rect x="155.7" y="426.1" width="49.1" height="2.8" fill="#edba33"/>
<rect x="204.4" y="426.1" width="24.7" height="2.8" fill="#e1bc2b"/>
<rect x="228.8" y="426.1" width="24.7" height="2.8" fill="#f0ba36"/>
<rect x="253.1" y="426.1" width="24.7" height="2.8" fill="#febe3c"/>
<rect x="277.4" y="426.1" width="24.7" height="2.8" fill="#fad62d"/>
<rect x="58.3" y="428.5" width="24.7" height="2.8" fill="#f7dd2a"/>
<rect x="82.7" y="428.5" width="24.7" height="2.8" fill="#fdce31"/>
<rect x="107.0" y="428.5" width="24.7" height="2.8" fill="#fdbd3d"/>
<rect x="131.4" y="428.5" width="24.7" height="2.8" fill="#f8ba3d"/>
<rect x="155.7" y="428.5" width="49.1" height="2.8" fill="#f0ba36"/>
<rect x="204.4" y="428.5" width="24.7" height="2.8" fill="#e5bb2d"/>
<rect x="228.8" y="428.5" width="24.7" height="2.8" fill="#f7ba3c"/>
<rect x="253.1" y="428.5" width="24.7" height="2.8" fill="#fec437"/>
<rect x="277.4" y="428.5" width="24.7" height="2.8" fill="#f7dc2a"/>
<rect x="58.3" y="430.9" width="24.7" height="2.8" fill="#f5e128"/>
<rect x="82.7" y="430.9" width="24.7" height="2.8" fill="#fbd12f"/>
<rect x="107.0" y="430.9" width="24.7" height="2.8" fill="#febf3b"/>
<rect x="131.4" y="430.9" width="24.7" height="2.8" fill="#f9bb3d"/>
<rect x="155.7" y="430.9" width="49.1" height="2.8" fill="#f3ba39"/>
<rect x="204.4" y="430.9" width="24.7" height="2.8" fill="#e8bb2f"/>
<rect x="228.8" y="430.9" width="24.7" height="2.8" fill="#fdbd3d"/>
<rect x="253.1" y="430.9" width="24.7" height="2.8" fill="#fdcd32"/>
<rect x="277.4" y="430.9" width="24.7" height="2.8" fill="#f5e327"/>
</g>
<path d="M58.30,254.60H301.80M58.30,257.01H301.80M58.30,259.43H301.80M58.30,261.84H301.80M58.30,264.26H301.80M58.30,266.67H301.80M58.30,269.09H301.80M58.30,271.50H301.80M58.30,273.92H301.80M58.30,276.33H301.80M58.30,278.75H301.80M58.30,281.16H301.80M58.30,283.58H301.80M58.30,285.99H301.80M58.30,288.41H301.80M58.30,290.82H301.80M58.30,293.24H301.80M58.30,295.65H301.80M58.30,298.07H301.80M58.30,300.48H301.80M58.30,302.90H301.80M58.30,305.31H301.80M58.30,307.73H301.80M58.30,310.14H301.80M58.30,312.56H301.80M58.30,314.97H301.80M58.30,317.39H301.80M58.30,319.80H301.80M58.30,322.22H301.80M58.30,324.63H301.80M58.30,327.05H301.80M58.30,329.46H301.80M58.30,331.88H301.80M58.30,334.29H301.80M58.30,336.71H301.80M58.30,339.12H301.80M58.30,341.54H301.80M58.30,343.95H301.80M58.30,346.36H301.80M58.30,348.78H301.80M58.30,351.19H301.80M58.30,353.61H301.80M58.30,356.02H301.80M58.30,358.44H301.80M58.30,360.85H301.80M58.30,363.27H301.80M58.30,365.68H301.80M58.30,368.10H301.80M58.30,370.51H301.80M58.30,372.93H301.80M58.30,375.34H301.80M58.30,377.76H301.80M58.30,380.17H301.80M58.30,382.59H301.80M58.30,385.00H301.80M58.30,387.42H301.80M58.30,389.83H301.80M58.30,392.25H301.80M58.30,394.66H301.80M58.30,397.08H301.80M58.30,399.49H301.80M58.30,401.91H301.80M58.30,404.32H301.80M58.30,406.74H301.80M58.30,409.15H301.80M58.30,411.57H301.80M58.30,413.98H301.80M58.30,416.40H301.80M58.30,418.81H301.80M58.30,421.23H301.80M58.30,423.64H301.80M58.30,426.06H301.80M58.30,428.47H301.80M58.30,430.89H301.80M58.30,433.30H301.80" stroke="#000" stroke-opacity="0.75" stroke-width="0.8" fill="none"/>
<path d="M58.30,254.60V433.30M82.65,254.60V433.30M107.00,254.60V433.30M131.35,254.60V433.30M155.70,254.60V433.30M180.05,254.60V433.30M204.40,254.60V433.30M228.75,254.60V433.30M253.10,254.60V433.30M277.45,254.60V433.30M301.80,254.60V433.30" stroke="#000" stroke-opacity="0.75" stroke-width="0.9" fill="none"/>
<defs><linearGradient id="cb41254" x1="0" y1="0" x2="0" y2="1"><stop offset="0.000" stop-color="#f7dc2a"/><stop offset="0.021" stop-color="#fad62d"/><stop offset="0.042" stop-color="#fcd030"/><stop offset="0.062" stop-color="#feca34"/><stop offset="0.083" stop-color="#fec339"/><stop offset="0.104" stop-color="#fcbc3d"/><stop offset="0.125" stop-color="#f2ba38"/><stop offset="0.146" stop-color="#e6bb2d"/><stop offset="0.167" stop-color="#d7be28"/><stop offset="0.188" stop-color="#c4c22b"/><stop offset="0.208" stop-color="#aec637"/><stop offset="0.229" stop-color="#97ca48"/><stop offset="0.250" stop-color="#7fcc5a"/><stop offset="0.271" stop-color="#67cd6c"/><stop offset="0.292" stop-color="#52cc7e"/><stop offset="0.312" stop-color="#3eca8f"/><stop offset="0.333" stop-color="#33c69d"/><stop offset="0.354" stop-color="#2bc3a8"/><stop offset="0.375" stop-color="#1ec0b2"/><stop offset="0.396" stop-color="#0bbdbc"/><stop offset="0.417" stop-color="#01b9c6"/><stop offset="0.438" stop-color="#06b5cf"/><stop offset="0.458" stop-color="#13b0d7"/><stop offset="0.479" stop-color="#1babde"/><stop offset="0.500" stop-color="#20a4e3"/><stop offset="0.521" stop-color="#249ee6"/><stop offset="0.542" stop-color="#2797eb"/><stop offset="0.562" stop-color="#2b90ef"/><stop offset="0.583" stop-color="#2d8bf4"/><stop offset="0.604" stop-color="#2e85f8"/><stop offset="0.625" stop-color="#307ffb"/><stop offset="0.646" stop-color="#3579fd"/><stop offset="0.667" stop-color="#3b72ff"/><stop offset="0.688" stop-color="#416cfe"/><stop offset="0.708" stop-color="#4465fd"/><stop offset="0.729" stop-color="#465ffb"/><stop offset="0.750" stop-color="#4759f8"/><stop offset="0.771" stop-color="#4853f5"/><stop offset="0.792" stop-color="#484ef1"/><stop offset="0.812" stop-color="#4848ec"/><stop offset="0.833" stop-color="#4743e7"/><stop offset="0.854" stop-color="#463ee1"/><stop offset="0.875" stop-color="#4539d9"/><stop offset="0.896" stop-color="#4435d0"/><stop offset="0.917" stop-color="#4332c9"/><stop offset="0.938" stop-color="#422fc1"/><stop offset="0.958" stop-color="#412cb9"/><stop offset="0.979" stop-color="#3f29b1"/><stop offset="1.000" stop-color="#3e26a8"/></linearGradient></defs>
<rect x="41.0" y="254.6" width="11.399999999999999" height="179.00000000000003" fill="url(#cb41254)" stroke="#8a8a8a" stroke-width="0.6"/>
<path d="M41.0,433.60h1.6M41.0,413.71h1.6M41.0,393.82h1.6M41.0,373.93h1.6M41.0,354.04h1.6M41.0,334.16h1.6M41.0,314.27h1.6M41.0,294.38h1.6M41.0,274.49h1.6M41.0,254.60h1.6" stroke="#262626" stroke-width="0.6" fill="none"/>
<g font-family="'Liberation Sans',sans-serif" font-weight="bold" font-size="7" fill="#262626" stroke="#262626" stroke-width="0.2">
<text x="37.4" y="436.10" text-anchor="end">0.2</text>
<text x="37.4" y="416.21" text-anchor="end">0.4</text>
<text x="37.4" y="396.32" text-anchor="end">0.6</text>
<text x="37.4" y="376.43" text-anchor="end">0.8</text>
<text x="37.4" y="356.54" text-anchor="end">1</text>
<text x="37.4" y="336.66" text-anchor="end">1.2</text>
<text x="37.4" y="316.77" text-anchor="end">1.4</text>
<text x="37.4" y="296.88" text-anchor="end">1.6</text>
<text x="37.4" y="276.99" text-anchor="end">1.8</text>
<text x="37.4" y="257.10" text-anchor="end">2</text>
</g>
<g>
<circle cx="58.2" cy="253.8" r="2.65" fill="#4a8ccc" fill-opacity="0.45"/>
<circle cx="58.2" cy="253.8" r="1.85" fill="#000"/>
<circle cx="58.2" cy="318.4" r="2.65" fill="#4a8ccc" fill-opacity="0.45"/>
<circle cx="58.2" cy="318.4" r="1.85" fill="#000"/>
<circle cx="58.2" cy="433.3" r="2.65" fill="#4a8ccc" fill-opacity="0.45"/>
<circle cx="58.2" cy="433.3" r="1.85" fill="#000"/>
<circle cx="180.0" cy="253.8" r="2.65" fill="#4a8ccc" fill-opacity="0.45"/>
<circle cx="180.0" cy="253.8" r="1.85" fill="#000"/>
<circle cx="180.0" cy="318.4" r="1.75" fill="#000"/>
<circle cx="180.0" cy="433.3" r="2.65" fill="#4a8ccc" fill-opacity="0.45"/>
<circle cx="180.0" cy="433.3" r="1.85" fill="#000"/>
<circle cx="301.6" cy="253.8" r="2.65" fill="#4a8ccc" fill-opacity="0.45"/>
<circle cx="301.6" cy="253.8" r="1.85" fill="#000"/>
<circle cx="301.6" cy="318.4" r="2.65" fill="#4a8ccc" fill-opacity="0.45"/>
<circle cx="301.6" cy="318.4" r="1.85" fill="#000"/>
<circle cx="301.6" cy="433.3" r="2.65" fill="#4a8ccc" fill-opacity="0.45"/>
<circle cx="301.6" cy="433.3" r="1.85" fill="#000"/>
</g>
<g font-family="'Liberation Sans',sans-serif" font-weight="bold" font-size="7" fill="#262626" stroke="#262626" stroke-width="0.2">
<text x="304.3" y="435.80">0</text>
<text x="304.3" y="411.70">10</text>
<text x="304.3" y="387.60">20</text>
<text x="304.3" y="363.50">30</text>
<text x="304.3" y="339.40">40</text>
<text x="304.3" y="315.30">50</text>
<text x="304.3" y="291.20">60</text>
<text x="304.3" y="267.10">70</text>
<text x="58.30" y="443.0" text-anchor="middle">7</text>
<text x="82.65" y="443.0" text-anchor="middle">6.8</text>
<text x="107.00" y="443.0" text-anchor="middle">6.6</text>
<text x="131.35" y="443.0" text-anchor="middle">6.4</text>
<text x="155.70" y="443.0" text-anchor="middle">6.2</text>
<text x="180.05" y="443.0" text-anchor="middle">6</text>
<text x="204.40" y="443.0" text-anchor="middle">5.8</text>
<text x="228.75" y="443.0" text-anchor="middle">5.6</text>
<text x="253.10" y="443.0" text-anchor="middle">5.4</text>
<text x="277.45" y="443.0" text-anchor="middle">5.2</text>
<text x="301.80" y="443.0" text-anchor="middle">5</text>
</g>
<text x="180.0" y="452.8" font-family="'Liberation Sans',sans-serif" font-weight="bold" font-size="8.3" fill="#262626" stroke="#262626" stroke-width="0.2" text-anchor="middle">pH</text>
<text transform="translate(28.6,344.5) rotate(-90)" font-family="'Liberation Sans',sans-serif" font-weight="bold" font-size="7" fill="#262626" stroke="#262626" stroke-width="0.2" text-anchor="middle">Δ log AFU/ml</text>
<text transform="translate(324.0,343.5) rotate(-90)" font-family="'Liberation Sans',sans-serif" font-weight="bold" font-size="8" fill="#262626" stroke="#262626" stroke-width="0.2" text-anchor="middle">kLa (h<tspan font-size="5.5" dy="-3">-1</tspan><tspan dy="3">)</tspan></text>
<g shape-rendering="crispEdges">
<rect x="414.40" y="253.80" width="24.62" height="13.11" fill="#1aa8dc"/>
<rect x="438.72" y="253.80" width="24.62" height="13.11" fill="#2ec8a8"/>
<rect x="463.04" y="253.80" width="24.62" height="13.11" fill="#88c858"/>
<rect x="487.36" y="253.80" width="24.62" height="13.11" fill="#ecb838"/>
<rect x="511.68" y="253.80" width="24.62" height="13.11" fill="#e4bc30"/>
<rect x="536.00" y="253.80" width="24.62" height="13.11" fill="#8ccc50"/>
<rect x="560.32" y="253.80" width="24.62" height="13.11" fill="#44c890"/>
<rect x="584.64" y="253.80" width="24.62" height="13.11" fill="#10b8c0"/>
<rect x="608.96" y="253.80" width="24.62" height="13.11" fill="#28a0e4"/>
<rect x="633.28" y="253.80" width="24.62" height="13.11" fill="#20a8e0"/>
<rect x="414.40" y="266.61" width="24.62" height="13.11" fill="#2cc4a8"/>
<rect x="438.72" y="266.61" width="24.62" height="13.11" fill="#84c858"/>
<rect x="463.04" y="266.61" width="24.62" height="13.11" fill="#e4b830"/>
<rect x="487.36" y="266.61" width="24.62" height="13.11" fill="#fcb83c"/>
<rect x="511.68" y="266.61" width="24.62" height="13.11" fill="#d4bc2c"/>
<rect x="536.00" y="266.61" width="24.62" height="13.11" fill="#7cc85c"/>
<rect x="560.32" y="266.61" width="24.62" height="13.11" fill="#3cc49c"/>
<rect x="584.64" y="266.61" width="24.62" height="13.11" fill="#08b4d0"/>
<rect x="608.96" y="266.61" width="24.62" height="13.11" fill="#18a8dc"/>
<rect x="633.28" y="266.61" width="24.62" height="13.11" fill="#10bcb8"/>
<rect x="414.40" y="279.43" width="24.62" height="13.11" fill="#74c860"/>
<rect x="438.72" y="279.43" width="24.62" height="13.11" fill="#e0b830"/>
<rect x="463.04" y="279.43" width="24.62" height="13.11" fill="#fccc30"/>
<rect x="487.36" y="279.43" width="24.62" height="13.11" fill="#f0b43c"/>
<rect x="511.68" y="279.43" width="24.62" height="13.11" fill="#ccbc2c"/>
<rect x="536.00" y="279.43" width="24.62" height="13.11" fill="#78c860"/>
<rect x="560.32" y="279.43" width="24.62" height="13.11" fill="#30c0a8"/>
<rect x="584.64" y="279.43" width="24.62" height="13.11" fill="#08b4d0"/>
<rect x="608.96" y="279.43" width="24.62" height="13.11" fill="#28c0ac"/>
<rect x="633.28" y="279.43" width="24.62" height="13.11" fill="#48c88c"/>
<rect x="414.40" y="292.24" width="24.62" height="13.11" fill="#dcbc2c"/>
<rect x="438.72" y="292.24" width="24.62" height="13.11" fill="#fcdc2c"/>
<rect x="463.04" y="292.24" width="24.62" height="13.11" fill="#fcc434"/>
<rect x="487.36" y="292.24" width="24.62" height="13.11" fill="#e8b834"/>
<rect x="511.68" y="292.24" width="24.62" height="13.11" fill="#a8c43c"/>
<rect x="536.00" y="292.24" width="24.62" height="13.11" fill="#50c880"/>
<rect x="560.32" y="292.24" width="24.62" height="13.11" fill="#18bcbc"/>
<rect x="584.64" y="292.24" width="24.62" height="13.11" fill="#38c49c"/>
<rect x="608.96" y="292.24" width="24.62" height="13.11" fill="#70c864"/>
<rect x="633.28" y="292.24" width="24.62" height="13.11" fill="#a4c840"/>
<rect x="414.40" y="305.06" width="24.62" height="13.11" fill="#fcd030"/>
<rect x="438.72" y="305.06" width="24.62" height="13.11" fill="#f8dc2c"/>
<rect x="463.04" y="305.06" width="24.62" height="13.11" fill="#fcb83c"/>
<rect x="487.36" y="305.06" width="24.62" height="13.11" fill="#d4bc2c"/>
<rect x="511.68" y="305.06" width="24.62" height="13.11" fill="#98c844"/>
<rect x="536.00" y="305.06" width="24.62" height="13.11" fill="#48c888"/>
<rect x="560.32" y="305.06" width="24.62" height="13.11" fill="#40c890"/>
<rect x="584.64" y="305.06" width="24.62" height="13.11" fill="#70c860"/>
<rect x="608.96" y="305.06" width="24.62" height="13.11" fill="#b8c434"/>
<rect x="633.28" y="305.06" width="24.62" height="13.11" fill="#ecbc34"/>
<rect x="414.40" y="317.87" width="24.62" height="13.11" fill="#f4ec28"/>
<rect x="438.72" y="317.87" width="24.62" height="13.11" fill="#fccc30"/>
<rect x="463.04" y="317.87" width="24.62" height="13.11" fill="#ecb83c"/>
<rect x="487.36" y="317.87" width="24.62" height="13.11" fill="#b8c034"/>
<rect x="511.68" y="317.87" width="24.62" height="13.11" fill="#7cc85c"/>
<rect x="536.00" y="317.87" width="24.62" height="13.11" fill="#48c888"/>
<rect x="560.32" y="317.87" width="24.62" height="13.11" fill="#8ccc50"/>
<rect x="584.64" y="317.87" width="24.62" height="13.11" fill="#ccc030"/>
<rect x="608.96" y="317.87" width="24.62" height="13.11" fill="#fcb83c"/>
<rect x="633.28" y="317.87" width="24.62" height="13.11" fill="#fcd030"/>
<rect x="414.40" y="330.69" width="24.62" height="13.11" fill="#f4dc2c"/>
<rect x="438.72" y="330.69" width="24.62" height="13.11" fill="#fcbc38"/>
<rect x="463.04" y="330.69" width="24.62" height="13.11" fill="#dcb830"/>
<rect x="487.36" y="330.69" width="24.62" height="13.11" fill="#a8c43c"/>
<rect x="511.68" y="330.69" width="24.62" height="13.11" fill="#60c86c"/>
<rect x="536.00" y="330.69" width="24.62" height="13.11" fill="#a8c43c"/>
<rect x="560.32" y="330.69" width="24.62" height="13.11" fill="#dcbc2c"/>
<rect x="584.64" y="330.69" width="24.62" height="13.11" fill="#fcc034"/>
<rect x="608.96" y="330.69" width="24.62" height="13.11" fill="#f8dc2c"/>
<rect x="633.28" y="330.69" width="24.62" height="13.11" fill="#f8f818"/>
<rect x="414.40" y="343.50" width="24.62" height="13.11" fill="#e0b830"/>
<rect x="438.72" y="343.50" width="24.62" height="13.11" fill="#a8c43c"/>
<rect x="463.04" y="343.50" width="24.62" height="13.11" fill="#68c868"/>
<rect x="487.36" y="343.50" width="24.62" height="13.11" fill="#30c4a4"/>
<rect x="511.68" y="343.50" width="24.62" height="13.11" fill="#80c858"/>
<rect x="536.00" y="343.50" width="24.62" height="13.11" fill="#bcc034"/>
<rect x="560.32" y="343.50" width="24.62" height="13.11" fill="#ecb83c"/>
<rect x="584.64" y="343.50" width="24.62" height="13.11" fill="#fcc830"/>
<rect x="608.96" y="343.50" width="24.62" height="13.11" fill="#f4e42c"/>
<rect x="633.28" y="343.50" width="24.62" height="13.11" fill="#f4e02c"/>
<rect x="414.40" y="356.31" width="24.62" height="13.11" fill="#68c868"/>
<rect x="438.72" y="356.31" width="24.62" height="13.11" fill="#38c49c"/>
<rect x="463.04" y="356.31" width="24.62" height="13.11" fill="#10bcc0"/>
<rect x="487.36" y="356.31" width="24.62" height="13.11" fill="#28c0ac"/>
<rect x="511.68" y="356.31" width="24.62" height="13.11" fill="#a0c840"/>
<rect x="536.00" y="356.31" width="24.62" height="13.11" fill="#d4bc2c"/>
<rect x="560.32" y="356.31" width="24.62" height="13.11" fill="#fcbc38"/>
<rect x="584.64" y="356.31" width="24.62" height="13.11" fill="#f8d82c"/>
<rect x="608.96" y="356.31" width="24.62" height="13.11" fill="#f4e02c"/>
<rect x="633.28" y="356.31" width="24.62" height="13.11" fill="#fccc30"/>
<rect x="414.40" y="369.13" width="24.62" height="13.11" fill="#10bcc0"/>
<rect x="438.72" y="369.13" width="24.62" height="13.11" fill="#18acdc"/>
<rect x="463.04" y="369.13" width="24.62" height="13.11" fill="#20a4e4"/>
<rect x="487.36" y="369.13" width="24.62" height="13.11" fill="#38c49c"/>
<rect x="511.68" y="369.13" width="24.62" height="13.11" fill="#b8c434"/>
<rect x="536.00" y="369.13" width="24.62" height="13.11" fill="#e4b834"/>
<rect x="560.32" y="369.13" width="24.62" height="13.11" fill="#fcc834"/>
<rect x="584.64" y="369.13" width="24.62" height="13.11" fill="#f4e02c"/>
<rect x="608.96" y="369.13" width="24.62" height="13.11" fill="#fcd030"/>
<rect x="633.28" y="369.13" width="24.62" height="13.11" fill="#f8b83c"/>
<rect x="414.40" y="381.94" width="24.62" height="13.11" fill="#20a0e4"/>
<rect x="438.72" y="381.94" width="24.62" height="13.11" fill="#3080f8"/>
<rect x="463.04" y="381.94" width="24.62" height="13.11" fill="#18acdc"/>
<rect x="487.36" y="381.94" width="24.62" height="13.11" fill="#40c890"/>
<rect x="511.68" y="381.94" width="24.62" height="13.11" fill="#ccc030"/>
<rect x="536.00" y="381.94" width="24.62" height="13.11" fill="#f8bc3c"/>
<rect x="560.32" y="381.94" width="24.62" height="13.11" fill="#fcd830"/>
<rect x="584.64" y="381.94" width="24.62" height="13.11" fill="#fcc830"/>
<rect x="608.96" y="381.94" width="24.62" height="13.11" fill="#f8b83c"/>
<rect x="633.28" y="381.94" width="24.62" height="13.11" fill="#d8bc2c"/>
<rect x="414.40" y="394.76" width="24.62" height="13.11" fill="#4070fc"/>
<rect x="438.72" y="394.76" width="24.62" height="13.11" fill="#3088f8"/>
<rect x="463.04" y="394.76" width="24.62" height="13.11" fill="#08b4d0"/>
<rect x="487.36" y="394.76" width="24.62" height="13.11" fill="#58c878"/>
<rect x="511.68" y="394.76" width="24.62" height="13.11" fill="#e0bc2c"/>
<rect x="536.00" y="394.76" width="24.62" height="13.11" fill="#fcc034"/>
<rect x="560.32" y="394.76" width="24.62" height="13.11" fill="#fcc434"/>
<rect x="584.64" y="394.76" width="24.62" height="13.11" fill="#f0b83c"/>
<rect x="608.96" y="394.76" width="24.62" height="13.11" fill="#d4bc2c"/>
<rect x="633.28" y="394.76" width="24.62" height="13.11" fill="#b0c438"/>
<rect x="414.40" y="407.57" width="24.62" height="13.11" fill="#4c54f4"/>
<rect x="438.72" y="407.57" width="24.62" height="13.11" fill="#3090f0"/>
<rect x="463.04" y="407.57" width="24.62" height="13.11" fill="#10bcc0"/>
<rect x="487.36" y="407.57" width="24.62" height="13.11" fill="#78c860"/>
<rect x="511.68" y="407.57" width="24.62" height="13.11" fill="#f0b83c"/>
<rect x="536.00" y="407.57" width="24.62" height="13.11" fill="#fcc034"/>
<rect x="560.32" y="407.57" width="24.62" height="13.11" fill="#ecb83c"/>
<rect x="584.64" y="407.57" width="24.62" height="13.11" fill="#ccbc2c"/>
<rect x="608.96" y="407.57" width="24.62" height="13.11" fill="#a0c840"/>
<rect x="633.28" y="407.57" width="24.62" height="13.11" fill="#78c860"/>
<rect x="414.40" y="420.39" width="24.62" height="13.11" fill="#4464f8"/>
<rect x="438.72" y="420.39" width="24.62" height="13.11" fill="#2898ec"/>
<rect x="463.04" y="420.39" width="24.62" height="13.11" fill="#20c0b0"/>
<rect x="487.36" y="420.39" width="24.62" height="13.11" fill="#88cc50"/>
<rect x="511.68" y="420.39" width="24.62" height="13.11" fill="#fcbc38"/>
<rect x="536.00" y="420.39" width="24.62" height="13.11" fill="#e4b834"/>
<rect x="560.32" y="420.39" width="24.62" height="13.11" fill="#c4c030"/>
<rect x="584.64" y="420.39" width="24.62" height="13.11" fill="#98c848"/>
<rect x="608.96" y="420.39" width="24.62" height="13.11" fill="#68c868"/>
<rect x="633.28" y="420.39" width="24.62" height="13.11" fill="#48c888"/>
</g>
<path d="M414.40,253.80H657.60M414.40,266.61H657.60M414.40,279.43H657.60M414.40,292.24H657.60M414.40,305.06H657.60M414.40,317.87H657.60M414.40,330.69H657.60M414.40,343.50H657.60M414.40,356.31H657.60M414.40,369.13H657.60M414.40,381.94H657.60M414.40,394.76H657.60M414.40,407.57H657.60M414.40,420.39H657.60M414.40,433.20H657.60M414.40,253.80V433.20M438.72,253.80V433.20M463.04,253.80V433.20M487.36,253.80V433.20M511.68,253.80V433.20M536.00,253.80V433.20M560.32,253.80V433.20M584.64,253.80V433.20M608.96,253.80V433.20M633.28,253.80V433.20M657.60,253.80V433.20" stroke="#000" stroke-opacity="0.8" stroke-width="0.7" fill="none"/>
<defs><linearGradient id="cb397253" x1="0" y1="0" x2="0" y2="1"><stop offset="0.000" stop-color="#f9fb15"/><stop offset="0.021" stop-color="#f9fb15"/><stop offset="0.042" stop-color="#f9fb15"/><stop offset="0.062" stop-color="#f9fb15"/><stop offset="0.083" stop-color="#f9fb15"/><stop offset="0.104" stop-color="#f9fb15"/><stop offset="0.125" stop-color="#f9fb15"/><stop offset="0.146" stop-color="#f9fb15"/><stop offset="0.167" stop-color="#f9fb15"/><stop offset="0.188" stop-color="#f6f21e"/><stop offset="0.208" stop-color="#f5e825"/><stop offset="0.229" stop-color="#f6de29"/><stop offset="0.250" stop-color="#fad42e"/><stop offset="0.271" stop-color="#feca33"/><stop offset="0.292" stop-color="#fec13a"/><stop offset="0.312" stop-color="#f8ba3d"/><stop offset="0.333" stop-color="#eaba31"/><stop offset="0.354" stop-color="#dabd28"/><stop offset="0.375" stop-color="#c8c129"/><stop offset="0.396" stop-color="#b4c533"/><stop offset="0.417" stop-color="#9fc942"/><stop offset="0.438" stop-color="#88cb53"/><stop offset="0.458" stop-color="#71cd64"/><stop offset="0.479" stop-color="#5ccc76"/><stop offset="0.500" stop-color="#48cb86"/><stop offset="0.521" stop-color="#39c895"/><stop offset="0.542" stop-color="#2fc5a2"/><stop offset="0.562" stop-color="#24c2ae"/><stop offset="0.583" stop-color="#12beb9"/><stop offset="0.604" stop-color="#02bac4"/><stop offset="0.625" stop-color="#05b6ce"/><stop offset="0.646" stop-color="#13b0d7"/><stop offset="0.667" stop-color="#1caadf"/><stop offset="0.688" stop-color="#21a3e3"/><stop offset="0.708" stop-color="#259ce7"/><stop offset="0.729" stop-color="#2994ed"/><stop offset="0.750" stop-color="#2d8cf3"/><stop offset="0.771" stop-color="#2e83f9"/><stop offset="0.792" stop-color="#347afd"/><stop offset="0.812" stop-color="#3d70ff"/><stop offset="0.833" stop-color="#4367fd"/><stop offset="0.854" stop-color="#465efb"/><stop offset="0.875" stop-color="#4755f6"/><stop offset="0.896" stop-color="#484cef"/><stop offset="0.917" stop-color="#4743e7"/><stop offset="0.938" stop-color="#463adc"/><stop offset="0.958" stop-color="#4433cc"/><stop offset="0.979" stop-color="#412dbb"/><stop offset="1.000" stop-color="#3e26a8"/></linearGradient></defs>
<rect x="397.8" y="253.8" width="10.800000000000011" height="179.59999999999997" fill="url(#cb397253)" stroke="#8a8a8a" stroke-width="0.6"/>
<path d="M397.8,433.40h1.6M397.8,413.44h1.6M397.8,393.49h1.6M397.8,373.53h1.6M397.8,353.58h1.6M397.8,333.62h1.6M397.8,313.67h1.6M397.8,293.71h1.6M397.8,273.76h1.6M397.8,253.80h1.6" stroke="#262626" stroke-width="0.6" fill="none"/>
<g font-family="'Liberation Sans',sans-serif" font-weight="bold" font-size="7" fill="#262626" stroke="#262626" stroke-width="0.2">
<text x="394.2" y="435.90" text-anchor="end">0.2</text>
<text x="394.2" y="415.94" text-anchor="end">0.4</text>
<text x="394.2" y="395.99" text-anchor="end">0.6</text>
<text x="394.2" y="376.03" text-anchor="end">0.8</text>
<text x="394.2" y="356.08" text-anchor="end">1</text>
<text x="394.2" y="336.12" text-anchor="end">1.2</text>
<text x="394.2" y="316.17" text-anchor="end">1.4</text>
<text x="394.2" y="296.21" text-anchor="end">1.6</text>
<text x="394.2" y="276.26" text-anchor="end">1.8</text>
<text x="394.2" y="256.30" text-anchor="end">2</text>
</g>
<g>
<circle cx="414.5" cy="253.9" r="2.65" fill="#4a8ccc" fill-opacity="0.45"/>
<circle cx="414.5" cy="253.9" r="1.85" fill="#000"/>
<circle cx="414.5" cy="343.3" r="2.65" fill="#4a8ccc" fill-opacity="0.45"/>
<circle cx="414.5" cy="343.3" r="1.85" fill="#000"/>
<circle cx="414.5" cy="433.3" r="2.65" fill="#4a8ccc" fill-opacity="0.45"/>
<circle cx="414.5" cy="433.3" r="1.85" fill="#000"/>
<circle cx="536.2" cy="253.9" r="2.65" fill="#4a8ccc" fill-opacity="0.45"/>
<circle cx="536.2" cy="253.9" r="1.85" fill="#000"/>
<circle cx="536.2" cy="343.3" r="2.65" fill="#4a8ccc" fill-opacity="0.45"/>
<circle cx="536.2" cy="343.3" r="1.85" fill="#000"/>
<circle cx="536.2" cy="433.3" r="2.65" fill="#4a8ccc" fill-opacity="0.45"/>
<circle cx="536.2" cy="433.3" r="1.85" fill="#000"/>
<circle cx="657.6" cy="253.9" r="2.65" fill="#4a8ccc" fill-opacity="0.45"/>
<circle cx="657.6" cy="253.9" r="1.85" fill="#000"/>
<circle cx="657.6" cy="343.3" r="2.65" fill="#4a8ccc" fill-opacity="0.45"/>
<circle cx="657.6" cy="343.3" r="1.85" fill="#000"/>
<circle cx="657.6" cy="433.3" r="2.65" fill="#4a8ccc" fill-opacity="0.45"/>
<circle cx="657.6" cy="433.3" r="1.85" fill="#000"/>
</g>
<g font-family="'Liberation Sans',sans-serif" font-weight="bold" font-size="7" fill="#262626" stroke="#262626" stroke-width="0.2">
<text x="660.8" y="435.80">30</text>
<text x="660.8" y="410.17">32</text>
<text x="660.8" y="384.54">34</text>
<text x="660.8" y="358.91">36</text>
<text x="660.8" y="333.29">38</text>
<text x="660.8" y="307.66">40</text>
<text x="660.8" y="282.03">42</text>
<text x="660.8" y="256.40">44</text>
<text x="414.40" y="443.0" text-anchor="middle">7</text>
<text x="438.72" y="443.0" text-anchor="middle">6.8</text>
<text x="463.04" y="443.0" text-anchor="middle">6.6</text>
<text x="487.36" y="443.0" text-anchor="middle">6.4</text>
<text x="511.68" y="443.0" text-anchor="middle">6.2</text>
<text x="536.00" y="443.0" text-anchor="middle">6</text>
<text x="560.32" y="443.0" text-anchor="middle">5.8</text>
<text x="584.64" y="443.0" text-anchor="middle">5.6</text>
<text x="608.96" y="443.0" text-anchor="middle">5.4</text>
<text x="633.28" y="443.0" text-anchor="middle">5.2</text>
<text x="657.60" y="443.0" text-anchor="middle">5</text>
</g>
<text x="536.2" y="452.8" font-family="'Liberation Sans',sans-serif" font-weight="bold" font-size="8.3" fill="#262626" stroke="#262626" stroke-width="0.2" text-anchor="middle">pH</text>
<text transform="translate(384.6,348.0) rotate(-90)" font-family="'Liberation Sans',sans-serif" font-weight="bold" font-size="7" fill="#262626" stroke="#262626" stroke-width="0.2" text-anchor="middle">Δ log AFU/ml</text>
<text transform="translate(678.6,342.5) rotate(-90)" font-family="'Liberation Sans',sans-serif" font-weight="bold" font-size="8" fill="#262626" stroke="#262626" stroke-width="0.2" text-anchor="middle">Temperature (°C)</text>
</svg>
</body></html>
